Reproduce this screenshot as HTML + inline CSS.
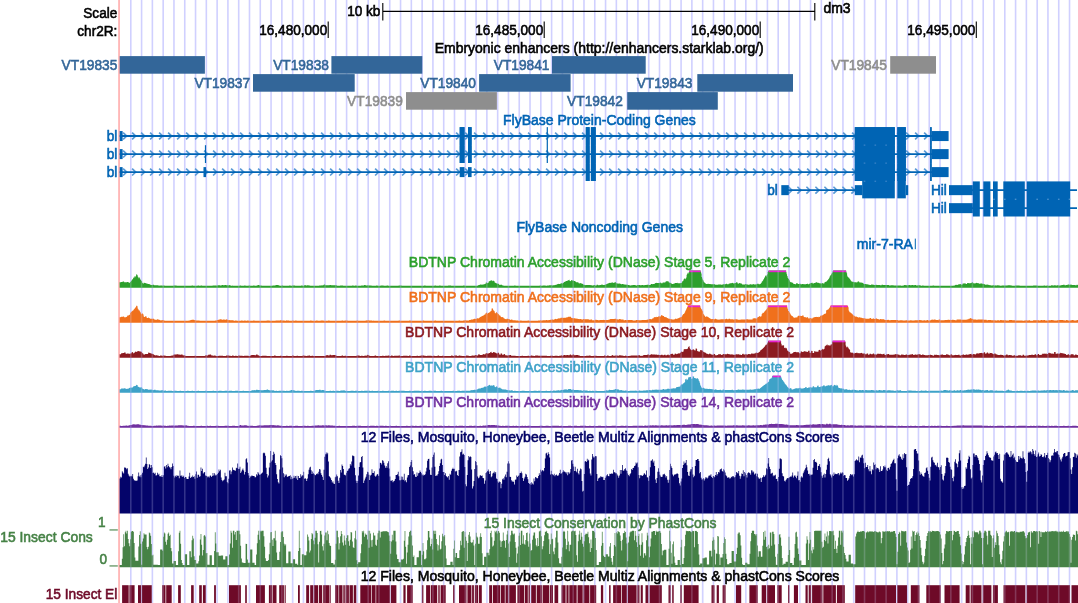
<!DOCTYPE html>
<html><head><meta charset="utf-8"><title>UCSC Genome Browser - dm3 chr2R</title>
<style>
html,body{margin:0;padding:0;background:#fff;}
body{width:1078px;height:603px;overflow:hidden;font-family:"Liberation Sans",sans-serif;}
svg{display:block;will-change:transform;}
svg text{font-family:"Liberation Sans",sans-serif;font-size:15.14px;stroke-width:0.6px;}
</style></head><body>
<svg width="1078" height="603" viewBox="0 0 1078 603">
<rect x="0" y="0" width="1078" height="603" fill="#fff"/>
<path d="M130.8 0V603M141.59 0V603M152.38 0V603M163.17 0V603M173.96 0V603M184.75 0V603M195.54 0V603M206.33 0V603M217.12 0V603M227.91 0V603M238.7 0V603M249.49 0V603M260.28 0V603M271.07 0V603M281.86 0V603M292.65 0V603M303.44 0V603M314.23 0V603M325.02 0V603M335.81 0V603M346.6 0V603M357.39 0V603M368.18 0V603M378.97 0V603M389.76 0V603M400.55 0V603M411.34 0V603M422.13 0V603M432.92 0V603M443.71 0V603M454.5 0V603M465.29 0V603M476.08 0V603M486.87 0V603M497.66 0V603M508.45 0V603M519.24 0V603M530.03 0V603M540.82 0V603M551.61 0V603M562.4 0V603M573.19 0V603M583.98 0V603M594.77 0V603M605.56 0V603M616.35 0V603M627.14 0V603M637.93 0V603M648.72 0V603M659.51 0V603M670.3 0V603M681.09 0V603M691.88 0V603M702.67 0V603M713.46 0V603M724.25 0V603M735.04 0V603M745.83 0V603M756.62 0V603M767.41 0V603M778.2 0V603M788.99 0V603M799.78 0V603M810.57 0V603M821.36 0V603M832.15 0V603M842.94 0V603M853.73 0V603M864.52 0V603M875.31 0V603M886.1 0V603M896.89 0V603M907.68 0V603M918.47 0V603M929.26 0V603M940.05 0V603M950.84 0V603M961.63 0V603M972.42 0V603M983.21 0V603M994 0V603M1004.79 0V603M1015.58 0V603M1026.37 0V603M1037.16 0V603M1047.95 0V603M1058.74 0V603M1069.53 0V603" stroke="#d0d0ff" stroke-width="1.6" fill="none"/>
<rect x="118.3" y="0" width="1.5" height="603" fill="#ffa6a6"/>
<text transform="translate(117.3 17.6) scale(0.8983 1)" fill="#000" stroke="#000" text-anchor="end">Scale</text>
<text transform="translate(117.3 36.2) scale(0.8983 1)" fill="#000" stroke="#000" text-anchor="end">chr2R:</text>
<text transform="translate(380.4 16.2) scale(0.8983 1)" fill="#000" stroke="#000" text-anchor="end">10 kb</text>
<text transform="translate(823.4 13) scale(0.8983 1)" fill="#000" stroke="#000" text-anchor="start" textLength="30.28" lengthAdjust="spacingAndGlyphs">dm3</text>
<path d="M382.8 11.4H814.8M382.8 3V20.5M814.8 3V20.5" stroke="#000" stroke-width="1.1" fill="none"/>
<path d="M328.2 21.5V38" stroke="#000" stroke-width="1.1"/>
<text transform="translate(327.2 35.2) scale(0.8983 1)" fill="#000" stroke="#000" text-anchor="end">16,480,000</text>
<path d="M544.2 21.5V38" stroke="#000" stroke-width="1.1"/>
<text transform="translate(543.2 35.2) scale(0.8983 1)" fill="#000" stroke="#000" text-anchor="end">16,485,000</text>
<path d="M760.2 21.5V38" stroke="#000" stroke-width="1.1"/>
<text transform="translate(759.2 35.2) scale(0.8983 1)" fill="#000" stroke="#000" text-anchor="end">16,490,000</text>
<path d="M976.3 21.5V38" stroke="#000" stroke-width="1.1"/>
<text transform="translate(975.3 35.2) scale(0.8983 1)" fill="#000" stroke="#000" text-anchor="end">16,495,000</text>
<text transform="translate(599.2 53.2) scale(0.8983 1)" fill="#000" stroke="#000" text-anchor="middle" textLength="366.25" lengthAdjust="spacingAndGlyphs">Embryonic enhancers (http://enhancers.starklab.org/)</text>
<rect x="119.7" y="56.1" width="85.2" height="17.6" fill="#336699"/>
<text transform="translate(117.3 70.4) scale(0.8983 1)" fill="#336699" stroke="#336699" text-anchor="end" textLength="62.01" lengthAdjust="spacingAndGlyphs">VT19835</text>
<rect x="331.4" y="56.1" width="90.9" height="17.6" fill="#336699"/>
<text transform="translate(328.9 70.4) scale(0.8983 1)" fill="#336699" stroke="#336699" text-anchor="end" textLength="62.01" lengthAdjust="spacingAndGlyphs">VT19838</text>
<rect x="552" y="56.1" width="93.7" height="17.6" fill="#336699"/>
<text transform="translate(549.5 70.4) scale(0.8983 1)" fill="#336699" stroke="#336699" text-anchor="end" textLength="62.01" lengthAdjust="spacingAndGlyphs">VT19841</text>
<rect x="890.2" y="56.1" width="45.8" height="17.6" fill="#8e8e8e"/>
<text transform="translate(887 70.4) scale(0.8983 1)" fill="#8e8e8e" stroke="#8e8e8e" text-anchor="end" textLength="62.01" lengthAdjust="spacingAndGlyphs">VT19845</text>
<rect x="253" y="74.1" width="101.7" height="17.6" fill="#336699"/>
<text transform="translate(250.1 88.4) scale(0.8983 1)" fill="#336699" stroke="#336699" text-anchor="end" textLength="62.01" lengthAdjust="spacingAndGlyphs">VT19837</text>
<rect x="479.1" y="74.1" width="91.5" height="17.6" fill="#336699"/>
<text transform="translate(476 88.4) scale(0.8983 1)" fill="#336699" stroke="#336699" text-anchor="end" textLength="62.01" lengthAdjust="spacingAndGlyphs">VT19840</text>
<rect x="697.3" y="74.1" width="95.7" height="17.6" fill="#336699"/>
<text transform="translate(692.4 88.4) scale(0.8983 1)" fill="#336699" stroke="#336699" text-anchor="end" textLength="62.01" lengthAdjust="spacingAndGlyphs">VT19843</text>
<rect x="406" y="92.1" width="90.9" height="17.6" fill="#8e8e8e"/>
<text transform="translate(402.8 106.4) scale(0.8983 1)" fill="#8e8e8e" stroke="#8e8e8e" text-anchor="end" textLength="62.01" lengthAdjust="spacingAndGlyphs">VT19839</text>
<rect x="627.2" y="92.1" width="90.6" height="17.6" fill="#336699"/>
<text transform="translate(622.8 106.4) scale(0.8983 1)" fill="#336699" stroke="#336699" text-anchor="end" textLength="62.01" lengthAdjust="spacingAndGlyphs">VT19842</text>
<text transform="translate(599.4 124.6) scale(0.8983 1)" fill="#0064b4" stroke="#0064b4" text-anchor="middle" textLength="214.63" lengthAdjust="spacingAndGlyphs">FlyBase Protein-Coding Genes</text>
<path d="M123.1 132.65L126.7 136.05L123.1 139.45M132.1 132.65L135.7 136.05L132.1 139.45M141.1 132.65L144.7 136.05L141.1 139.45M150.1 132.65L153.7 136.05L150.1 139.45M159.1 132.65L162.7 136.05L159.1 139.45M168.1 132.65L171.7 136.05L168.1 139.45M177.1 132.65L180.7 136.05L177.1 139.45M186.1 132.65L189.7 136.05L186.1 139.45M195.1 132.65L198.7 136.05L195.1 139.45M204.1 132.65L207.7 136.05L204.1 139.45M213.1 132.65L216.7 136.05L213.1 139.45M222.1 132.65L225.7 136.05L222.1 139.45M231.1 132.65L234.7 136.05L231.1 139.45M240.1 132.65L243.7 136.05L240.1 139.45M249.1 132.65L252.7 136.05L249.1 139.45M258.1 132.65L261.7 136.05L258.1 139.45M267.1 132.65L270.7 136.05L267.1 139.45M276.1 132.65L279.7 136.05L276.1 139.45M285.1 132.65L288.7 136.05L285.1 139.45M294.1 132.65L297.7 136.05L294.1 139.45M303.1 132.65L306.7 136.05L303.1 139.45M312.1 132.65L315.7 136.05L312.1 139.45M321.1 132.65L324.7 136.05L321.1 139.45M330.1 132.65L333.7 136.05L330.1 139.45M339.1 132.65L342.7 136.05L339.1 139.45M348.1 132.65L351.7 136.05L348.1 139.45M357.1 132.65L360.7 136.05L357.1 139.45M366.1 132.65L369.7 136.05L366.1 139.45M375.1 132.65L378.7 136.05L375.1 139.45M384.1 132.65L387.7 136.05L384.1 139.45M393.1 132.65L396.7 136.05L393.1 139.45M402.1 132.65L405.7 136.05L402.1 139.45M411.1 132.65L414.7 136.05L411.1 139.45M420.1 132.65L423.7 136.05L420.1 139.45M429.1 132.65L432.7 136.05L429.1 139.45M438.1 132.65L441.7 136.05L438.1 139.45M447.1 132.65L450.7 136.05L447.1 139.45M456.1 132.65L459.7 136.05L456.1 139.45M465.1 132.65L468.7 136.05L465.1 139.45M474.1 132.65L477.7 136.05L474.1 139.45M483.1 132.65L486.7 136.05L483.1 139.45M492.1 132.65L495.7 136.05L492.1 139.45M501.1 132.65L504.7 136.05L501.1 139.45M510.1 132.65L513.7 136.05L510.1 139.45M519.1 132.65L522.7 136.05L519.1 139.45M528.1 132.65L531.7 136.05L528.1 139.45M537.1 132.65L540.7 136.05L537.1 139.45M546.1 132.65L549.7 136.05L546.1 139.45M555.1 132.65L558.7 136.05L555.1 139.45M564.1 132.65L567.7 136.05L564.1 139.45M573.1 132.65L576.7 136.05L573.1 139.45M582.1 132.65L585.7 136.05L582.1 139.45M591.1 132.65L594.7 136.05L591.1 139.45M600.1 132.65L603.7 136.05L600.1 139.45M609.1 132.65L612.7 136.05L609.1 139.45M618.1 132.65L621.7 136.05L618.1 139.45M627.1 132.65L630.7 136.05L627.1 139.45M636.1 132.65L639.7 136.05L636.1 139.45M645.1 132.65L648.7 136.05L645.1 139.45M654.1 132.65L657.7 136.05L654.1 139.45M663.1 132.65L666.7 136.05L663.1 139.45M672.1 132.65L675.7 136.05L672.1 139.45M681.1 132.65L684.7 136.05L681.1 139.45M690.1 132.65L693.7 136.05L690.1 139.45M699.1 132.65L702.7 136.05L699.1 139.45M708.1 132.65L711.7 136.05L708.1 139.45M717.1 132.65L720.7 136.05L717.1 139.45M726.1 132.65L729.7 136.05L726.1 139.45M735.1 132.65L738.7 136.05L735.1 139.45M744.1 132.65L747.7 136.05L744.1 139.45M753.1 132.65L756.7 136.05L753.1 139.45M762.1 132.65L765.7 136.05L762.1 139.45M771.1 132.65L774.7 136.05L771.1 139.45M780.1 132.65L783.7 136.05L780.1 139.45M789.1 132.65L792.7 136.05L789.1 139.45M798.1 132.65L801.7 136.05L798.1 139.45M807.1 132.65L810.7 136.05L807.1 139.45M816.1 132.65L819.7 136.05L816.1 139.45M825.1 132.65L828.7 136.05L825.1 139.45M834.1 132.65L837.7 136.05L834.1 139.45M843.1 132.65L846.7 136.05L843.1 139.45M852.1 132.65L855.7 136.05L852.1 139.45M861.1 132.65L864.7 136.05L861.1 139.45M870.1 132.65L873.7 136.05L870.1 139.45M879.1 132.65L882.7 136.05L879.1 139.45M888.1 132.65L891.7 136.05L888.1 139.45M897.1 132.65L900.7 136.05L897.1 139.45M906.1 132.65L909.7 136.05L906.1 139.45M915.1 132.65L918.7 136.05L915.1 139.45M924.1 132.65L927.7 136.05L924.1 139.45" stroke="#5a9ad6" stroke-width="1.7" fill="none"/>
<path d="M119.7 136.05H932" stroke="#0064b4" stroke-width="1.9"/>
<text transform="translate(117.3 141.25) scale(0.8983 1)" fill="#0064b4" stroke="#0064b4" text-anchor="end">bl</text>
<rect x="119.7" y="131.05" width="2.9" height="10" fill="#0064b4"/>
<rect x="459.7" y="127.15" width="4.8" height="17.8" fill="#0064b4"/>
<rect x="468" y="127.15" width="3.6" height="17.8" fill="#0064b4"/>
<rect x="585.8" y="127.15" width="3.8" height="17.8" fill="#0064b4"/>
<rect x="590.9" y="127.15" width="4.8" height="17.8" fill="#0064b4"/>
<rect x="854.8" y="127.15" width="40" height="17.8" fill="#0064b4"/>
<rect x="897.3" y="127.15" width="8.5" height="17.8" fill="#0064b4"/>
<rect x="930.2" y="127.15" width="1.4" height="17.8" fill="#0064b4"/>
<rect x="931.6" y="131.05" width="17" height="10" fill="#0064b4"/>
<path d="M123.1 150.7L126.7 154.1L123.1 157.5M132.1 150.7L135.7 154.1L132.1 157.5M141.1 150.7L144.7 154.1L141.1 157.5M150.1 150.7L153.7 154.1L150.1 157.5M159.1 150.7L162.7 154.1L159.1 157.5M168.1 150.7L171.7 154.1L168.1 157.5M177.1 150.7L180.7 154.1L177.1 157.5M186.1 150.7L189.7 154.1L186.1 157.5M195.1 150.7L198.7 154.1L195.1 157.5M204.1 150.7L207.7 154.1L204.1 157.5M213.1 150.7L216.7 154.1L213.1 157.5M222.1 150.7L225.7 154.1L222.1 157.5M231.1 150.7L234.7 154.1L231.1 157.5M240.1 150.7L243.7 154.1L240.1 157.5M249.1 150.7L252.7 154.1L249.1 157.5M258.1 150.7L261.7 154.1L258.1 157.5M267.1 150.7L270.7 154.1L267.1 157.5M276.1 150.7L279.7 154.1L276.1 157.5M285.1 150.7L288.7 154.1L285.1 157.5M294.1 150.7L297.7 154.1L294.1 157.5M303.1 150.7L306.7 154.1L303.1 157.5M312.1 150.7L315.7 154.1L312.1 157.5M321.1 150.7L324.7 154.1L321.1 157.5M330.1 150.7L333.7 154.1L330.1 157.5M339.1 150.7L342.7 154.1L339.1 157.5M348.1 150.7L351.7 154.1L348.1 157.5M357.1 150.7L360.7 154.1L357.1 157.5M366.1 150.7L369.7 154.1L366.1 157.5M375.1 150.7L378.7 154.1L375.1 157.5M384.1 150.7L387.7 154.1L384.1 157.5M393.1 150.7L396.7 154.1L393.1 157.5M402.1 150.7L405.7 154.1L402.1 157.5M411.1 150.7L414.7 154.1L411.1 157.5M420.1 150.7L423.7 154.1L420.1 157.5M429.1 150.7L432.7 154.1L429.1 157.5M438.1 150.7L441.7 154.1L438.1 157.5M447.1 150.7L450.7 154.1L447.1 157.5M456.1 150.7L459.7 154.1L456.1 157.5M465.1 150.7L468.7 154.1L465.1 157.5M474.1 150.7L477.7 154.1L474.1 157.5M483.1 150.7L486.7 154.1L483.1 157.5M492.1 150.7L495.7 154.1L492.1 157.5M501.1 150.7L504.7 154.1L501.1 157.5M510.1 150.7L513.7 154.1L510.1 157.5M519.1 150.7L522.7 154.1L519.1 157.5M528.1 150.7L531.7 154.1L528.1 157.5M537.1 150.7L540.7 154.1L537.1 157.5M546.1 150.7L549.7 154.1L546.1 157.5M555.1 150.7L558.7 154.1L555.1 157.5M564.1 150.7L567.7 154.1L564.1 157.5M573.1 150.7L576.7 154.1L573.1 157.5M582.1 150.7L585.7 154.1L582.1 157.5M591.1 150.7L594.7 154.1L591.1 157.5M600.1 150.7L603.7 154.1L600.1 157.5M609.1 150.7L612.7 154.1L609.1 157.5M618.1 150.7L621.7 154.1L618.1 157.5M627.1 150.7L630.7 154.1L627.1 157.5M636.1 150.7L639.7 154.1L636.1 157.5M645.1 150.7L648.7 154.1L645.1 157.5M654.1 150.7L657.7 154.1L654.1 157.5M663.1 150.7L666.7 154.1L663.1 157.5M672.1 150.7L675.7 154.1L672.1 157.5M681.1 150.7L684.7 154.1L681.1 157.5M690.1 150.7L693.7 154.1L690.1 157.5M699.1 150.7L702.7 154.1L699.1 157.5M708.1 150.7L711.7 154.1L708.1 157.5M717.1 150.7L720.7 154.1L717.1 157.5M726.1 150.7L729.7 154.1L726.1 157.5M735.1 150.7L738.7 154.1L735.1 157.5M744.1 150.7L747.7 154.1L744.1 157.5M753.1 150.7L756.7 154.1L753.1 157.5M762.1 150.7L765.7 154.1L762.1 157.5M771.1 150.7L774.7 154.1L771.1 157.5M780.1 150.7L783.7 154.1L780.1 157.5M789.1 150.7L792.7 154.1L789.1 157.5M798.1 150.7L801.7 154.1L798.1 157.5M807.1 150.7L810.7 154.1L807.1 157.5M816.1 150.7L819.7 154.1L816.1 157.5M825.1 150.7L828.7 154.1L825.1 157.5M834.1 150.7L837.7 154.1L834.1 157.5M843.1 150.7L846.7 154.1L843.1 157.5M852.1 150.7L855.7 154.1L852.1 157.5M861.1 150.7L864.7 154.1L861.1 157.5M870.1 150.7L873.7 154.1L870.1 157.5M879.1 150.7L882.7 154.1L879.1 157.5M888.1 150.7L891.7 154.1L888.1 157.5M897.1 150.7L900.7 154.1L897.1 157.5M906.1 150.7L909.7 154.1L906.1 157.5M915.1 150.7L918.7 154.1L915.1 157.5M924.1 150.7L927.7 154.1L924.1 157.5" stroke="#5a9ad6" stroke-width="1.7" fill="none"/>
<path d="M119.7 154.1H932" stroke="#0064b4" stroke-width="1.9"/>
<text transform="translate(117.3 159.3) scale(0.8983 1)" fill="#0064b4" stroke="#0064b4" text-anchor="end">bl</text>
<rect x="119.7" y="149.1" width="2.9" height="10" fill="#0064b4"/>
<rect x="459.7" y="145.2" width="4.8" height="17.8" fill="#0064b4"/>
<rect x="468" y="145.2" width="3.6" height="17.8" fill="#0064b4"/>
<rect x="585.8" y="145.2" width="3.8" height="17.8" fill="#0064b4"/>
<rect x="590.9" y="145.2" width="4.8" height="17.8" fill="#0064b4"/>
<rect x="854.8" y="145.2" width="40" height="17.8" fill="#0064b4"/>
<rect x="897.3" y="145.2" width="8.5" height="17.8" fill="#0064b4"/>
<rect x="930.2" y="145.2" width="1.4" height="17.8" fill="#0064b4"/>
<rect x="931.6" y="149.1" width="17" height="10" fill="#0064b4"/>
<path d="M123.1 168.7L126.7 172.1L123.1 175.5M132.1 168.7L135.7 172.1L132.1 175.5M141.1 168.7L144.7 172.1L141.1 175.5M150.1 168.7L153.7 172.1L150.1 175.5M159.1 168.7L162.7 172.1L159.1 175.5M168.1 168.7L171.7 172.1L168.1 175.5M177.1 168.7L180.7 172.1L177.1 175.5M186.1 168.7L189.7 172.1L186.1 175.5M195.1 168.7L198.7 172.1L195.1 175.5M204.1 168.7L207.7 172.1L204.1 175.5M213.1 168.7L216.7 172.1L213.1 175.5M222.1 168.7L225.7 172.1L222.1 175.5M231.1 168.7L234.7 172.1L231.1 175.5M240.1 168.7L243.7 172.1L240.1 175.5M249.1 168.7L252.7 172.1L249.1 175.5M258.1 168.7L261.7 172.1L258.1 175.5M267.1 168.7L270.7 172.1L267.1 175.5M276.1 168.7L279.7 172.1L276.1 175.5M285.1 168.7L288.7 172.1L285.1 175.5M294.1 168.7L297.7 172.1L294.1 175.5M303.1 168.7L306.7 172.1L303.1 175.5M312.1 168.7L315.7 172.1L312.1 175.5M321.1 168.7L324.7 172.1L321.1 175.5M330.1 168.7L333.7 172.1L330.1 175.5M339.1 168.7L342.7 172.1L339.1 175.5M348.1 168.7L351.7 172.1L348.1 175.5M357.1 168.7L360.7 172.1L357.1 175.5M366.1 168.7L369.7 172.1L366.1 175.5M375.1 168.7L378.7 172.1L375.1 175.5M384.1 168.7L387.7 172.1L384.1 175.5M393.1 168.7L396.7 172.1L393.1 175.5M402.1 168.7L405.7 172.1L402.1 175.5M411.1 168.7L414.7 172.1L411.1 175.5M420.1 168.7L423.7 172.1L420.1 175.5M429.1 168.7L432.7 172.1L429.1 175.5M438.1 168.7L441.7 172.1L438.1 175.5M447.1 168.7L450.7 172.1L447.1 175.5M456.1 168.7L459.7 172.1L456.1 175.5M465.1 168.7L468.7 172.1L465.1 175.5M474.1 168.7L477.7 172.1L474.1 175.5M483.1 168.7L486.7 172.1L483.1 175.5M492.1 168.7L495.7 172.1L492.1 175.5M501.1 168.7L504.7 172.1L501.1 175.5M510.1 168.7L513.7 172.1L510.1 175.5M519.1 168.7L522.7 172.1L519.1 175.5M528.1 168.7L531.7 172.1L528.1 175.5M537.1 168.7L540.7 172.1L537.1 175.5M546.1 168.7L549.7 172.1L546.1 175.5M555.1 168.7L558.7 172.1L555.1 175.5M564.1 168.7L567.7 172.1L564.1 175.5M573.1 168.7L576.7 172.1L573.1 175.5M582.1 168.7L585.7 172.1L582.1 175.5M591.1 168.7L594.7 172.1L591.1 175.5M600.1 168.7L603.7 172.1L600.1 175.5M609.1 168.7L612.7 172.1L609.1 175.5M618.1 168.7L621.7 172.1L618.1 175.5M627.1 168.7L630.7 172.1L627.1 175.5M636.1 168.7L639.7 172.1L636.1 175.5M645.1 168.7L648.7 172.1L645.1 175.5M654.1 168.7L657.7 172.1L654.1 175.5M663.1 168.7L666.7 172.1L663.1 175.5M672.1 168.7L675.7 172.1L672.1 175.5M681.1 168.7L684.7 172.1L681.1 175.5M690.1 168.7L693.7 172.1L690.1 175.5M699.1 168.7L702.7 172.1L699.1 175.5M708.1 168.7L711.7 172.1L708.1 175.5M717.1 168.7L720.7 172.1L717.1 175.5M726.1 168.7L729.7 172.1L726.1 175.5M735.1 168.7L738.7 172.1L735.1 175.5M744.1 168.7L747.7 172.1L744.1 175.5M753.1 168.7L756.7 172.1L753.1 175.5M762.1 168.7L765.7 172.1L762.1 175.5M771.1 168.7L774.7 172.1L771.1 175.5M780.1 168.7L783.7 172.1L780.1 175.5M789.1 168.7L792.7 172.1L789.1 175.5M798.1 168.7L801.7 172.1L798.1 175.5M807.1 168.7L810.7 172.1L807.1 175.5M816.1 168.7L819.7 172.1L816.1 175.5M825.1 168.7L828.7 172.1L825.1 175.5M834.1 168.7L837.7 172.1L834.1 175.5M843.1 168.7L846.7 172.1L843.1 175.5M852.1 168.7L855.7 172.1L852.1 175.5M861.1 168.7L864.7 172.1L861.1 175.5M870.1 168.7L873.7 172.1L870.1 175.5M879.1 168.7L882.7 172.1L879.1 175.5M888.1 168.7L891.7 172.1L888.1 175.5M897.1 168.7L900.7 172.1L897.1 175.5M906.1 168.7L909.7 172.1L906.1 175.5M915.1 168.7L918.7 172.1L915.1 175.5M924.1 168.7L927.7 172.1L924.1 175.5" stroke="#5a9ad6" stroke-width="1.7" fill="none"/>
<path d="M119.7 172.1H932" stroke="#0064b4" stroke-width="1.9"/>
<text transform="translate(117.3 177.3) scale(0.8983 1)" fill="#0064b4" stroke="#0064b4" text-anchor="end">bl</text>
<rect x="119.7" y="167.1" width="2.9" height="10" fill="#0064b4"/>
<rect x="459.7" y="167.1" width="4.8" height="10" fill="#0064b4"/>
<rect x="468" y="167.1" width="3.6" height="10" fill="#0064b4"/>
<rect x="585.8" y="163.2" width="3.8" height="17.8" fill="#0064b4"/>
<rect x="590.9" y="163.2" width="4.8" height="17.8" fill="#0064b4"/>
<rect x="854.8" y="163.2" width="40" height="17.8" fill="#0064b4"/>
<rect x="897.3" y="163.2" width="8.5" height="17.8" fill="#0064b4"/>
<rect x="930.2" y="163.2" width="1.4" height="17.8" fill="#0064b4"/>
<rect x="931.6" y="167.1" width="17" height="10" fill="#0064b4"/>
<rect x="459.7" y="127.15" width="4.8" height="35.85" fill="#0064b4"/>
<rect x="468" y="127.15" width="3.6" height="35.85" fill="#0064b4"/>
<rect x="585.8" y="127.15" width="3.8" height="53.85" fill="#0064b4"/>
<rect x="590.9" y="127.15" width="4.8" height="53.85" fill="#0064b4"/>
<rect x="854.8" y="127.15" width="40" height="53.85" fill="#0064b4"/>
<rect x="897.3" y="127.15" width="8.5" height="53.85" fill="#0064b4"/>
<rect x="930.2" y="127.15" width="1.4" height="53.85" fill="#0064b4"/>
<rect x="546.7" y="127.15" width="1.2" height="35.85" fill="#0064b4"/>
<rect x="204.9" y="145.2" width="1.2" height="17.8" fill="#0064b4"/>
<rect x="203.5" y="167.1" width="2.6" height="10" fill="#0064b4"/>
<path d="M788.4 186.75L792 190.15L788.4 193.55M797.4 186.75L801 190.15L797.4 193.55M806.4 186.75L810 190.15L806.4 193.55M815.4 186.75L819 190.15L815.4 193.55M824.4 186.75L828 190.15L824.4 193.55M833.4 186.75L837 190.15L833.4 193.55M842.4 186.75L846 190.15L842.4 193.55M851.4 186.75L855 190.15L851.4 193.55" stroke="#5a9ad6" stroke-width="1.7" fill="none"/>
<path d="M785 190.15H860" stroke="#0064b4" stroke-width="1.9"/>
<text transform="translate(777.8 195.35) scale(0.8983 1)" fill="#0064b4" stroke="#0064b4" text-anchor="end">bl</text>
<rect x="781.3" y="185.15" width="7.5" height="10" fill="#0064b4"/>
<rect x="854.8" y="185.15" width="7.6" height="10" fill="#0064b4"/>
<rect x="862.2" y="180.5" width="32.6" height="17.85" fill="#0064b4"/>
<rect x="897.3" y="180.5" width="8.5" height="17.85" fill="#0064b4"/>
<rect x="905.8" y="185.15" width="2.4" height="10" fill="#0064b4"/>
<path d="M949 190.15H1077" stroke="#0064b4" stroke-width="1.9"/>
<text transform="translate(931 195.35) scale(0.8983 1)" fill="#0064b4" stroke="#0064b4" text-anchor="start">Hil</text>
<rect x="949" y="185.15" width="23.8" height="10" fill="#0064b4"/>
<path d="M949 208.15H1077" stroke="#0064b4" stroke-width="1.9"/>
<text transform="translate(931 213.35) scale(0.8983 1)" fill="#0064b4" stroke="#0064b4" text-anchor="start">Hil</text>
<rect x="949" y="203.15" width="23.8" height="10" fill="#0064b4"/>
<rect x="972.8" y="181.4" width="7" height="35.1" fill="#0064b4"/>
<rect x="983.3" y="181.4" width="7.1" height="35.1" fill="#0064b4"/>
<rect x="993" y="181.4" width="4.7" height="35.1" fill="#0064b4"/>
<rect x="1003.3" y="181.4" width="21.5" height="35.1" fill="#0064b4"/>
<rect x="1026.7" y="181.4" width="43.5" height="35.1" fill="#0064b4"/>
<rect x="993.2" y="198.75" width="1.6" height="0.9" fill="#6fa8dc"/>
<rect x="1003.99" y="198.75" width="1.6" height="0.9" fill="#6fa8dc"/>
<rect x="1014.78" y="198.75" width="1.6" height="0.9" fill="#6fa8dc"/>
<rect x="1036.36" y="198.75" width="1.6" height="0.9" fill="#6fa8dc"/>
<rect x="1047.15" y="198.75" width="1.6" height="0.9" fill="#6fa8dc"/>
<rect x="1057.94" y="198.75" width="1.6" height="0.9" fill="#6fa8dc"/>
<rect x="1068.73" y="198.75" width="1.6" height="0.9" fill="#6fa8dc"/>
<rect x="863.72" y="144.65" width="1.6" height="0.9" fill="#4f90cf"/>
<rect x="874.51" y="144.65" width="1.6" height="0.9" fill="#4f90cf"/>
<rect x="885.3" y="144.65" width="1.6" height="0.9" fill="#4f90cf"/>
<rect x="863.72" y="162.65" width="1.6" height="0.9" fill="#4f90cf"/>
<rect x="874.51" y="162.65" width="1.6" height="0.9" fill="#4f90cf"/>
<rect x="885.3" y="162.65" width="1.6" height="0.9" fill="#4f90cf"/>
<rect x="863.72" y="180.75" width="1.6" height="0.9" fill="#4f90cf"/>
<rect x="874.51" y="180.75" width="1.6" height="0.9" fill="#4f90cf"/>
<rect x="885.3" y="180.75" width="1.6" height="0.9" fill="#4f90cf"/>
<text transform="translate(599.7 232.1) scale(0.8983 1)" fill="#0064b4" stroke="#0064b4" text-anchor="middle" textLength="185.35" lengthAdjust="spacingAndGlyphs">FlyBase Noncoding Genes</text>
<text transform="translate(913 248.6) scale(0.8983 1)" fill="#0064b4" stroke="#0064b4" text-anchor="end" textLength="62.67" lengthAdjust="spacingAndGlyphs">mir-7-RA</text>
<rect x="914.8" y="238.6" width="1" height="10.6" fill="#0064b4"/>
<text transform="translate(599.55 266.6) scale(0.8983 1)" fill="#2ca02c" stroke="#2ca02c" text-anchor="middle" textLength="424.69" lengthAdjust="spacingAndGlyphs">BDTNP Chromatin Accessibility (DNase) Stage 5, Replicate 2</text>
<path d="M119.6 287.7V282.26H120.1H120.6H121.1V282.12H121.6H122.1H122.6V281.62H123.1H123.6H124.1V282.25H124.6H125.1H125.6V282.19H126.1H126.6H127.1V282.08H127.6H128.1H128.6V282.63H129.1H129.6H130.1V282.07H130.6V281.48H131.1V280.9H131.6V280.1H132.1V279.5H132.6V278.89H133.1V277.9H133.6V277.13H134.1V276.35H134.6V277.44H135.1V276.72H135.6V276H136.1V274.73H136.6V274.01H137.1V274.92H137.6V276.39H138.1V277.3H138.6V278.2H139.1V277.33H139.6V278.31H140.1V279.22H140.6V280.05H141.1V280.66H141.6V281.27H142.1V282.78H142.6V283.3H143.1V283.73H143.6V282.77H144.1V282.86H144.6V282.96H145.1V283.07H145.6V283.16H146.1V283.25H146.6V283.65H147.1V283.74H147.6V283.82H148.1V283.94H148.6V284.03H149.1V284.11H149.6V284.59H150.1V284.67H150.6V284.75H151.1V284.94H151.6V285.01H152.1V285.08H152.6V284.73H153.1V284.77H153.6V284.81H154.1V285.2H154.6V285.23H155.1V285.27H155.6V285.22H156.1V285.26H156.6V285.3H157.1H157.6V285.34H158.1V285.38H158.6V285.55H159.1V285.59H159.6V285.63H160.1V285.41H160.6V285.45H161.1V285.49H161.6V285.55H162.1V285.59H162.6V285.63H163.1V285.45H163.6V285.5H164.1V285.55H164.6V285.76H165.1V285.79H165.6H166.1V285.73H166.6H167.1H167.6V285.8H168.1H168.6H169.1V285.72H169.6H170.1H170.6V285.8H171.1H171.6H172.1H172.6H173.1H173.6V285.55H174.1H174.6H175.1H175.6H176.1H176.6V285.63H177.1H177.6H178.1V285.7H178.6H179.1H179.6V285.8H180.1H180.6H181.1H181.6H182.1H182.6H183.1H183.6H184.1H184.6H185.1H185.6V285.67H186.1H186.6H187.1V285.8H187.6H188.1H188.6V285.63H189.1H189.6H190.1V285.8H190.6H191.1H191.6V285.57H192.1H192.6H193.1V285.63H193.6H194.1H194.6V285.8H195.1H195.6H196.1H196.6H197.1H197.6V285.59H198.1H198.6H199.1V285.8H199.6H200.1H200.6V285.56H201.1H201.6H202.1V285.8H202.6H203.1H203.6H204.1H204.6H205.1V285.74H205.6H206.1H206.6V285.66H207.1H207.6H208.1V285.8H208.6H209.1H209.6H210.1H210.6H211.1H211.6H212.1H212.6V285.57H213.1V285.55H213.6V285.47H214.1V285.51H214.6V285.43H215.1V285.36H215.6V285.66H216.1V285.6H216.6V285.53H217.1V285.39H217.6V285.32H218.1V285.27H218.6V285.37H219.1H219.6H220.1V285.39H220.6H221.1H221.6V284.9H222.1H222.6H223.1V285.32H223.6H224.1H224.6V285.06H225.1H225.6H226.1V285.14H226.6H227.1H227.6V285.31H228.1V285.32H228.6V285.38H229.1V285.11H229.6V285.18H230.1V285.26H230.6V285.68H231.1V285.74H231.6V285.8H232.1V285.6H232.6V285.67H233.1V285.73H233.6V285.8H234.1H234.6H235.1H235.6H236.1H236.6H237.1H237.6H238.1H238.6H239.1H239.6V285.56H240.1H240.6H241.1V285.65H241.6H242.1H242.6V285.8H243.1H243.6H244.1V285.61H244.6H245.1H245.6V285.8H246.1H246.6H247.1H247.6H248.1H248.6V285.62H249.1H249.6H250.1V285.73H250.6H251.1H251.6V285.8H252.1H252.6H253.1V285.56H253.6H254.1H254.6V285.8H255.1H255.6H256.1V285.68H256.6V285.57H257.1V285.46H257.6V285.02H258.1V284.93H258.6V284.99H259.1V285.34H259.6V285.39H260.1V285.45H260.6V285.52H261.1V285.58H261.6V285.64H262.1V285.8H262.6H263.1H263.6H264.1H264.6H265.1V285.76H265.6H266.1H266.6V285.8H267.1H267.6H268.1V285.75H268.6H269.1H269.6V285.8H270.1H270.6H271.1H271.6H272.1H272.6V285.57H273.1V285.54H273.6V285.42H274.1V285.55H274.6V285.44H275.1V285.32H275.6V285.15H276.1V285.06H276.6V285.11H277.1V284.97H277.6V285.03H278.1V285.08H278.6V285.55H279.1V285.6H279.6V285.64H280.1V285.71H280.6V285.75H281.1V285.8H281.6V285.44H282.1V285.5H282.6V285.55H283.1V285.64H283.6H284.1H284.6V285.8H285.1H285.6H286.1H286.6H287.1H287.6V285.68H288.1H288.6H289.1V285.58H289.6H290.1H290.6V285.8H291.1H291.6H292.1V285.57H292.6H293.1H293.6V285.61H294.1H294.6H295.1V285.75H295.6H296.1H296.6V285.8H297.1H297.6H298.1H298.6H299.1H299.6H300.1H300.6H301.1V285.57H301.6H302.1V285.55H302.6V285.8H303.1V285.72H303.6V285.63H304.1V285.26H304.6V285.15H305.1V285.08H305.6V285.4H306.1V285.45H306.6V285.49H307.1V285.19H307.6V285.23H308.1V285.28H308.6V285.45H309.1V285.5H309.6V285.54H310.1V285.75H310.6V285.79H311.1V285.8H311.6H312.1H312.6H313.1V285.69H313.6H314.1H314.6V285.8H315.1H315.6H316.1H316.6H317.1H317.6V285.77H318.1H318.6H319.1V285.62H319.6H320.1V285.6H320.6H321.1V285.49H321.6V285.37H322.1V285.46H322.6V285.36H323.1V285.25H323.6V284.7H324.1V284.6H324.6V284.61H325.1V285.13H325.6H326.1H326.6V285.29H327.1H327.6H328.1V285.14H328.6H329.1H329.6V285.04H330.1H330.6H331.1V285.33H331.6H332.1H332.6V285.28H333.1H333.6H334.1V285.17H334.6H335.1V285.21H335.6V285.19H336.1V285.31H336.6V285.43H337.1V285.79H337.6H338.1H338.6H339.1H339.6H340.1V285.6H340.6H341.1H341.6V285.56H342.1H342.6H343.1V285.72H343.6H344.1H344.6V285.7H345.1H345.6H346.1V285.76H346.6H347.1H347.6V285.8H348.1H348.6H349.1H349.6H350.1H350.6H351.1H351.6H352.1V285.59H352.6H353.1H353.6V285.7H354.1H354.6H355.1V285.57H355.6H356.1H356.6V285.8H357.1H357.6H358.1V285.73H358.6H359.1H359.6V285.8H360.1H360.6V285.74H361.1V285.55H361.6V285.48H362.1V285.42H362.6V285.59H363.1V285.53H363.6V285.48H364.1V285H364.6V284.93H365.1V284.89H365.6V285.52H366.1V285.56H366.6V285.6H367.1V285.35H367.6V285.4H368.1V285.44H368.6V285.37H369.1V285.42H369.6V285.46H370.1V285.42H370.6V285.47H371.1V285.52H371.6V285.65H372.1V285.68H372.6H373.1V285.7H373.6H374.1H374.6V285.65H375.1H375.6H376.1V285.59H376.6H377.1H377.6V285.8H378.1H378.6H379.1V285.71H379.6H380.1H380.6V285.6H381.1H381.6H382.1V285.61H382.6H383.1H383.6V285.8H384.1H384.6H385.1V285.65H385.6H386.1H386.6V285.62H387.1H387.6H388.1V285.76H388.6H389.1H389.6V285.74H390.1H390.6H391.1V285.8H391.6H392.1H392.6V285.76H393.1H393.6H394.1V285.75H394.6H395.1H395.6V285.8H396.1H396.6H397.1V285.73H397.6H398.1H398.6V285.55H399.1H399.6H400.1V285.61H400.6H401.1H401.6V285.69H402.1H402.6H403.1V285.8H403.6H404.1H404.6V285.68H405.1H405.6H406.1V285.76H406.6H407.1H407.6V285.8H408.1H408.6H409.1V285.63H409.6H410.1H410.6V285.8H411.1H411.6H412.1V285.67H412.6H413.1H413.6V285.8H414.1H414.6H415.1V285.75H415.6H416.1H416.6V285.8H417.1H417.6H418.1H418.6H419.1H419.6V285.7H420.1H420.6H421.1V285.8H421.6H422.1H422.6V285.74H423.1H423.6H424.1V285.59H424.6H425.1H425.6V285.8H426.1H426.6H427.1H427.6H428.1H428.6H429.1H429.6H430.1V285.71H430.6H431.1H431.6V285.8H432.1H432.6H433.1H433.6H434.1H434.6V285.6H435.1H435.6H436.1V285.72H436.6H437.1H437.6V285.8H438.1H438.6H439.1V285.6H439.6H440.1H440.6V285.8H441.1H441.6H442.1V285.72H442.6H443.1H443.6V285.8H444.1H444.6H445.1H445.6H446.1H446.6V285.65H447.1H447.6H448.1V285.59H448.6H449.1H449.6V285.61H450.1H450.6H451.1V285.8H451.6H452.1H452.6V285.76H453.1H453.6H454.1V285.8H454.6H455.1H455.6H456.1H456.6H457.1H457.6H458.1H458.6V285.63H459.1H459.6H460.1H460.6H461.1H461.6V285.69H462.1H462.6H463.1V285.57H463.6H464.1H464.6V285.8H465.1H465.6H466.1H466.6H467.1H467.6H468.1H468.6H469.1H469.6H470.1H470.6H471.1H471.6H472.1H472.6H473.1H473.6V285.74H474.1H474.6H475.1V285.8H475.6H476.1V285.78H476.6V285.77H477.1V285.66H477.6V285.56H478.1V285.14H478.6V285.02H479.1V284.9H479.6V284.69H480.1V284.57H480.6V284.45H481.1V284.73H481.6V284.62H482.1V284.5H482.6V284.65H483.1V284.49H483.6V284.33H484.1V284.21H484.6V284.05H485.1V283.89H485.6V282.79H486.1V282.59H486.6V282.39H487.1V283.22H487.6V282.97H488.1V282.73H488.6V281.51H489.1V281.22H489.6V280.92H490.1V280.86H490.6V280.58H491.1V280.3H491.6V280.61H492.1V280.87H492.6V281.14H493.1V280.61H493.6V280.91H494.1V281.21H494.6V282.61H495.1V282.86H495.6V283.1H496.1V283.2H496.6V283.43H497.1V283.65H497.6V283.55H498.1V283.79H498.6V284.04H499.1V284.66H499.6V284.89H500.1V285.08H500.6V284.59H501.1V284.71H501.6V284.83H502.1V285.33H502.6V285.44H503.1V285.54H503.6V285.7H504.1V285.8H504.6H505.1H505.6H506.1H506.6V285.74H507.1H507.6H508.1V285.8H508.6H509.1H509.6V285.74H510.1H510.6H511.1V285.72H511.6H512.1H512.6V285.65H513.1H513.6H514.1V285.57H514.6H515.1H515.6V285.71H516.1H516.6H517.1V285.8H517.6H518.1H518.6H519.1H519.6H520.1H520.6H521.1H521.6H522.1H522.6H523.1H523.6H524.1H524.6V285.69H525.1H525.6H526.1V285.8H526.6H527.1H527.6H528.1H528.6H529.1H529.6H530.1H530.6V285.7H531.1H531.6H532.1V285.79H532.6H533.1H533.6V285.74H534.1H534.6H535.1V285.67H535.6H536.1H536.6V285.8H537.1H537.6H538.1V285.65H538.6H539.1H539.6V285.6H540.1H540.6V285.57H541.1V285.8H541.6H542.1H542.6V285.47H543.1V285.45H543.6V285.42H544.1V285.52H544.6V285.49H545.1V285.47H545.6V285.78H546.1V285.76H546.6V285.74H547.1V285.54H547.6V285.52H548.1V285.5H548.6V285.38H549.1V285.36H549.6V285.34H550.1V285.15H550.6V285.13H551.1V285.11H551.6V285.41H552.1V285.39H552.6V285.37H553.1V285.23H553.6V285.21H554.1V285.19H554.6V284.97H555.1V284.92H555.6V284.77H556.1V284.67H556.6V284.52H557.1V284.37H557.6V284.09H558.1V283.93H558.6V283.78H559.1V284.06H559.6V283.92H560.1V283.78H560.6V283.44H561.1V283.3H561.6V283.15H562.1V283.49H562.6V283.29H563.1V283.09H563.6V282.23H564.1V282H564.6V281.78H565.1V281.41H565.6V281.18H566.1V280.95H566.6V281H567.1V280.78H567.6V280.56H568.1V280.2H568.6V279.98H569.1V279.83H569.6V280.89H570.1V281.02H570.6V281.15H571.1V280.12H571.6V280.28H572.1V280.43H572.6V280.46H573.1V280.62H573.6V280.78H574.1V280.94H574.6V281.1H575.1V281.26H575.6V282.03H576.1V282.18H576.6V282.34H577.1V282.17H577.6V282.34H578.1V282.51H578.6V283.22H579.1V283.37H579.6V283.52H580.1V283.05H580.6V283.22H581.1V283.39H581.6V283.61H582.1V283.78H582.6V283.95H583.1V284.54H583.6V284.7H584.1V284.82H584.6V285.06H585.1V285.09H585.6V285.13H586.1V284.9H586.6V284.94H587.1V284.97H587.6V284.93H588.1V284.97H588.6V285.01H589.1V284.9H589.6V284.94H590.1V284.98H590.6V285.2H591.1V285.24H591.6V285.28H592.1V285.59H592.6V285.57H593.1V285.54H593.6V285.02H594.1V285H594.6V284.97H595.1V285.43H595.6V285.41H596.1V285.39H596.6V284.87H597.1V284.84H597.6V284.81H598.1V285.22H598.6V285.2H599.1V285.18H599.6V285.04H600.1V285.01H600.6V284.99H601.1V284.64H601.6V284.61H602.1V284.58H602.6V285.04H603.1V285.02H603.6V284.99H604.1V284.94H604.6V284.82H605.1V284.7H605.6V284.26H606.1V284.13H606.6V283.99H607.1V283.66H607.6V283.52H608.1V283.38H608.6V283.11H609.1V282.97H609.6V282.83H610.1V282.88H610.6V282.84H611.1V282.81H611.6V282.47H612.1V282.43H612.6V282.4H613.1V282.9H613.6V282.87H614.1V282.84H614.6V282.24H615.1V282.21H615.6V282.17H616.1V283.24H616.6V283.35H617.1V283.46H617.6V283.42H618.1V283.54H618.6V283.65H619.1V283.45H619.6V283.57H620.1V283.7H620.6V284.05H621.1V284.17H621.6V284.29H622.1V284.01H622.6V284.08H623.1V284.16H623.6V284.3H624.1V284.38H624.6V284.45H625.1V284.61H625.6V284.68H626.1V284.75H626.6V284.58H627.1V284.66H627.6V284.73H628.1V285H628.6V285.07H629.1V285.14H629.6V285.36H630.1V285.42H630.6H631.1V285.36H631.6H632.1H632.6V285.06H633.1H633.6H634.1V285.01H634.6H635.1H635.6V285.43H636.1H636.6H637.1V285.01H637.6H638.1H638.6V284.91H639.1H639.6H640.1V285.18H640.6V285.15H641.1V285.13H641.6V285.07H642.1V285.05H642.6V285.02H643.1V285.25H643.6V285.23H644.1V285.2H644.6V284.94H645.1V284.92H645.6V284.89H646.1H646.6V284.87H647.1V284.84H647.6V284.74H648.1V284.72H648.6V284.69H649.1V285.1H649.6V285.08H650.1V285.04H650.6V284.17H651.1V284.04H651.6V283.9H652.1V284.16H652.6V284.04H653.1V283.91H653.6V283.9H654.1V283.78H654.6V283.65H655.1V283.1H655.6V282.97H656.1V282.85H656.6V283.08H657.1V283.04H657.6V282.99H658.1V283.04H658.6V282.99H659.1V282.95H659.6V282.67H660.1V282.63H660.6V282.58H661.1V283.31H661.6V283.27H662.1V283.23H662.6V282.55H663.1V282.47H663.6V282.38H664.1V282.46H664.6V282.38H665.1V282.3H665.6V281.47H666.1V281.37H666.6V281.28H667.1V281.24H667.6V281.15H668.1V281.13H668.6V282.33H669.1V282.56H669.6V282.8H670.1V282.78H670.6V283.03H671.1V283.28H671.6V283.89H672.1V284.07H672.6V284.03H673.1V283.68H673.6V283.64H674.1V283.59H674.6V283.15H675.1V283.11H675.6V283.06H676.1V282.92H676.6V282.88H677.1V282.83H677.6V283.26H678.1V283.21H678.6V283.13H679.1V283.23H679.6V283.15H680.1V283.07H680.6V283.15H681.1V282.99H681.6V282.53H682.1V281.42H682.6V280.91H683.1V280.39H683.6V279.31H684.1V278.75H684.6V278.2H685.1V279.33H685.6V278.42H686.1V277.46H686.6V274.77H687.1V273.77H687.6V272.74H688.1V273.53H688.6V272.35H689.1V270.6H689.6H690.1H690.6H691.1H691.6H692.1H692.6H693.1H693.6H694.1H694.6H695.1H695.6H696.1H696.6H697.1H697.6H698.1H698.6H699.1H699.6H700.1H700.6V271.69H701.1V273.59H701.6V276.98H702.1V278.44H702.6V279.8H703.1V280.48H703.6V281.76H704.1V282.17H704.6V282.9H705.1V283.27H705.6V283.65H706.1V284.01H706.6V284.05H707.1V284.09H707.6V283.8H708.1V283.85H708.6V283.89H709.1V284.02H709.6V284.06H710.1V284.1H710.6V284.2H711.1V284.24H711.6V284.28H712.1H712.6V284.31H713.1V284.33H713.6V284.25H714.1V284.28H714.6V284.3H715.1V284.64H715.6V284.67H716.1V284.69H716.6V284.68H717.1V284.7H717.6V284.72H718.1V284.4H718.6V284.42H719.1V284.45H719.6V284.47H720.1V284.5H720.6V284.52H721.1V284.63H721.6V284.66H722.1H722.6V284.35H723.1V284.28H723.6V284.21H724.1V284.35H724.6V284.28H725.1V284.22H725.6V283.94H726.1V283.87H726.6V283.8H727.1V284.31H727.6V284.25H728.1V284.19H728.6V283.64H729.1V283.58H729.6V283.51H730.1V283.37H730.6V283.28H731.1V283.19H731.6V283H732.1V282.91H732.6V282.82H733.1V283.39H733.6V283.31H734.1V283.23H734.6V283.15H735.1V283.07H735.6V282.99H736.1V282.2H736.6V282.34H737.1V282.48H737.6V283.42H738.1V283.54H738.6V283.66H739.1V282.95H739.6V283.09H740.1V283.23H740.6V283.47H741.1V283.61H741.6V283.75H742.1V284.53H742.6V284.54H743.1V284.55H743.6V284.48H744.1V284.49H744.6V284.5H745.1V284.1H745.6V284.11H746.1V284.13H746.6V284.54H747.1V284.56H747.6V284.57H748.1V284.72H748.6V284.74H749.1V284.75H749.6V284.15H750.1V284.17H750.6V284.18H751.1V284.54H751.6V284.55H752.1H752.6V284.2H753.1V284.15H753.6V284.09H754.1V284.61H754.6V284.57H755.1V284.52H755.6V284.23H756.1V284.18H756.6V284.13H757.1V283.82H757.6V283.76H758.1V283.71H758.6V284.31H759.1V284.26H759.6V284.22H760.1V283.91H760.6V283.44H761.1V282.98H761.6V281.85H762.1V281.32H762.6V280.8H763.1V279.81H763.6V278.89H764.1V277.98H764.6V276.93H765.1V276H765.6V275.15H766.1V276.47H766.6V275.32H767.1V274.17H767.6V272H768.1V270.85H768.6V270.6H769.1H769.6H770.1H770.6H771.1H771.6H772.1H772.6H773.1H773.6H774.1H774.6H775.1H775.6H776.1H776.6H777.1H777.6H778.1H778.6H779.1H779.6H780.1H780.6H781.1H781.6H782.1H782.6H783.1H783.6H784.1H784.6H785.1H785.6H786.1V272.33H786.6V274.18H787.1V275.99H787.6V277.71H788.1V278.83H788.6V278.64H789.1V279.94H789.6V281.24H790.1V282.11H790.6V282.22H791.1V282.34H791.6V282.52H792.1V282.63H792.6V282.74H793.1V283.76H793.6V283.85H794.1V283.94H794.6V284.07H795.1V284.14H795.6V284.17H796.1V283.31H796.6V283.34H797.1V283.36H797.6V283.87H798.1V283.89H798.6V283.92H799.1V283.65H799.6V283.68H800.1V283.71H800.6V284.14H801.1V284.17H801.6V284.19H802.1V284.09H802.6V284.11H803.1V284.13H803.6V284.12H804.1V284.14H804.6V284.17H805.1V284.25H805.6V284.18H806.1V284.11H806.6V283.88H807.1V283.8H807.6V283.73H808.1V284.24H808.6V284.18H809.1V284.11H809.6V283.33H810.1V283.26H810.6V283.18H811.1V282.95H811.6V282.87H812.1V282.8H812.6V283.48H813.1V283.42H813.6V283.35H814.1V282.96H814.6V282.89H815.1V282.82H815.6V282.4H816.1V282.32H816.6V282.25H817.1V282.64H817.6V282.7H818.1V282.77H818.6V283.1H819.1V283.17H819.6V283.23H820.1V283.33H820.6V283.4H821.1V283.46H821.6V283.13H822.1V283.16H822.6V283.04H823.1V283.5H823.6V283.39H824.1V283.28H824.6V282.05H825.1V281.91H825.6V281.77H826.1V281.66H826.6V281.04H827.1V280.41H827.6V279.96H828.1V279.35H828.6V278.74H829.1V277.69H829.6V276.6H830.1V275.56H830.6V275.16H831.1V274.16H831.6V273.13H832.1V272.53H832.6V271.36H833.1V270.6H833.6H834.1H834.6H835.1H835.6H836.1H836.6H837.1H837.6H838.1H838.6H839.1H839.6H840.1H840.6H841.1H841.6H842.1H842.6H843.1H843.6H844.1H844.6H845.1H845.6H846.1V271.68H846.6V273.18H847.1V275.75H847.6V277.09H848.1V277.79H848.6V277.36H849.1V278.14H849.6V278.92H850.1V279.73H850.6V280.51H851.1V281.16H851.6V281.57H852.1V281.7H852.6V281.83H853.1V281.86H853.6V282H854.1V282.13H854.6V282.26H855.1V282.34H855.6V282.18H856.1V282.49H856.6V282.35H857.1V282.2H857.6V281.6H858.1V281.44H858.6V281.29H859.1V282.2H859.6V282.39H860.1V282.58H860.6V282.4H861.1V282.6H861.6V282.81H862.1V282.86H862.6V283.07H863.1V283.26H863.6V283.91H864.1V284.04H864.6V284.17H865.1V283.97H865.6V284.12H866.1V284.26H866.6V284.16H867.1V284.32H867.6V284.47H868.1V284.61H868.6V284.63H869.1V284.64H869.6V284.95H870.1V284.97H870.6V284.99H871.1V284.47H871.6V284.49H872.1V284.51H872.6V284.73H873.1V284.75H873.6V284.77H874.1V285.02H874.6V285.04H875.1V285.05H875.6V284.84H876.1V284.86H876.6V284.88H877.1V284.96H877.6V284.97H878.1V284.99H878.6V285.03H879.1V285.05H879.6V285.06H880.1V285.18H880.6H881.1H881.6V284.79H882.1H882.6H883.1V285.05H883.6H884.1H884.6V285.04H885.1H885.6H886.1V285.02H886.6H887.1H887.6V284.91H888.1H888.6H889.1V285.54H889.6H890.1H890.6V285.19H891.1H891.6H892.1V285.13H892.6H893.1H893.6V285.45H894.1H894.6H895.1V285.39H895.6H896.1H896.6V285.62H897.1H897.6H898.1V285.56H898.6H899.1H899.6V285.47H900.1H900.6H901.1V285.63H901.6H902.1H902.6V285.52H903.1H903.6H904.1V285.1H904.6H905.1H905.6V285.29H906.1H906.6H907.1V285.3H907.6H908.1H908.6V284.99H909.1H909.6H910.1V285.22H910.6H911.1H911.6V284.93H912.1H912.6H913.1V285.14H913.6H914.1H914.6V285.01H915.1H915.6V285.04H916.1V285.53H916.6V285.56H917.1V285.59H917.6V285.3H918.1V285.33H918.6V285.36H919.1V285.29H919.6V285.33H920.1V285.36H920.6V285.79H921.1H921.6H922.1V285.39H922.6V285.43H923.1V285.46H923.6V285.8H924.1H924.6H925.1H925.6H926.1H926.6H927.1H927.6H928.1H928.6H929.1H929.6V285.74H930.1H930.6H931.1V285.8H931.6H932.1H932.6V285.58H933.1H933.6H934.1V285.8H934.6H935.1H935.6V285.79H936.1H936.6H937.1V285.75H937.6H938.1H938.6V285.8H939.1H939.6H940.1H940.6H941.1H941.6V285.72H942.1H942.6H943.1V285.77H943.6H944.1H944.6V285.8H945.1H945.6H946.1V285.69H946.6H947.1H947.6V285.8H948.1H948.6H949.1H949.6H950.1H950.6H951.1V285.79H951.6V285.72H952.1V285.77H952.6V285.71H953.1V285.65H953.6V285.52H954.1V285.45H954.6V285.39H955.1V284.93H955.6V284.86H956.1V284.78H956.6V284.97H957.1V284.9H957.6V284.84H958.1V284.38H958.6V284.3H959.1V284.22H959.6V284.27H960.1V284.19H960.6V284.12H961.1V284.65H961.6V284.58H962.1V284.52H962.6V283.59H963.1V283.51H963.6V283.43H964.1V283.4H964.6V283.32H965.1V283.24H965.6V284.07H966.1V284.02H966.6V283.96H967.1V283.03H967.6V282.97H968.1V282.9H968.6V283.37H969.1V283.31H969.6V283.25H970.1V283.14H970.6V283.09H971.1V283.03H971.6V282.38H972.1V282.35H972.6V282.4H973.1V283.31H973.6V283.36H974.1V283.4H974.6V283.13H975.1V283.18H975.6V283.23H976.1V282.83H976.6V282.89H977.1V282.94H977.6V283.22H978.1V283.28H978.6V283.33H979.1V283.64H979.6V283.69H980.1V283.75H980.6V283.31H981.1V283.39H981.6V283.47H982.1V283.7H982.6V283.77H983.1V283.85H983.6V284.11H984.1V284.18H984.6V284.26H985.1V284.73H985.6V284.8H986.1V284.86H986.6V284.53H987.1V284.6H987.6V284.67H988.1V284.87H988.6V284.94H989.1V285H989.6V285.25H990.1V285.3H990.6V285.32H991.1V285.44H991.6V285.46H992.1V285.47H992.6V285.19H993.1V285.21H993.6V285.23H994.1V285.5H994.6V285.52H995.1V285.54H995.6V285.36H996.1V285.38H996.6V285.4H997.1V285.28H997.6V285.3H998.1V285.32H998.6V285.47H999.1V285.49H999.6V285.51H1000.1V285.64H1000.6H1001.1H1001.6V285.47H1002.1H1002.6H1003.1V285.58H1003.6H1004.1H1004.6V285.39H1005.1H1005.6H1006.1V285.54H1006.6H1007.1H1007.6V285.3H1008.1H1008.6H1009.1V285.34H1009.6H1010.1H1010.6V285.48H1011.1H1011.6H1012.1V285.76H1012.6H1013.1H1013.6V285.8H1014.1H1014.6H1015.1V285.44H1015.6H1016.1H1016.6V285.51H1017.1H1017.6H1018.1V285.61H1018.6H1019.1H1019.6V285.77H1020.1H1020.6H1021.1V285.8H1021.6H1022.1H1022.6V285.63H1023.1H1023.6H1024.1V285.71H1024.6H1025.1H1025.6H1026.1H1026.6H1027.1V285.7H1027.6H1028.1H1028.6V285.66H1029.1H1029.6H1030.1V285.8H1030.6H1031.1H1031.6H1032.1H1032.6H1033.1V285.5H1033.6H1034.1H1034.6V285.51H1035.1H1035.6H1036.1V285.5H1036.6H1037.1H1037.6V285.8H1038.1H1038.6H1039.1H1039.6H1040.1H1040.6V285.75H1041.1H1041.6H1042.1V285.64H1042.6H1043.1H1043.6V285.5H1044.1H1044.6H1045.1V285.77H1045.6H1046.1H1046.6V285.5H1047.1H1047.6H1048.1V285.74H1048.6H1049.1H1049.6V285.71H1050.1H1050.6H1051.1V285.35H1051.6H1052.1H1052.6V285.39H1053.1H1053.6H1054.1V285.32H1054.6H1055.1H1055.6V285.45H1056.1H1056.6H1057.1V285.36H1057.6H1058.1H1058.6V285.5H1059.1H1059.6H1060.1V285.39H1060.6V285.35H1061.1V285.32H1061.6V285.02H1062.1V284.98H1062.6V284.94H1063.1V284.84H1063.6V284.8H1064.1V284.76H1064.6V285.25H1065.1V285.22H1065.6V285.19H1066.1V285.12H1066.6V285.09H1067.1V285.05H1067.6V284.5H1068.1V284.47H1068.6V284.49H1069.1V284.65H1069.6V284.67H1070.1V284.69H1070.6V284.61H1071.1V284.63H1071.6V284.65H1072.1V285.07H1072.6V285.09H1073.1V285.11H1073.6V284.98H1074.1V285H1074.6V285.02H1075.1V285.15H1075.6V285.17H1076.1V285.19H1076.6V284.83H1077.1V284.85H1077.6V284.88H1078.1V287.7Z" fill="#2ca02c"/>
<rect x="689.1" y="270.5" width="11.5" height="1.7" fill="#e81fd0"/>
<rect x="768.6" y="270.5" width="17.5" height="1.7" fill="#e81fd0"/>
<rect x="833.1" y="270.5" width="13" height="1.7" fill="#e81fd0"/>
<text transform="translate(599.55 301.6) scale(0.8983 1)" fill="#f0701c" stroke="#f0701c" text-anchor="middle" textLength="424.69" lengthAdjust="spacingAndGlyphs">BDTNP Chromatin Accessibility (DNase) Stage 9, Replicate 2</text>
<path d="M119.6 322.7V317.18H120.1V317.14H120.6V317.1H121.1V316.8H121.6V316.76H122.1V316.72H122.6V316.66H123.1V316.62H123.6V316.57H124.1V317.3H124.6V317.26H125.1V317.18H125.6V317.16H126.1V316.94H126.6V316.72H127.1V315.87H127.6V315.62H128.1V315.38H128.6V315.33H129.1V315.05H129.6V314.58H130.1V312.91H130.6V312.37H131.1V311.83H131.6V311.61H132.1V311.1H132.6V310.6H133.1V310.3H133.6V309.6H134.1V308.91H134.6V308.33H135.1V307.63H135.6V306.94H136.1V305.98H136.6V305.6H137.1V306.16H137.6V308.39H138.1V309.27H138.6V310.15H139.1V310.27H139.6V311.15H140.1V311.97H140.6V313.23H141.1V313.74H141.6V314.26H142.1V313.2H142.6V313.82H143.1V314.44H143.6V316.51H144.1V316.94H144.6V317.11H145.1V316.14H145.6V316.35H146.1V316.56H146.6V317.78H147.1V317.95H147.6V318.12H148.1V317.54H148.6V317.74H149.1V317.94H149.6V318.52H150.1V318.69H150.6V318.76H151.1H151.6V318.83H152.1V318.91H152.6V318.56H153.1V318.64H153.6V318.72H154.1V319.55H154.6V319.62H155.1V319.68H155.6V319.71H156.1V319.78H156.6V319.85H157.1V319.23H157.6V319.32H158.1V319.4H158.6V319.79H159.1V319.87H159.6V319.95H160.1V320.31H160.6V320.38H161.1V320.45H161.6V319.96H162.1V320.05H162.6V320.14H163.1V320.25H163.6V320.33H164.1V320.42H164.6V320.8H165.1H165.6H166.1H166.6H167.1H167.6H168.1H168.6H169.1H169.6H170.1H170.6V320.74H171.1H171.6H172.1V320.8H172.6H173.1H173.6V320.7H174.1H174.6H175.1V320.8H175.6H176.1H176.6H177.1H177.6H178.1V320.64H178.6H179.1H179.6V320.8H180.1H180.6H181.1H181.6H182.1H182.6V320.75H183.1H183.6H184.1V320.8H184.6H185.1H185.6H186.1H186.6H187.1H187.6H188.1H188.6V320.57H189.1V320.48H189.6V320.38H190.1V320.15H190.6V320.05H191.1V319.95H191.6V319.84H192.1V319.74H192.6V319.64H193.1V319.8H193.6V319.86H194.1V319.93H194.6V320.2H195.1V320.26H195.6V320.33H196.1V320.38H196.6V320.45H197.1V320.51H197.6V320.38H198.1V320.45H198.6V320.52H199.1V320.59H199.6V320.66H200.1V320.71H200.6V320.8H201.1H201.6H202.1H202.6H203.1H203.6H204.1H204.6H205.1H205.6H206.1H206.6V320.64H207.1H207.6H208.1V320.8H208.6H209.1H209.6H210.1H210.6H211.1V320.64H211.6H212.1H212.6V320.8H213.1H213.6H214.1V320.76H214.6V320.63H215.1V320.5H215.6V320.55H216.1V320.43H216.6V320.31H217.1V320.04H217.6V319.92H218.1V319.79H218.6V319.69H219.1V319.59H219.6H220.1V319.28H220.6H221.1H221.6V319.82H222.1H222.6H223.1V319.46H223.6H224.1H224.6V319.76H225.1H225.6H226.1V319.35H226.6V319.42H227.1V319.49H227.6V320.07H228.1V320.12H228.6V320.18H229.1V320.07H229.6V320.14H230.1V320.2H230.6V320.22H231.1V320.28H231.6V320.35H232.1V320.22H232.6V320.25H233.1V320.29H233.6V320.67H234.1V320.69H234.6V320.72H235.1V320.52H235.6V320.55H236.1V320.58H236.6V320.75H237.1V320.78H237.6V320.8H238.1H238.6H239.1H239.6V320.79H240.1V320.8H240.6H241.1V320.57H241.6H242.1H242.6V320.8H243.1H243.6H244.1V320.57H244.6H245.1H245.6V320.8H246.1H246.6H247.1V320.59H247.6H248.1H248.6V320.8H249.1H249.6H250.1H250.6H251.1H251.6V320.68H252.1H252.6H253.1V320.59H253.6H254.1H254.6V320.8H255.1H255.6H256.1H256.6H257.1H257.6V320.66H258.1H258.6H259.1V320.8H259.6H260.1H260.6H261.1H261.6H262.1H262.6H263.1H263.6H264.1H264.6H265.1V320.74H265.6H266.1H266.6V320.56H267.1H267.6H268.1H268.6H269.1H269.6V320.8H270.1H270.6H271.1H271.6H272.1H272.6H273.1H273.6H274.1V320.66H274.6H275.1V320.65H275.6V320.57H276.1V320.52H276.6V320.46H277.1V320.51H277.6V320.46H278.1V320.41H278.6V320.6H279.1V320.55H279.6V320.51H280.1V320.29H280.6V320.31H281.1V320.34H281.6V320.39H282.1V320.42H282.6V320.44H283.1V320.38H283.6V320.41H284.1V320.43H284.6V320.66H285.1V320.69H285.6V320.71H286.1V320.36H286.6V320.39H287.1V320.42H287.6V320.47H288.1V320.5H288.6V320.53H289.1V320.8H289.6H290.1H290.6H291.1H291.6H292.1V320.61H292.6H293.1H293.6V320.8H294.1H294.6H295.1V320.58H295.6H296.1H296.6V320.79H297.1H297.6H298.1V320.7H298.6H299.1H299.6H300.1H300.6H301.1V320.8H301.6H302.1H302.6H303.1H303.6H304.1H304.6H305.1H305.6V320.71H306.1H306.6H307.1H307.6H308.1H308.6V320.8H309.1H309.6H310.1V320.61H310.6H311.1H311.6V320.8H312.1H312.6H313.1H313.6H314.1H314.6H315.1H315.6H316.1V320.56H316.6H317.1H317.6V320.77H318.1H318.6H319.1V320.74H319.6H320.1H320.6V320.59H321.1H321.6H322.1V320.57H322.6H323.1H323.6V320.67H324.1H324.6H325.1V320.8H325.6H326.1H326.6V320.76H327.1H327.6H328.1V320.6H328.6H329.1H329.6V320.66H330.1H330.6H331.1V320.76H331.6H332.1H332.6V320.8H333.1H333.6H334.1H334.6H335.1H335.6V320.68H336.1H336.6H337.1V320.77H337.6H338.1H338.6V320.8H339.1H339.6H340.1V320.69H340.6H341.1H341.6V320.6H342.1H342.6H343.1V320.65H343.6H344.1H344.6V320.6H345.1H345.6H346.1H346.6H347.1H347.6V320.78H348.1H348.6H349.1V320.66H349.6H350.1H350.6V320.8H351.1H351.6H352.1H352.6H353.1H353.6H354.1H354.6H355.1H355.6H356.1H356.6V320.58H357.1H357.6H358.1V320.71H358.6H359.1H359.6V320.78H360.1H360.6H361.1V320.74H361.6H362.1H362.6V320.8H363.1H363.6H364.1V320.78H364.6H365.1V320.76H365.6V320.55H366.1V320.43H366.6V320.31H367.1V320.38H367.6V320.26H368.1V320.18H368.6V320.34H369.1V320.39H369.6V320.45H370.1V320.4H370.6V320.46H371.1V320.52H371.6V320.62H372.1V320.68H372.6V320.73H373.1V320.6H373.6V320.66H374.1V320.71H374.6V320.8H375.1H375.6H376.1H376.6H377.1H377.6H378.1H378.6H379.1V320.7H379.6H380.1H380.6V320.67H381.1H381.6H382.1V320.72H382.6H383.1H383.6V320.58H384.1H384.6H385.1V320.8H385.6H386.1H386.6H387.1H387.6H388.1H388.6H389.1H389.6H390.1H390.6H391.1H391.6H392.1H392.6V320.72H393.1H393.6H394.1V320.8H394.6H395.1H395.6H396.1H396.6H397.1H397.6H398.1H398.6V320.58H399.1H399.6H400.1V320.8H400.6H401.1H401.6H402.1H402.6H403.1H403.6H404.1H404.6H405.1H405.6H406.1H406.6H407.1H407.6H408.1H408.6H409.1V320.59H409.6H410.1H410.6V320.8H411.1H411.6H412.1V320.7H412.6H413.1H413.6V320.8H414.1H414.6H415.1H415.6H416.1H416.6V320.75H417.1H417.6H418.1V320.63H418.6H419.1H419.6V320.8H420.1H420.6H421.1H421.6H422.1H422.6V320.62H423.1H423.6H424.1V320.63H424.6H425.1H425.6V320.8H426.1H426.6H427.1V320.78H427.6H428.1H428.6V320.67H429.1H429.6H430.1V320.8H430.6H431.1H431.6V320.71H432.1H432.6H433.1H433.6H434.1H434.6V320.56H435.1H435.6H436.1V320.77H436.6H437.1H437.6V320.71H438.1H438.6H439.1V320.8H439.6H440.1H440.6V320.68H441.1H441.6H442.1V320.8H442.6H443.1H443.6H444.1H444.6H445.1H445.6H446.1H446.6H447.1H447.6H448.1H448.6H449.1H449.6H450.1H450.6H451.1V320.78H451.6H452.1H452.6V320.8H453.1H453.6H454.1H454.6H455.1H455.6V320.65H456.1H456.6H457.1V320.8H457.6H458.1H458.6V320.58H459.1H459.6H460.1V320.75H460.6H461.1H461.6V320.8H462.1H462.6H463.1V320.51H463.6V320.46H464.1V320.41H464.6V320.35H465.1V320.3H465.6V320.26H466.1V320.55H466.6V320.5H467.1V320.46H467.6V320.54H468.1V320.5H468.6V320.46H469.1V320.09H469.6V320.04H470.1V319.98H470.6V319.72H471.1V319.59H471.6V319.46H472.1V319.52H472.6V319.39H473.1V319.27H473.6V319H474.1V318.87H474.6V318.74H475.1V318.97H475.6V318.86H476.1V318.74H476.6V318.41H477.1V318.29H477.6V318.17H478.1V318.41H478.6V318.14H479.1V317.86H479.6V317.39H480.1V317.11H480.6V316.82H481.1V316.58H481.6V316.3H482.1V316.01H482.6V315.72H483.1V315.44H483.6V315.15H484.1V314.84H484.6V314.55H485.1V314.25H485.6V313.07H486.1V312.74H486.6V312.42H487.1V313.64H487.6V313.36H488.1V313.08H488.6V312.71H489.1V312.39H489.6V312.03H490.1V311.53H490.6V311.16H491.1V310.8H491.6V308.57H492.1V308.35H492.6V308.72H493.1V310.25H493.6V310.61H494.1V310.98H494.6V312.57H495.1V312.96H495.6V313.44H496.1V311.99H496.6V312.53H497.1V313.07H497.6V313.53H498.1V314.08H498.6V314.62H499.1V315.2H499.6V315.47H500.1V315.74H500.6V316.72H501.1V316.96H501.6V317.2H502.1V316.93H502.6V317.2H503.1V317.46H503.6V318.23H504.1V318.47H504.6V318.7H505.1V319.08H505.6V319.16H506.1V319.24H506.6V318.63H507.1V318.72H507.6V318.82H508.1V318.94H508.6V319.03H509.1V319.12H509.6V319.72H510.1V319.8H510.6V319.88H511.1V319.46H511.6V319.55H512.1V319.64H512.6V320.29H513.1V320.33H513.6V320.37H514.1V320.22H514.6V320.26H515.1V320.3H515.6V320.53H516.1V320.57H516.6V320.61H517.1V320.56H517.6V320.6H518.1V320.64H518.6V320.69H519.1V320.73H519.6V320.77H520.1V320.51H520.6V320.56H521.1V320.61H521.6V320.8H522.1H522.6H523.1H523.6H524.1H524.6H525.1H525.6H526.1H526.6H527.1H527.6V320.62H528.1H528.6H529.1V320.75H529.6H530.1H530.6V320.8H531.1H531.6H532.1V320.71H532.6H533.1H533.6V320.78H534.1H534.6H535.1V320.8H535.6H536.1V320.77H536.6V320.7H537.1V320.67H537.6V320.65H538.1V320.55H538.6V320.52H539.1V320.5H539.6V320.38H540.1V320.36H540.6V320.33H541.1V320.47H541.6V320.44H542.1V320.41H542.6V320.31H543.1V320.28H543.6V320.25H544.1V320.33H544.6V320.3H545.1V320.28H545.6V320.14H546.1V320.12H546.6V320.09H547.1V320.22H547.6V320.2H548.1V320.16H548.6V320.09H549.1V320.04H549.6V319.98H550.1V319.85H550.6V319.8H551.1V319.74H551.6V319.53H552.1V319.47H552.6V319.41H553.1V319.7H553.6V319.65H554.1V319.6H554.6V319H555.1V318.94H555.6V318.87H556.1V319.19H556.6V319.1H557.1V319H557.6V318.56H558.1V318.46H558.6V318.36H559.1V318.43H559.6V318.33H560.1V318.24H560.6V317.85H561.1V317.75H561.6V317.64H562.1V317.86H562.6V317.76H563.1V317.67H563.6V317.91H564.1V317.84H564.6V317.78H565.1V317.74H565.6V317.67H566.1V317.61H566.6V317.28H567.1V317.21H567.6V317.14H568.1V316.87H568.6V316.8H569.1V316.76H569.6V316.72H570.1V316.79H570.6V316.86H571.1V317.87H571.6V317.93H572.1V317.99H572.6V318.14H573.1V318.2H573.6V318.26H574.1H574.6V318.32H575.1V318.38H575.6V318.49H576.1V318.57H576.6V318.64H577.1V318.75H577.6V318.83H578.1V318.91H578.6V319.03H579.1V319.11H579.6V319.18H580.1V319.02H580.6V319.1H581.1V319.18H581.6V319.39H582.1V319.46H582.6V319.51H583.1V319.05H583.6V319.1H584.1V319.15H584.6V319.26H585.1V319.31H585.6V319.36H586.1V319.13H586.6V319.19H587.1V319.24H587.6V319.3H588.1V319.36H588.6V319.41H589.1V319.63H589.6V319.68H590.1V319.73H590.6V319.59H591.1V319.6H591.6V319.61H592.1V320.28H592.6H593.1H593.6V320.16H594.1H594.6H595.1V319.71H595.6V319.72H596.1V319.73H596.6V320.05H597.1H597.6H598.1V320.26H598.6H599.1H599.6V319.92H600.1H600.6V319.89H601.1V320.09H601.6V320.06H602.1V320.03H602.6V319.91H603.1V319.88H603.6V319.85H604.1V319.99H604.6V319.96H605.1V319.93H605.6V319.96H606.1V319.93H606.6V319.9H607.1V319.99H607.6V319.96H608.1V319.94H608.6V319.5H609.1V319.47H609.6V319.44H610.1V319.12H610.6V319.09H611.1V319.05H611.6V318.99H612.1V318.95H612.6V318.91H613.1V319.06H613.6V319.03H614.1V318.99H614.6V318.81H615.1V318.77H615.6V318.74H616.1V319.23H616.6V319.28H617.1V319.32H617.6V319.42H618.1V319.46H618.6V319.5H619.1V319.02H619.6V319.07H620.1V319.12H620.6V319.43H621.1V319.47H621.6V319.52H622.1H622.6V319.56H623.1V319.6H623.6V320.14H624.1V320.18H624.6V320.22H625.1V320.1H625.6V320.12H626.1V320.15H626.6V319.99H627.1V320.02H627.6V320.04H628.1V319.9H628.6V319.92H629.1V319.95H629.6V319.91H630.1V319.94H630.6V319.97H631.1V320.04H631.6V320.07H632.1V320.09H632.6V320.38H633.1V320.4H633.6V320.43H634.1H634.6V320.45H635.1V320.47H635.6V320.15H636.1V320.12H636.6V320.1H637.1V319.99H637.6V319.96H638.1V319.94H638.6V320.23H639.1V320.2H639.6V320.18H640.1V320.35H640.6V320.32H641.1V320.3H641.6V319.99H642.1V319.96H642.6V319.93H643.1V319.97H643.6V319.94H644.1V319.92H644.6V320.02H645.1V319.98H645.6V319.9H646.1V319.92H646.6V319.84H647.1V319.76H647.6V319.55H648.1V319.47H648.6V319.38H649.1V319.1H649.6V319.01H650.1V318.92H650.6V319.29H651.1V319.22H651.6V319.14H652.1V318.62H652.6V318.42H653.1V318.21H653.6V317.54H654.1V317.31H654.6V317.09H655.1V317.14H655.6V316.93H656.1V316.72H656.6V317.22H657.1V317.04H657.6V316.9H658.1V316.5H658.6V316.35H659.1V316.2H659.6V316.58H660.1V316.45H660.6V316.31H661.1V315.11H661.6V315.27H662.1V315.43H662.6V315.76H663.1V315.92H663.6V316.07H664.1V316.94H664.6V317.07H665.1V317.25H665.6V317.03H666.1V317.37H666.6V317.71H667.1V317.99H667.6V318.33H668.1V318.62H668.6V318.7H669.1V318.77H669.6V318.84H670.1V319.09H670.6V319.16H671.1V319.22H671.6V319.35H672.1V319.41H672.6V319.48H673.1V319.5H673.6V319.57H674.1V319.59H674.6V318.88H675.1V318.7H675.6V318.51H676.1V318.98H676.6V318.83H677.1V318.67H677.6V318.33H678.1V318.15H678.6V317.9H679.1V317.7H679.6V317.45H680.1V317.21H680.6V317.37H681.1V317.06H681.6V316.45H682.1V315.42H682.6V314.77H683.1V314.12H683.6V313.92H684.1V313.25H684.6V312.38H685.1V311.16H685.6V310.25H686.1V309.34H686.6V308.1H687.1V306.92H687.6V305.75H688.1V305.6H688.6H689.1H689.6H690.1H690.6H691.1H691.6H692.1H692.6H693.1H693.6H694.1H694.6H695.1H695.6H696.1H696.6H697.1H697.6H698.1H698.6H699.1H699.6H700.1V306.51H700.6V307.9H701.1V309.3H701.6V309.14H702.1V310.44H702.6V311.35H703.1V313.69H703.6V314.52H704.1V315.35H704.6V315.91H705.1V316.65H705.6V316.88H706.1V316.29H706.6V316.56H707.1V316.83H707.6V316.87H708.1V317.15H708.6V317.43H709.1V318.06H709.6V318.32H710.1V318.53H710.6V319.07H711.1V319.11H711.6V319.15H712.1V318.93H712.6V318.97H713.1V319.01H713.6V319.19H714.1V319.23H714.6V319.27H715.1V318.8H715.6V318.84H716.1V318.89H716.6V319.46H717.1V319.5H717.6V319.54H718.1V319.61H718.6V319.64H719.1V319.68H719.6V319.35H720.1V319.38H720.6V319.36H721.1V319.34H721.6V319.32H722.1V319.3H722.6V319.32H723.1V319.3H723.6V319.28H724.1V319.35H724.6V319.33H725.1V319.31H725.6V318.88H726.1V318.86H726.6V318.83H727.1V319.25H727.6V319.23H728.1V319.21H728.6V318.77H729.1V318.74H729.6V318.72H730.1V319.2H730.6V319.23H731.1V319.26H731.6V319.23H732.1V319.26H732.6V319.29H733.1V319.41H733.6V319.44H734.1V319.47H734.6V319.19H735.1V319.23H735.6V319.26H736.1H736.6V319.29H737.1V319.32H737.6V319.76H738.1V319.79H738.6V319.82H739.1V319.63H739.6V319.66H740.1V319.68H740.6V319.5H741.1V319.48H741.6V319.46H742.1V319.61H742.6V319.59H743.1V319.57H743.6V319.43H744.1V319.41H744.6V319.38H745.1V319.4H745.6V319.38H746.1V319.36H746.6V319.26H747.1V319.24H747.6V319.22H748.1V319.5H748.6V319.48H749.1V319.46H749.6V319.48H750.1V319.45H750.6V319.38H751.1V319.56H751.6V319.49H752.1V319.42H752.6V318.52H753.1V318.43H753.6V318.35H754.1V318.36H754.6V318.28H755.1V318.19H755.6V318.54H756.1V318.46H756.6V318.38H757.1V317.61H757.6V317.26H758.1V316.91H758.6V316.65H759.1V316.31H759.6V315.97H760.1V316.82H760.6V316.53H761.1V316.18H761.6V314.25H762.1V313.53H762.6V312.81H763.1V313.09H763.6V312.44H764.1V311.77H764.6V311.34H765.1V310.64H765.6V309.94H766.1V309.39H766.6V308.63H767.1V307.63H767.6V306.22H768.1V305.6H768.6H769.1H769.6H770.1H770.6H771.1H771.6H772.1H772.6H773.1H773.6H774.1H774.6H775.1H775.6H776.1H776.6H777.1H777.6H778.1H778.6H779.1H779.6H780.1H780.6H781.1H781.6H782.1H782.6H783.1H783.6H784.1H784.6H785.1H785.6H786.1H786.6H787.1V307.51H787.6V309.26H788.1V311.01H788.6V310.94H789.1V311.91H789.6V312.88H790.1V313.76H790.6V314.75H791.1V315.6H791.6V315.84H792.1V316.11H792.6V316.39H793.1V317.21H793.6V317.46H794.1V317.63H794.6V317.69H795.1V317.55H795.6V317.4H796.1V317.5H796.6V317.37H797.1V317.23H797.6V316H798.1V315.84H798.6V315.67H799.1V315.77H799.6V315.73H800.1V315.69H800.6V316H801.1V315.96H801.6V315.92H802.1V315.48H802.6V315.44H803.1V315.48H803.6V316.64H804.1V316.92H804.6V317.21H805.1V317.11H805.6V317.42H806.1V317.67H806.6V317.25H807.1V317.29H807.6V317.34H808.1V318.35H808.6V318.38H809.1V318.42H809.6V317.86H810.1V317.91H810.6V317.95H811.1V318.48H811.6V318.52H812.1H812.6V317.66H813.1V317.52H813.6V317.39H814.1V317.25H814.6V317.12H815.1V316.98H815.6V317.11H816.1V316.98H816.6V316.85H817.1V317.02H817.6V316.89H818.1V316.76H818.6V317.2H819.1V317.02H819.6V316.84H820.1V315.87H820.6V315.67H821.1V315.47H821.6V315.52H822.1V315.32H822.6V315.13H823.1V314.8H823.6V314.31H824.1V313.82H824.6V314.09H825.1V313.64H825.6V313.19H826.1V310.51H826.6V310.01H827.1V309.49H827.6V309.92H828.1V309.32H828.6V308.72H829.1V308.02H829.6V307.31H830.1V306.16H830.6V305.6H831.1H831.6H832.1H832.6H833.1H833.6H834.1H834.6H835.1H835.6H836.1H836.6H837.1H837.6H838.1H838.6H839.1H839.6H840.1H840.6H841.1H841.6H842.1H842.6H843.1H843.6H844.1H844.6H845.1H845.6H846.1H846.6H847.1H847.6V306.05H848.1V307.26H848.6V310.46H849.1V311.55H849.6V312.18H850.1V312.32H850.6V312.93H851.1V313.54H851.6V313.31H852.1V313.98H852.6V314.65H853.1V315.32H853.6V315.53H854.1V315.74H854.6V316.3H855.1V316.5H855.6V316.7H856.1V316.54H856.6V316.76H857.1V316.97H857.6V317.31H858.1V317.49H858.6V317.52H859.1V317.32H859.6V317.35H860.1V317.38H860.6V317.68H861.1V317.71H861.6V317.75H862.1V318.12H862.6V318.15H863.1V318.18H863.6V318.3H864.1V318.33H864.6V318.36H865.1V318.62H865.6V318.65H866.1V318.67H866.6V318.65H867.1V318.68H867.6V318.7H868.1V318.82H868.6V318.84H869.1V318.87H869.6V317.89H870.1V317.92H870.6V317.95H871.1V318.86H871.6V318.89H872.1V318.91H872.6V318.46H873.1V318.49H873.6V318.52H874.1V319.02H874.6V319.05H875.1V319.08H875.6V318.31H876.1V318.38H876.6V318.45H877.1V318.92H877.6V318.98H878.1V319.04H878.6V319.42H879.1V319.48H879.6V319.53H880.1V319.03H880.6V319.1H881.1V319.16H881.6V319.2H882.1V319.26H882.6V319.33H883.1V319.3H883.6V319.37H884.1V319.44H884.6V320.05H885.1V320.1H885.6V320.11H886.1V320H886.6V320.01H887.1V320.02H887.6V319.86H888.1V319.87H888.6V319.88H889.1V320.16H889.6V320.17H890.1V320.18H890.6V320H891.1V320.02H891.6V320.03H892.1V319.95H892.6V319.97H893.1V319.98H893.6V319.96H894.1V319.98H894.6V319.99H895.1V319.96H895.6V319.97H896.1V319.99H896.6V320.05H897.1V320.06H897.6V320.08H898.1V320.38H898.6V320.4H899.1V320.41H899.6V320.13H900.1V320.14H900.6H901.1V320.35H901.6H902.1H902.6V320.51H903.1H903.6H904.1V320.61H904.6H905.1H905.6V320.25H906.1H906.6H907.1V320.42H907.6H908.1H908.6V320.58H909.1H909.6H910.1V320.35H910.6H911.1H911.6V320.4H912.1H912.6H913.1V320.46H913.6H914.1H914.6V320.32H915.1H915.6H916.1V320.34H916.6H917.1H917.6H918.1H918.6H919.1V320.08H919.6H920.1H920.6V320.14H921.1H921.6H922.1V320.51H922.6H923.1H923.6V320.17H924.1H924.6H925.1V320.5H925.6V320.47H926.1V320.44H926.6V320.02H927.1V319.98H927.6V319.94H928.1V320.47H928.6V320.44H929.1V320.41H929.6V320.2H930.1V320.17H930.6V320.13H931.1V319.67H931.6V319.63H932.1V319.59H932.6V319.75H933.1V319.71H933.6V319.68H934.1V319.61H934.6V319.57H935.1V319.55H935.6V319.95H936.1V319.98H936.6V320H937.1V320.08H937.6V320.11H938.1V320.13H938.6V319.55H939.1V319.58H939.6V319.6H940.1V320.26H940.6V320.28H941.1V320.3H941.6V320.25H942.1V320.28H942.6V320.3H943.1V320.15H943.6V320.18H944.1V320.2H944.6V319.97H945.1V319.99H945.6V319.98H946.1V320.05H946.6V320.03H947.1V320.02H947.6V319.79H948.1V319.77H948.6V319.76H949.1V319.89H949.6V319.87H950.1V319.86H950.6V320.07H951.1V320.06H951.6V320.05H952.1V319.7H952.6V319.68H953.1V319.67H953.6V320.07H954.1V320.06H954.6V320.04H955.1V320.22H955.6V320.2H956.1V320.18H956.6V319.5H957.1V319.48H957.6V319.46H958.1V319.49H958.6V319.47H959.1V319.45H959.6V319.59H960.1V319.57H960.6V319.55H961.1V319.67H961.6V319.65H962.1V319.63H962.6V319.83H963.1V319.81H963.6V319.79H964.1V319.76H964.6V319.74H965.1V319.71H965.6V319.74H966.1V319.65H966.6V319.56H967.1V319.45H967.6V319.36H968.1V319.27H968.6V318.8H969.1V318.7H969.6V318.6H970.1V318.12H970.6V318.3H971.1V318.48H971.6V318.63H972.1V318.82H972.6V319H973.1V319.49H973.6V319.51H974.1V319.53H974.6V319.41H975.1V319.43H975.6V319.45H976.1V319.63H976.6V319.65H977.1V319.66H977.6V319.44H978.1V319.46H978.6V319.47H979.1V319.55H979.6V319.56H980.1V319.58H980.6V319.39H981.1V319.41H981.6V319.43H982.1V319.55H982.6V319.57H983.1V319.58H983.6V319.72H984.1V319.74H984.6V319.76H985.1V319.84H985.6V319.85H986.1V319.87H986.6V320.18H987.1V320.19H987.6V320.2H988.1V320H988.6V320.02H989.1V320.03H989.6V320.06H990.1V320.07H990.6V320.08H991.1V320.3H991.6V320.31H992.1V320.32H992.6V320.3H993.1V320.31H993.6V320.33H994.1V320.2H994.6V320.21H995.1V320.23H995.6V320.39H996.1V320.41H996.6V320.42H997.1V320.14H997.6V320.16H998.1V320.17H998.6V320.37H999.1V320.38H999.6V320.4H1000.1V320H1000.6H1001.1H1001.6V320.2H1002.1H1002.6H1003.1V320.31H1003.6H1004.1H1004.6V320.37H1005.1H1005.6H1006.1V320.41H1006.6H1007.1H1007.6V320.53H1008.1H1008.6H1009.1V320.08H1009.6H1010.1H1010.6V320.12H1011.1H1011.6H1012.1V320.29H1012.6H1013.1H1013.6H1014.1H1014.6H1015.1V320.61H1015.6H1016.1H1016.6V320.39H1017.1H1017.6H1018.1V320.62H1018.6H1019.1H1019.6V320.53H1020.1H1020.6H1021.1V320.39H1021.6H1022.1H1022.6V320.64H1023.1H1023.6H1024.1V320.62H1024.6H1025.1H1025.6V320.34H1026.1H1026.6H1027.1V320.49H1027.6H1028.1H1028.6V320.27H1029.1H1029.6H1030.1V320.69H1030.6H1031.1H1031.6V320.71H1032.1H1032.6H1033.1V320.2H1033.6H1034.1H1034.6V320.37H1035.1H1035.6H1036.1V320.29H1036.6H1037.1H1037.6V320.35H1038.1H1038.6H1039.1V320.58H1039.6H1040.1H1040.6V320.05H1041.1H1041.6H1042.1V320.32H1042.6H1043.1H1043.6V320.04H1044.1H1044.6H1045.1V320.5H1045.6H1046.1H1046.6V320.39H1047.1H1047.6H1048.1V320.2H1048.6H1049.1H1049.6V320.37H1050.1H1050.6H1051.1V319.97H1051.6H1052.1H1052.6V320.35H1053.1H1053.6H1054.1V320.47H1054.6H1055.1H1055.6V320.42H1056.1H1056.6H1057.1V320.35H1057.6H1058.1H1058.6V319.91H1059.1H1059.6H1060.1V319.96H1060.6H1061.1H1061.6V320.09H1062.1H1062.6H1063.1V320.25H1063.6H1064.1H1064.6V320.5H1065.1H1065.6H1066.1V319.99H1066.6H1067.1H1067.6V320.44H1068.1H1068.6H1069.1V320.39H1069.6H1070.1H1070.6V320.24H1071.1H1071.6H1072.1V319.97H1072.6H1073.1H1073.6V320.4H1074.1H1074.6H1075.1V320.48H1075.6H1076.1H1076.6V319.94H1077.1H1077.6H1078.1V322.7Z" fill="#f0701c"/>
<rect x="688.1" y="305.5" width="12" height="1.7" fill="#e81fd0"/>
<rect x="768.1" y="305.5" width="19" height="1.7" fill="#e81fd0"/>
<rect x="830.6" y="305.5" width="17" height="1.7" fill="#e81fd0"/>
<text transform="translate(599.6 336.7) scale(0.8983 1)" fill="#8c1a20" stroke="#8c1a20" text-anchor="middle" textLength="433.04" lengthAdjust="spacingAndGlyphs">BDTNP Chromatin Accessibility (DNase) Stage 10, Replicate 2</text>
<path d="M119.6 357.8V354.28H120.1V354.21H120.6V354.14H121.1V353.36H121.6V353.27H122.1V353.19H122.6V353.1H123.1V353.02H123.6V352.93H124.1V352.55H124.6V352.54H125.1V352.52H125.6V353.73H126.1V353.72H126.6V353.7H127.1V353.6H127.6V353.59H128.1V353.57H128.6V353.72H129.1V353.7H129.6V353.69H130.1V353.51H130.6V353.43H131.1V353.35H131.6V352.25H132.1V352.15H132.6V352.06H133.1V353.24H133.6V353.17H134.1V353.06H134.6V351.93H135.1V351.68H135.6V351.42H136.1V351.99H136.6V351.74H137.1V351.49H137.6V351.03H138.1V350.9H138.6V351.23H139.1V351.21H139.6V351.54H140.1V351.87H140.6V351.26H141.1V351.66H141.6V352.14H142.1V353.04H142.6V353.48H143.1V353.82H143.6V354.66H144.1V354.6H144.6V354.53H145.1V354.04H145.6V353.96H146.1V353.89H146.6V354.04H147.1V353.97H147.6V353.9H148.1V352.55H148.6V352.69H149.1V352.83H149.6V353.08H150.1V353.22H150.6V353.36H151.1V353.5H151.6V353.64H152.1V353.81H152.6V354.04H153.1V354.3H153.6V354.57H154.1V354.92H154.6V355.17H155.1V355.38H155.6V355.2H156.1V355.21H156.6V355.23H157.1V355.38H157.6V355.39H158.1V355.4H158.6V355.89H159.1H159.6H160.1V355.4H160.6V355.41H161.1V355.42H161.6V355.74H162.1H162.6H163.1V355.54H163.6V355.56H164.1V355.57H164.6V355.74H165.1V355.75H165.6V355.76H166.1V355.88H166.6H167.1H167.6H168.1H168.6H169.1H169.6H170.1H170.6V355.84H171.1V355.67H171.6V355.5H172.1V355.55H172.6V355.39H173.1V355.27H173.6V354.41H174.1H174.6H175.1V354.44H175.6H176.1H176.6V354.21H177.1H177.6H178.1V354.57H178.6H179.1H179.6V354.73H180.1H180.6H181.1V354.5H181.6H182.1H182.6V355.25H183.1V355.29H183.6V355.53H184.1V355.23H184.6V355.52H185.1V355.76H185.6V355.9H186.1H186.6H187.1H187.6H188.1H188.6H189.1H189.6H190.1V355.88H190.6H191.1H191.6V355.9H192.1H192.6H193.1H193.6H194.1H194.6V355.82H195.1H195.6H196.1V355.9H196.6H197.1H197.6H198.1H198.6H199.1H199.6H200.1H200.6H201.1H201.6H202.1H202.6H203.1H203.6H204.1H204.6H205.1V355.54H205.6V355.32H206.1V355.15H206.6V355.49H207.1H207.6H208.1V354.83H208.6H209.1H209.6V354.48H210.1H210.6H211.1V355.17H211.6V355.38H212.1V355.6H212.6V355.53H213.1V355.72H213.6H214.1V355.55H214.6H215.1H215.6V355.9H216.1H216.6H217.1H217.6H218.1H218.6V355.66H219.1H219.6H220.1V355.63H220.6H221.1H221.6V355.79H222.1H222.6H223.1V355.9H223.6H224.1H224.6H225.1H225.6H226.1V355.61H226.6H227.1H227.6V355.59H228.1H228.6H229.1V355.66H229.6H230.1H230.6V355.9H231.1H231.6H232.1V355.62H232.6H233.1H233.6V355.9H234.1H234.6H235.1V355.73H235.6H236.1H236.6V355.9H237.1H237.6H238.1V355.52H238.6H239.1H239.6V355.82H240.1H240.6H241.1V355.72H241.6H242.1H242.6V355.9H243.1H243.6H244.1V355.81H244.6H245.1H245.6V355.84H246.1H246.6H247.1H247.6H248.1H248.6V355.9H249.1H249.6H250.1V355.66H250.6V355.36H251.1V355.06H251.6V355.2H252.1V354.99H252.6H253.1V355.05H253.6H254.1H254.6V355.21H255.1H255.6H256.1V354.58H256.6H257.1H257.6V355.27H258.1V355.32H258.6V355.55H259.1V355.68H259.6V355.9H260.1H260.6H261.1H261.6H262.1V355.79H262.6H263.1H263.6V355.86H264.1H264.6H265.1V355.87H265.6H266.1H266.6V355.9H267.1H267.6H268.1H268.6H269.1H269.6H270.1H270.6H271.1H271.6H272.1H272.6H273.1H273.6H274.1V355.5H274.6H275.1H275.6V355.9H276.1H276.6H277.1H277.6H278.1H278.6H279.1H279.6H280.1V355.82H280.6H281.1H281.6V355.9H282.1H282.6H283.1H283.6H284.1H284.6H285.1H285.6H286.1V355.63H286.6H287.1H287.6V355.9H288.1H288.6H289.1H289.6H290.1H290.6H291.1H291.6H292.1V355.52H292.6H293.1H293.6V355.89H294.1H294.6H295.1V355.9H295.6H296.1H296.6V355.76H297.1H297.6H298.1V355.9H298.6H299.1H299.6H300.1H300.6H301.1H301.6H302.1H302.6V355.57H303.1H303.6H304.1V355.71H304.6H305.1H305.6V355.9H306.1H306.6H307.1V355.75H307.6H308.1H308.6V355.62H309.1H309.6H310.1V355.9H310.6H311.1H311.6V355.83H312.1H312.6H313.1V355.9H313.6H314.1H314.6H315.1H315.6H316.1H316.6H317.1H317.6H318.1H318.6H319.1H319.6H320.1H320.6H321.1H321.6H322.1H322.6H323.1H323.6H324.1H324.6H325.1V355.66H325.6V355.5H326.1V355.33H326.6H327.1V355.17H327.6V355.01H328.1V355.57H328.6H329.1H329.6V354.69H330.1H330.6H331.1V355.35H331.6H332.1H332.6V355.02H333.1H333.6H334.1V354.94H334.6H335.1V354.98H335.6V355.44H336.1V355.65H336.6V355.87H337.1V355.9H337.6H338.1H338.6H339.1H339.6H340.1H340.6H341.1H341.6V355.61H342.1H342.6H343.1V355.9H343.6H344.1H344.6V355.64H345.1H345.6H346.1V355.9H346.6H347.1H347.6H348.1H348.6H349.1H349.6H350.1H350.6H351.1H351.6H352.1H352.6H353.1H353.6H354.1H354.6H355.1H355.6H356.1H356.6V355.6H357.1H357.6H358.1V355.51H358.6H359.1H359.6V355.9H360.1H360.6H361.1V355.87H361.6H362.1H362.6V355.9H363.1H363.6H364.1V355.66H364.6H365.1V355.62H365.6V355.85H366.1V355.68H366.6V355.52H367.1V354.81H367.6V354.94H368.1V355.08H368.6V355.53H369.1V355.65H369.6V355.77H370.1V355.9H370.6H371.1H371.6H372.1H372.6H373.1H373.6H374.1H374.6V355.61H375.1H375.6H376.1V355.9H376.6H377.1H377.6H378.1H378.6H379.1H379.6H380.1H380.6H381.1H381.6H382.1V355.66H382.6H383.1H383.6V355.9H384.1H384.6H385.1V355.73H385.6H386.1H386.6V355.77H387.1H387.6H388.1V355.55H388.6H389.1H389.6V355.88H390.1H390.6H391.1V355.56H391.6H392.1H392.6V355.9H393.1H393.6H394.1V355.84H394.6H395.1H395.6V355.8H396.1H396.6H397.1V355.63H397.6H398.1H398.6V355.58H399.1H399.6H400.1V355.9H400.6H401.1H401.6H402.1H402.6H403.1V355.87H403.6H404.1H404.6V355.65H405.1H405.6H406.1V355.87H406.6H407.1H407.6V355.9H408.1H408.6H409.1V355.53H409.6H410.1H410.6V355.9H411.1H411.6H412.1H412.6H413.1H413.6H414.1H414.6H415.1H415.6H416.1H416.6V355.72H417.1H417.6H418.1V355.9H418.6H419.1H419.6V355.73H420.1H420.6H421.1V355.61H421.6H422.1H422.6V355.5H423.1H423.6H424.1V355.65H424.6H425.1H425.6V355.9H426.1H426.6H427.1V355.8H427.6H428.1H428.6V355.63H429.1H429.6H430.1V355.73H430.6H431.1H431.6V355.9H432.1H432.6H433.1V355.69H433.6H434.1H434.6V355.9H435.1H435.6H436.1H436.6H437.1H437.6V355.5H438.1H438.6H439.1V355.9H439.6H440.1H440.6H441.1H441.6H442.1V355.67H442.6H443.1H443.6V355.9H444.1H444.6H445.1H445.6H446.1H446.6H447.1H447.6H448.1H448.6H449.1H449.6H450.1H450.6H451.1V355.55H451.6H452.1H452.6V355.9H453.1H453.6H454.1V355.62H454.6H455.1H455.6H456.1H456.6H457.1V355.9H457.6H458.1H458.6V355.51H459.1H459.6H460.1V355.69H460.6H461.1H461.6V355.9H462.1H462.6H463.1H463.6H464.1H464.6H465.1H465.6H466.1V355.58H466.6H467.1H467.6V355.87H468.1H468.6H469.1V355.9H469.6H470.1H470.6H471.1V355.84H471.6V355.77H472.1V355.61H472.6V355.53H473.1V355.46H473.6V355.67H474.1V355.61H474.6V355.54H475.1V355.06H475.6V354.98H476.1V354.91H476.6V355.48H477.1V355.44H477.6V355.4H478.1V354.4H478.6V354.34H479.1V354.28H479.6V355.05H480.1V355.01H480.6V354.96H481.1V355.02H481.6V354.98H482.1V354.94H482.6V354.22H483.1V354.16H483.6V354.11H484.1V354.46H484.6V354.37H485.1V354.28H485.6V353.27H486.1V353.16H486.6V353.04H487.1V353.59H487.6V353.49H488.1V353.39H488.6V353.24H489.1V353.12H489.6V352.94H490.1V352.13H490.6V351.92H491.1V351.72H491.6V352.88H492.1V352.77H492.6V352.89H493.1V351.88H493.6V352.03H494.1V352.18H494.6V352.52H495.1V352.66H495.6V352.81H496.1V353.35H496.6V353.43H497.1V353.51H497.6V352.67H498.1V352.77H498.6V352.87H499.1V354.5H499.6V354.57H500.1V354.64H500.6V353.41H501.1V353.5H501.6V353.6H502.1V354.73H502.6V354.8H503.1V354.88H503.6V354.01H504.1V354.1H504.6V354.2H505.1V355.15H505.6V355.22H506.1V355.3H506.6V355.48H507.1V355.55H507.6V355.62H508.1V355.21H508.6V355.26H509.1V355.31H509.6V354.93H510.1V354.99H510.6V355.05H511.1V355.74H511.6V355.79H512.1V355.83H512.6V355.67H513.1V355.72H513.6V355.77H514.1V355.72H514.6V355.77H515.1V355.81H515.6V355.9H516.1H516.6H517.1V355.88H517.6H518.1H518.6V355.9H519.1H519.6H520.1H520.6H521.1H521.6V355.69H522.1H522.6H523.1V355.9H523.6H524.1H524.6H525.1H525.6H526.1H526.6H527.1H527.6V355.74H528.1H528.6H529.1V355.9H529.6H530.1H530.6V355.57H531.1H531.6H532.1V355.71H532.6H533.1H533.6V355.9H534.1H534.6H535.1V355.57H535.6H536.1H536.6V355.55H537.1H537.6H538.1V355.65H538.6H539.1H539.6V355.63H540.1H540.6H541.1V355.75H541.6H542.1H542.6V355.72H543.1H543.6H544.1V355.77H544.6H545.1H545.6V355.83H546.1H546.6H547.1V355.9H547.6H548.1H548.6H549.1H549.6H550.1V355.72H550.6H551.1H551.6V355.82H552.1H552.6H553.1V355.9H553.6H554.1H554.6V355.79H555.1H555.6H556.1V355.81H556.6H557.1H557.6V355.89H558.1H558.6H559.1V355.68H559.6H560.1V355.66H560.6V355.5H561.1V355.42H561.6V355.34H562.1V355.71H562.6V355.65H563.1V355.58H563.6V355.08H564.1V355H564.6V354.93H565.1V355.2H565.6H566.1H566.6V355.09H567.1V355.08H567.6V355.07H568.1V355.23H568.6H569.1H569.6V354.63H570.1V354.62H570.6V354.61H571.1V355.14H571.6H572.1H572.6V354.54H573.1V354.53H573.6V354.51H574.1V355.2H574.6H575.1H575.6V354.92H576.1V355.01H576.6V355.11H577.1V354.97H577.6V355.07H578.1V355.17H578.6V355.48H579.1V355.58H579.6V355.68H580.1V355.9H580.6H581.1H581.6H582.1H582.6H583.1H583.6H584.1H584.6H585.1H585.6H586.1V355.65H586.6H587.1H587.6V355.67H588.1H588.6H589.1V355.51H589.6H590.1H590.6V355.9H591.1H591.6H592.1H592.6H593.1H593.6V355.85H594.1H594.6H595.1V355.7H595.6H596.1H596.6V355.9H597.1H597.6H598.1H598.6H599.1H599.6H600.1H600.6H601.1H601.6H602.1H602.6H603.1H603.6H604.1V355.53H604.6H605.1H605.6V355.9H606.1H606.6H607.1V355.55H607.6H608.1H608.6V355.9H609.1H609.6H610.1H610.6H611.1H611.6V355.26H612.1V355.17H612.6V355.09H613.1V355.86H613.6V355.8H614.1V355.75H614.6V355.66H615.1V355.61H615.6H616.1V355.6H616.6H617.1H617.6V355.66H618.1H618.6H619.1V355.32H619.6H620.1H620.6V355.51H621.1H621.6H622.1V355.58H622.6V355.66H623.1V355.73H623.6V355.9H624.1H624.6H625.1V355.57H625.6V355.67H626.1V355.74H626.6V355.9H627.1H627.6H628.1H628.6H629.1H629.6V355.77H630.1V355.76H630.6V355.75H631.1V355.47H631.6V355.46H632.1V355.44H632.6V355.62H633.1V355.61H633.6V355.6H634.1V355.55H634.6V355.53H635.1V355.52H635.6H636.1V355.51H636.6V355.49H637.1V355.4H637.6V355.39H638.1V355.37H638.6V355.31H639.1V355.3H639.6V355.29H640.1V355.9H640.6V355.86H641.1V355.82H641.6V355.88H642.1V355.83H642.6V355.79H643.1V355.16H643.6V355.11H644.1V355.06H644.6V355.12H645.1V355.07H645.6V355.02H646.1V354.97H646.6V354.92H647.1V354.87H647.6V354.5H648.1V354.45H648.6V354.41H649.1V355.13H649.6V355.09H650.1V355.06H650.6V354.34H651.1V354.3H651.6V354.26H652.1V354.59H652.6V354.55H653.1V354.52H653.6V354.49H654.1V354.45H654.6V354.42H655.1V354.63H655.6V354.6H656.1H656.6V354.65H657.1V354.77H657.6V354.88H658.1V354.63H658.6V354.76H659.1V354.88H659.6V355.04H660.1V355.14H660.6V355.11H661.1V354.7H661.6V354.67H662.1V354.64H662.6V355.32H663.1V355.29H663.6V355.27H664.1V354.75H664.6V354.72H665.1V354.69H665.6V355.39H666.1V355.37H666.6V355.35H667.1V354.66H667.6V354.64H668.1V354.61H668.6V355.17H669.1V355.13H669.6V355.1H670.1V354.16H670.6V354.11H671.1V354.06H671.6V353.87H672.1V353.82H672.6V353.77H673.1V354.7H673.6V354.67H674.1V354.63H674.6V353.79H675.1V353.71H675.6V353.5H676.1V354.23H676.6V354.06H677.1V353.9H677.6V353.57H678.1V353.39H678.6V353.22H679.1V353.46H679.6V353.29H680.1V353.11H680.6V352.06H681.1V351.76H681.6V351.45H682.1V352.02H682.6V351.7H683.1V351.39H683.6V349.52H684.1V349.24H684.6V349.07H685.1V349.24H685.6V349.07H686.1V348.9H686.6V349.14H687.1V348.9H687.6V348.35H688.1V347.04H688.6V346.49H689.1V346.21H689.6V348.25H690.1V349.05H690.6V349.85H691.1V350.2H691.6V350.04H692.1V349.87H692.6V349.62H693.1V349.45H693.6V349.29H694.1V350.13H694.6V350.32H695.1V350.51H695.6V348.39H696.1V348.58H696.6V348.77H697.1V351.03H697.6V351.22H698.1V351.4H698.6V351.49H699.1V351.61H699.6V351.74H700.1V350.05H700.6V350.18H701.1V350.3H701.6V350.37H702.1V350.52H702.6V350.74H703.1V351.84H703.6V352.02H704.1V352.21H704.6V352.45H705.1V352.63H705.6V352.81H706.1V353.54H706.6V353.65H707.1V353.75H707.6V354.12H708.1V354.22H708.6V354.32H709.1V353.54H709.6V353.67H710.1V353.78H710.6V354.3H711.1V354.38H711.6V354.45H712.1V354.66H712.6V354.74H713.1V354.81H713.6V353.84H714.1V353.94H714.6V354.03H715.1V355.27H715.6V355.33H716.1V355.38H716.6V354.94H717.1V354.91H717.6V354.88H718.1V354.36H718.6V354.33H719.1V354.3H719.6V354.28H720.1V354.25H720.6V354.22H721.1V355.04H721.6V355.02H722.1V354.99H722.6V354.1H723.1V354.07H723.6V354.04H724.1V354.26H724.6V354.23H725.1V354.22H725.6V354.16H726.1V354.19H726.6V354.22H727.1V353.83H727.6V353.86H728.1V353.9H728.6V354.13H729.1V354.16H729.6V354.2H730.1V354.49H730.6V354.52H731.1V354.56H731.6V354.37H732.1V354.41H732.6V354.44H733.1V354.8H733.6V354.78H734.1V354.75H734.6V354.65H735.1V354.62H735.6V354.59H736.1V354.22H736.6V354.19H737.1V354.16H737.6V354.39H738.1V354.36H738.6V354.33H739.1V354.63H739.6V354.6H740.1V354.58H740.6V355.04H741.1V355.02H741.6V355H742.1V353.89H742.6V353.87H743.1V353.85H743.6V354.48H744.1V354.47H744.6V354.45H745.1V354.31H745.6V354.3H746.1V354.28H746.6V354.47H747.1V354.46H747.6V354.45H748.1V354.03H748.6V354.02H749.1V354H749.6V354.22H750.1V354.21H750.6V354.19H751.1V353.52H751.6V353.5H752.1V353.47H752.6V353.73H753.1V353.63H753.6V353.52H754.1V353.48H754.6V353.38H755.1V353.28H755.6V352.77H756.1V352.66H756.6V352.55H757.1V353.09H757.6V353H758.1V352.85H758.6V352.27H759.1V351.89H759.6V351.51H760.1V350.58H760.6V350.2H761.1V349.82H761.6V349.52H762.1V349.12H762.6V348.62H763.1V348.07H763.6V347.57H764.1V347.07H764.6V346.18H765.1V345.62H765.6V344.83H766.1V344.9H766.6V344.1H767.1V343.31H767.6V342.14H768.1V340.87H768.6V340.7H769.1H769.6H770.1H770.6H771.1H771.6H772.1H772.6H773.1H773.6H774.1H774.6H775.1H775.6H776.1H776.6H777.1H777.6H778.1H778.6H779.1H779.6H780.1H780.6V340.75H781.1V343.66H781.6V345.46H782.1V345.75H782.6V345.02H783.1V345.31H783.6V345.59H784.1V347.67H784.6V347.96H785.1V348.32H785.6V347.4H786.1V348.06H786.6V348.73H787.1V350.28H787.6V350.95H788.1V351.54H788.6H789.1V351.88H789.6V352.22H790.1V353.6H790.6V353.88H791.1V354.08H791.6V353.36H792.1V353.26H792.6V353.17H793.1V352.29H793.6V352.17H794.1V352.06H794.6V352.09H795.1V351.98H795.6V351.87H796.1V352.16H796.6V352.13H797.1V352.1H797.6V352.39H798.1V352.37H798.6V352.34H799.1V353.18H799.6V353.16H800.1V353.14H800.6V351.62H801.1V351.59H801.6V351.56H802.1V352.12H802.6V352.08H803.1V352.05H803.6V351.37H804.1V351.33H804.6V351.3H805.1V351.53H805.6V351.49H806.1V351.46H806.6V351.93H807.1V351.9H807.6V351.87H808.1V350.69H808.6V350.75H809.1V350.81H809.6V352.64H810.1V352.68H810.6V352.72H811.1V350.84H811.6V350.9H812.1V350.96H812.6V353H813.1V353.04H813.6V353.09H814.1V351.17H814.6V351.23H815.1V351.24H815.6V351.92H816.1V351.77H816.6V351.61H817.1V351.8H817.6V351.65H818.1V351.5H818.6V350.09H819.1V349.94H819.6V349.79H820.1V350.69H820.6V350.32H821.1V349.94H821.6V349.58H822.1V349.2H822.6V348.83H823.1V349.62H823.6V349.24H824.1V348.84H824.6V346.43H825.1V345.93H825.6V345.43H826.1V345.34H826.6V344.84H827.1V344.43H827.6V345.41H828.1V345.35H828.6V345.3H829.1V345.57H829.6V345.52H830.1V345.46H830.6V344.61H831.1V344.55H831.6V344.25H832.1V341.65H832.6V340.7H833.1H833.6H834.1H834.6H835.1H835.6H836.1H836.6H837.1H837.6H838.1H838.6H839.1H839.6H840.1H840.6H841.1H841.6H842.1H842.6H843.1H843.6H844.1H844.6H845.1V341.79H845.6V345.47H846.1V346.85H846.6V347.52H847.1V346.5H847.6V347.17H848.1V347.84H848.6V348.69H849.1V349.33H849.6V349.83H850.1V352.16H850.6V352.62H851.1V353.03H851.6V352.26H852.1V352.69H852.6V352.77H853.1V353.37H853.6V353.44H854.1V353.52H854.6V352.86H855.1V352.94H855.6V353.03H856.1V352.65H856.6V352.75H857.1V352.81H857.6V353.24H858.1V353.18H858.6V353.12H859.1V353.36H859.6V353.3H860.1V353.24H860.6V352.98H861.1V352.91H861.6V352.85H862.1V353.5H862.6V353.57H863.1V353.65H863.6V353.33H864.1V353.41H864.6V353.49H865.1V354.17H865.6V354.25H866.1V354.32H866.6V353.41H867.1V353.5H867.6V353.59H868.1V354.66H868.6V354.64H869.1V354.61H869.6V353.87H870.1V353.84H870.6V353.81H871.1V354.33H871.6V354.31H872.1V354.28H872.6V353.63H873.1V353.6H873.6V353.58H874.1V354.39H874.6V354.37H875.1H875.6V354.47H876.1V354.52H876.6V354.58H877.1V353.7H877.6V353.78H878.1V353.85H878.6V353.79H879.1V353.87H879.6V353.94H880.1V353.78H880.6V353.87H881.1V353.95H881.6V354.31H882.1V354.36H882.6V354.34H883.1V353.89H883.6V353.86H884.1V353.83H884.6V354.95H885.1V354.93H885.6V354.91H886.1V354.22H886.6V354.19H887.1V354.16H887.6V354.13H888.1V354.1H888.6V354.08H889.1V354.71H889.6V354.69H890.1V354.68H890.6V354.75H891.1V354.78H891.6V354.81H892.1V354.69H892.6V354.72H893.1V354.74H893.6V354.38H894.1V354.41H894.6V354.44H895.1V354.12H895.6V354.16H896.1V354.19H896.6V354.32H897.1V354.35H897.6V354.39H898.1V354.6H898.6V354.63H899.1V354.66H899.6V355.3H900.1V355.31H900.6V355.3H901.1V354.5H901.6V354.48H902.1V354.47H902.6V354.72H903.1V354.7H903.6V354.69H904.1V355.11H904.6V355.1H905.1V355.09H905.6V354.5H906.1V354.49H906.6V354.47H907.1V354.94H907.6V354.93H908.1V354.92H908.6V354.82H909.1V354.81H909.6V354.8H910.1V354.6H910.6V354.58H911.1V354.57H911.6V354.15H912.1V354.14H912.6V354.12H913.1V354.98H913.6V354.97H914.1V354.96H914.6V354.49H915.1H915.6V354.51H916.1V354.82H916.6V354.84H917.1V354.87H917.6V354.31H918.1V354.34H918.6V354.37H919.1V354.21H919.6V354.24H920.1V354.27H920.6V355H921.1V355.02H921.6V355.04H922.1V354.51H922.6V354.54H923.1V354.57H923.6V354.9H924.1V354.93H924.6V354.95H925.1V355.27H925.6V355.29H926.1V355.32H926.6V355.27H927.1V355.3H927.6V355.32H928.1V355.06H928.6V355.08H929.1V355.11H929.6V354.85H930.1V354.87H930.6V354.85H931.1V355.05H931.6V355.02H932.1V355H932.6V355.65H933.1V355.63H933.6V355.62H934.1V354.72H934.6V354.7H935.1V354.67H935.6V354.88H936.1V354.86H936.6V354.84H937.1V355.01H937.6V354.99H938.1V354.97H938.6V355.17H939.1V355.15H939.6V355.13H940.1V354.87H940.6V354.85H941.1V354.83H941.6V354.5H942.1V354.48H942.6V354.45H943.1V354.97H943.6V354.95H944.1V354.93H944.6V355.08H945.1V355.07H945.6V355.09H946.1V354.16H946.6V354.18H947.1V354.2H947.6V354.78H948.1V354.8H948.6V354.82H949.1V355.29H949.6V355.31H950.1V355.33H950.6V354.35H951.1V354.37H951.6V354.4H952.1V355.35H952.6V355.37H953.1V355.38H953.6V355.1H954.1V355.12H954.6V355.14H955.1V354.87H955.6V354.89H956.1V354.91H956.6V354.88H957.1V354.9H957.6V354.92H958.1V354.69H958.6V354.71H959.1V354.73H959.6V355.53H960.1H960.6V355.51H961.1V355.05H961.6V355.02H962.1V354.98H962.6V354.6H963.1V354.56H963.6V354.52H964.1V354.96H964.6V354.93H965.1V354.9H965.6V354.57H966.1V354.53H966.6V354.49H967.1V354.77H967.6V354.74H968.1V354.7H968.6V354.35H969.1V354.31H969.6V354.28H970.1V353.92H970.6V353.88H971.1V353.84H971.6V354.65H972.1V354.61H972.6V354.58H973.1V353.99H973.6V353.96H974.1V353.92H974.6V354.45H975.1V354.41H975.6V354.36H976.1V353.5H976.6V353.43H977.1V353.37H977.6V353.5H978.1V353.44H978.6V353.38H979.1V353.16H979.6V353.1H980.1V353.04H980.6V352.95H981.1V352.88H981.6V352.82H982.1V353.24H982.6V353.19H983.1V353.13H983.6V352.42H984.1V352.35H984.6V352.27H985.1V353.69H985.6V353.62H986.1V353.56H986.6V352.66H987.1V352.59H987.6V352.51H988.1V353.5H988.6V353.61H989.1V353.71H989.6V352.84H990.1V352.97H990.6V353.1H991.1V353.04H991.6V353.18H992.1V353.3H992.6V354.04H993.1V354.11H993.6V354.18H994.1V353.43H994.6V353.51H995.1V353.6H995.6V354.26H996.1V354.33H996.6V354.41H997.1V354.79H997.6V354.85H998.1V354.92H998.6V354.99H999.1V355.06H999.6V355.12H1000.1V354.71H1000.6V354.73H1001.1V354.75H1001.6V355H1002.1V355.02H1002.6V355.04H1003.1V355.46H1003.6V355.47H1004.1V355.49H1004.6V355.21H1005.1V355.23H1005.6V355.24H1006.1V354.51H1006.6V354.53H1007.1V354.56H1007.6V355.13H1008.1V355.15H1008.6V355.17H1009.1V354.97H1009.6V354.99H1010.1V355.01H1010.6V355.3H1011.1V355.32H1011.6V355.34H1012.1V355.73H1012.6V355.75H1013.1V355.76H1013.6V355.23H1014.1V355.25H1014.6V355.27H1015.1V355.69H1015.6H1016.1H1016.6V355.76H1017.1H1017.6H1018.1V355.24H1018.6H1019.1H1019.6V355.16H1020.1H1020.6H1021.1V355.82H1021.6H1022.1H1022.6V354.84H1023.1H1023.6H1024.1V355.78H1024.6H1025.1H1025.6V355.61H1026.1H1026.6H1027.1V355.42H1027.6H1028.1H1028.6V354.9H1029.1H1029.6H1030.1V354.93H1030.6V354.89H1031.1V354.84H1031.6V354.8H1032.1V354.76H1032.6V354.71H1033.1V355.03H1033.6V354.99H1034.1V354.96H1034.6V354.33H1035.1V354.29H1035.6V354.24H1036.1V355.17H1036.6V355.14H1037.1V355.1H1037.6V353.99H1038.1V353.94H1038.6V353.9H1039.1V355.08H1039.6V355.05H1040.1V355.01H1040.6V354.84H1041.1V354.8H1041.6V354.77H1042.1V353.87H1042.6V353.83H1043.1V353.78H1043.6V353.71H1044.1V353.67H1044.6V353.62H1045.1V353.72H1045.6V353.64H1046.1V353.57H1046.6V354.18H1047.1V354.11H1047.6V354.05H1048.1V352.93H1048.6V352.85H1049.1V352.77H1049.6V353.32H1050.1V353.24H1050.6V353.17H1051.1V353.68H1051.6V353.61H1052.1V353.56H1052.6V353.75H1053.1V353.73H1053.6V353.7H1054.1V351.94H1054.6V351.91H1055.1V351.88H1055.6V353.7H1056.1H1056.6V353.77H1057.1V353.52H1057.6V353.6H1058.1V353.67H1058.6V353.5H1059.1V353.57H1059.6V353.65H1060.1V352.8H1060.6V352.9H1061.1V353H1061.6V353.19H1062.1V353.28H1062.6V353.35H1063.1V353.41H1063.6V353.48H1064.1V353.55H1064.6V353.93H1065.1V354H1065.6V354.06H1066.1V355H1066.6V355.05H1067.1V355.1H1067.6V354.18H1068.1V354.25H1068.6V354.32H1069.1V355.08H1069.6V355.13H1070.1V355.18H1070.6V354.25H1071.1H1071.6H1072.1V354.23H1072.6H1073.1H1073.6V355.33H1074.1H1074.6H1075.1V354.52H1075.6H1076.1H1076.6V355.12H1077.1H1077.6H1078.1V357.8Z" fill="#8c1a20"/>
<rect x="768.6" y="340.6" width="12" height="1.7" fill="#e81fd0"/>
<rect x="832.6" y="340.6" width="12.5" height="1.7" fill="#e81fd0"/>
<text transform="translate(599.6 371.7) scale(0.8983 1)" fill="#3ea2c8" stroke="#3ea2c8" text-anchor="middle" textLength="433.04" lengthAdjust="spacingAndGlyphs">BDTNP Chromatin Accessibility (DNase) Stage 11, Replicate 2</text>
<path d="M119.6 392.8V389.18H120.1V389.17H120.6V389.16H121.1V388.55H121.6V388.54H122.1V388.52H122.6V388.56H123.1V388.55H123.6V388.54H124.1V388.23H124.6V388.22H125.1V388.21H125.6V388.89H126.1V388.88H126.6V388.87H127.1H127.6V388.87H128.1V388.83H128.6V388.15H129.1V387.98H129.6V387.8H130.1V387.72H130.6V387.56H131.1V387.39H131.6V387.69H132.1V387.53H132.6V387.31H133.1V386.52H133.6V386.29H134.1V386.05H134.6V386.28H135.1V386.06H135.6V385.84H136.1V384.93H136.6V384.68H137.1V385.01H137.6V386.47H138.1V386.75H138.6V387.03H139.1V387.16H139.6V387.45H140.1V387.72H140.6V387.06H141.1V387.33H141.6V387.59H142.1V388.46H142.6V388.69H143.1V388.92H143.6V389.24H144.1V389.42H144.6V389.46H145.1V389.01H145.6V389.05H146.1V389.09H146.6V389.28H147.1V389.32H147.6V389.36H148.1V389.8H148.6V389.83H149.1V389.87H149.6V389.58H150.1V389.62H150.6V389.65H151.1V389.6H151.6V389.64H152.1V389.68H152.6V390.08H153.1V390.11H153.6V390.13H154.1V389.79H154.6V389.82H155.1V389.84H155.6V390.25H156.1V390.27H156.6V390.3H157.1V390.17H157.6V390.19H158.1V390.22H158.6V390.42H159.1V390.44H159.6V390.46H160.1V390.41H160.6V390.46H161.1V390.52H161.6V390.09H162.1V390.15H162.6V390.22H163.1V390.62H163.6V390.67H164.1V390.73H164.6V390.47H165.1V390.54H165.6V390.6H166.1V390.9H166.6H167.1H167.6V390.85H168.1H168.6H169.1V390.71H169.6H170.1H170.6V390.81H171.1H171.6H172.1V390.9H172.6H173.1H173.6V390.86H174.1H174.6H175.1V390.83H175.6H176.1H176.6V390.9H177.1H177.6H178.1H178.6H179.1H179.6V390.71H180.1H180.6H181.1V390.89H181.6H182.1H182.6H183.1H183.6H184.1H184.6H185.1H185.6H186.1H186.6H187.1V390.75H187.6H188.1H188.6V390.9H189.1H189.6H190.1H190.6H191.1H191.6V390.74H192.1H192.6H193.1V390.9H193.6H194.1H194.6H195.1H195.6H196.1H196.6H197.1H197.6V390.78H198.1H198.6H199.1V390.9H199.6H200.1H200.6V390.89H201.1H201.6H202.1V390.9H202.6H203.1H203.6H204.1H204.6H205.1V390.81H205.6H206.1H206.6V390.88H207.1H207.6H208.1V390.9H208.6H209.1H209.6H210.1H210.6H211.1H211.6H212.1H212.6V390.85H213.1H213.6H214.1V390.9H214.6H215.1H215.6H216.1H216.6H217.1H217.6H218.1H218.6V390.72H219.1H219.6H220.1V390.68H220.6H221.1H221.6V390.9H222.1H222.6H223.1H223.6H224.1H224.6V390.8H225.1H225.6H226.1V390.86H226.6H227.1H227.6V390.9H228.1H228.6H229.1V390.8H229.6H230.1H230.6V390.68H231.1H231.6H232.1V390.9H232.6H233.1H233.6H234.1H234.6H235.1V390.87H235.6H236.1H236.6V390.68H237.1H237.6H238.1V390.9H238.6H239.1H239.6H240.1H240.6H241.1H241.6H242.1H242.6V390.84H243.1H243.6H244.1V390.9H244.6H245.1H245.6H246.1H246.6H247.1H247.6H248.1H248.6H249.1H249.6H250.1H250.6H251.1V390.8H251.6V390.34H252.1V390.24H252.6V390.14H253.1V390.29H253.6V390.2H254.1V390.1H254.6V390.22H255.1V390.15H255.6H256.1V389.67H256.6H257.1H257.6V390.06H258.1H258.6H259.1V390.12H259.6H260.1H260.6V390.26H261.1H261.6H262.1V390.15H262.6H263.1H263.6V390.09H264.1H264.6H265.1V390.05H265.6H266.1H266.6V389.54H267.1H267.6H268.1V389.99H268.6V390.07H269.1V390.14H269.6V390.23H270.1V390.3H270.6V390.38H271.1V390.22H271.6V390.3H272.1V390.38H272.6V390.28H273.1V390.36H273.6V390.45H274.1V390.87H274.6V390.9H275.1H275.6V390.77H276.1H276.6H277.1V390.9H277.6H278.1H278.6V390.87H279.1H279.6H280.1V390.85H280.6H281.1H281.6V390.68H282.1H282.6H283.1V390.77H283.6H284.1H284.6V390.9H285.1H285.6H286.1V390.73H286.6H287.1H287.6V390.9H288.1H288.6V390.87H289.1V390.77H289.6V390.69H290.1V390.6H290.6V390.16H291.1V390.07H291.6V389.97H292.1V390.19H292.6V390.28H293.1V390.36H293.6V390.32H294.1V390.41H294.6V390.5H295.1V390.84H295.6V390.9H296.1H296.6V390.69H297.1H297.6H298.1V390.84H298.6H299.1H299.6V390.9H300.1H300.6H301.1V390.68H301.6H302.1H302.6V390.9H303.1H303.6H304.1H304.6H305.1H305.6H306.1H306.6H307.1H307.6H308.1H308.6H309.1H309.6H310.1V390.8H310.6H311.1H311.6V390.9H312.1H312.6H313.1H313.6V390.85H314.1V390.71H314.6V390.45H315.1V390.3H315.6V390.16H316.1V389.97H316.6H317.1H317.6V390.09H318.1H318.6H319.1V389.8H319.6H320.1H320.6V390.17H321.1H321.6H322.1V390.09H322.6H323.1V390.12H323.6V390.23H324.1V390.38H324.6V390.53H325.1V390.84H325.6V390.9H326.1H326.6H327.1H327.6H328.1H328.6H329.1H329.6V390.79H330.1H330.6H331.1V390.9H331.6H332.1H332.6V390.82H333.1H333.6H334.1V390.9H334.6H335.1H335.6V390.83H336.1H336.6H337.1H337.6H338.1H338.6V390.9H339.1H339.6H340.1V390.67H340.6V390.58H341.1V390.5H341.6V390.57H342.1V390.49H342.6V390.42H343.1V390.4H343.6V390.32H344.1V390.28H344.6V390.7H345.1V390.79H345.6V390.88H346.1V390.77H346.6V390.87H347.1V390.9H347.6H348.1H348.6H349.1H349.6H350.1H350.6V390.68H351.1H351.6H352.1V390.72H352.6H353.1H353.6V390.9H354.1H354.6H355.1V390.81H355.6H356.1H356.6V390.68H357.1H357.6H358.1V390.88H358.6H359.1H359.6V390.9H360.1H360.6H361.1V390.72H361.6H362.1H362.6V390.9H363.1H363.6H364.1V390.66H364.6H365.1H365.6V390.71H366.1H366.6H367.1V390.74H367.6H368.1H368.6V390.68H369.1H369.6H370.1V390.9H370.6H371.1H371.6V390.75H372.1H372.6H373.1V390.9H373.6H374.1H374.6H375.1H375.6H376.1H376.6H377.1H377.6V390.86H378.1H378.6H379.1V390.9H379.6H380.1H380.6H381.1H381.6H382.1V390.76H382.6H383.1H383.6V390.9H384.1H384.6H385.1V390.89H385.6H386.1H386.6V390.9H387.1H387.6H388.1V390.66H388.6H389.1H389.6V390.9H390.1H390.6H391.1V390.81H391.6H392.1H392.6V390.83H393.1H393.6H394.1V390.9H394.6H395.1H395.6V390.65H396.1H396.6H397.1V390.9H397.6H398.1H398.6V390.66H399.1H399.6H400.1V390.69H400.6H401.1H401.6V390.7H402.1H402.6H403.1V390.72H403.6H404.1H404.6V390.9H405.1H405.6H406.1H406.6H407.1H407.6H408.1H408.6H409.1V390.68H409.6H410.1H410.6V390.9H411.1H411.6H412.1H412.6H413.1H413.6V390.67H414.1H414.6H415.1V390.75H415.6H416.1H416.6V390.8H417.1H417.6H418.1V390.67H418.6H419.1H419.6V390.89H420.1H420.6H421.1V390.73H421.6H422.1H422.6V390.9H423.1H423.6H424.1V390.7H424.6H425.1H425.6V390.9H426.1H426.6H427.1H427.6H428.1H428.6V390.86H429.1H429.6H430.1V390.75H430.6H431.1H431.6V390.9H432.1H432.6H433.1V390.81H433.6H434.1H434.6V390.67H435.1H435.6H436.1V390.9H436.6H437.1H437.6H438.1H438.6H439.1H439.6H440.1H440.6V390.72H441.1H441.6H442.1V390.9H442.6H443.1H443.6H444.1H444.6H445.1H445.6H446.1H446.6H447.1H447.6H448.1H448.6H449.1H449.6H450.1H450.6H451.1H451.6H452.1H452.6V390.72H453.1H453.6H454.1V390.9H454.6H455.1H455.6H456.1H456.6H457.1V390.72H457.6H458.1H458.6V390.87H459.1H459.6H460.1V390.9H460.6H461.1H461.6V390.81H462.1H462.6H463.1H463.6H464.1H464.6V390.83H465.1H465.6H466.1V390.75H466.6V390.69H467.1V390.63H467.6V390.76H468.1V390.71H468.6V390.65H469.1V390.71H469.6V390.66H470.1V390.61H470.6V390.23H471.1V390.17H471.6V390.11H472.1V390.13H472.6V390.07H473.1V390.01H473.6V389.9H474.1V389.83H474.6V389.68H475.1V389.95H475.6V389.82H476.1V389.69H476.6V389.4H477.1V389.26H477.6V389.13H478.1V388.68H478.6V388.54H479.1V388.4H479.6V388.59H480.1V388.45H480.6V388.32H481.1V387.93H481.6V387.79H482.1V387.64H482.6H483.1V387.47H483.6V387.3H484.1V386.74H484.6V386.56H485.1V386.39H485.6V386.83H486.1V386.67H486.6V386.51H487.1V386.1H487.6V385.94H488.1V385.78H488.6V385.07H489.1V384.94H489.6V384.8H490.1V385.63H490.6V385.51H491.1V385.39H491.6V385.53H492.1V385.48H492.6V385.71H493.1V385.1H493.6V385.36H494.1V385.62H494.6V386.71H495.1V386.93H495.6V387.16H496.1V386.31H496.6V386.51H497.1V386.71H497.6V387.69H498.1V387.86H498.6V388.04H499.1V387.45H499.6V387.65H500.1V387.85H500.6V388.45H501.1V388.64H501.6V388.82H502.1V389.35H502.6V389.44H503.1V389.53H503.6V389.3H504.1V389.4H504.6V389.5H505.1V389.47H505.6V389.58H506.1V389.68H506.6V389.93H507.1V390.03H507.6V390.13H508.1H508.6V390.17H509.1V390.22H509.6V390.44H510.1V390.49H510.6V390.54H511.1V390.24H511.6V390.29H512.1V390.35H512.6V390.84H513.1V390.89H513.6V390.9H514.1V390.65H514.6V390.71H515.1V390.75H515.6V390.9H516.1H516.6H517.1H517.6H518.1H518.6H519.1H519.6H520.1H520.6H521.1H521.6V390.86H522.1H522.6H523.1V390.7H523.6H524.1H524.6V390.9H525.1H525.6H526.1H526.6H527.1H527.6H528.1H528.6H529.1V390.85H529.6H530.1H530.6V390.9H531.1H531.6H532.1H532.6H533.1H533.6V390.72H534.1H534.6H535.1V390.87H535.6H536.1H536.6V390.9H537.1H537.6H538.1V390.74H538.6H539.1H539.6V390.65H540.1H540.6H541.1V390.9H541.6H542.1H542.6H543.1H543.6H544.1H544.6H545.1H545.6V390.7H546.1H546.6H547.1V390.9H547.6H548.1H548.6H549.1H549.6H550.1V390.75H550.6V390.71H551.1V390.67H551.6V390.9H552.1H552.6H553.1V390.49H553.6V390.45H554.1V390.41H554.6V390.74H555.1V390.7H555.6V390.67H556.1V390.54H556.6V390.51H557.1V390.47H557.6V390.31H558.1V390.27H558.6V390.24H559.1V390.52H559.6V390.48H560.1V390.45H560.6V389.95H561.1V389.89H561.6V389.83H562.1V390.01H562.6V389.96H563.1V389.9H563.6V389.59H564.1V389.53H564.6V389.48H565.1V389.42H565.6V389.36H566.1V389.3H566.6V389.82H567.1V389.77H567.6V389.72H568.1V389.01H568.6V388.96H569.1V388.92H569.6V388.98H570.1V389.04H570.6V389.1H571.1V389.65H571.6V389.71H572.1V389.76H572.6V389.53H573.1V389.58H573.6V389.64H574.1V389.99H574.6V390.05H575.1V390.1H575.6V389.91H576.1V389.96H576.6V390.02H577.1V389.93H577.6V389.98H578.1V390.04H578.6V390.32H579.1V390.34H579.6V390.37H580.1V390.3H580.6V390.33H581.1V390.36H581.6V390.64H582.1V390.66H582.6V390.69H583.1V390.28H583.6V390.31H584.1V390.34H584.6V390.51H585.1V390.54H585.6V390.57H586.1V390.49H586.6V390.52H587.1V390.55H587.6V390.9H588.1H588.6H589.1V390.72H589.6V390.75H590.1V390.78H590.6V390.9H591.1H591.6H592.1V390.87H592.6H593.1H593.6V390.9H594.1H594.6H595.1V390.7H595.6H596.1H596.6V390.9H597.1H597.6H598.1H598.6H599.1H599.6H600.1H600.6H601.1H601.6H602.1H602.6H603.1H603.6H604.1V390.8H604.6V390.72H605.1V390.65H605.6V390.4H606.1V390.31H606.6V390.23H607.1V390.52H607.6V390.45H608.1V390.38H608.6V389.94H609.1V389.86H609.6V389.78H610.1V390.11H610.6V390.06H611.1V390.01H611.6H612.1V389.96H612.6V389.92H613.1V389.73H613.6V389.68H614.1V389.63H614.6V389.15H615.1V389.09H615.6V389.04H616.1V389.17H616.6V389.24H617.1V389.31H617.6V389.49H618.1V389.56H618.6V389.62H619.1V390.14H619.6V390.2H620.1V390.25H620.6V390.01H621.1V390.07H621.6V390.13H622.1V390.49H622.6V390.55H623.1V390.6H623.6V390.63H624.1V390.68H624.6V390.71H625.1V390.54H625.6V390.57H626.1V390.6H626.6V390.71H627.1V390.74H627.6V390.77H628.1V390.88H628.6V390.9H629.1H629.6V390.74H630.1V390.78H630.6V390.81H631.1V390.7H631.6V390.73H632.1V390.76H632.6V390.67H633.1V390.66H633.6V390.65H634.1H634.6V390.63H635.1V390.61H635.6V390.86H636.1V390.84H636.6V390.83H637.1V390.9H637.6H638.1H638.6V390.5H639.1V390.49H639.6V390.47H640.1V390.75H640.6V390.74H641.1V390.73H641.6V390.77H642.1V390.75H642.6V390.74H643.1V390.46H643.6V390.45H644.1V390.44H644.6V390.58H645.1V390.56H645.6V390.52H646.1V390.24H646.6V390.2H647.1V390.15H647.6V390.27H648.1V390.22H648.6V390.18H649.1V389.98H649.6V389.94H650.1V389.89H650.6V390.39H651.1V390.35H651.6V390.31H652.1V389.72H652.6V389.67H653.1V389.63H653.6V389.88H654.1V389.84H654.6V389.8H655.1V389.64H655.6V389.61H656.1V389.58H656.6V389.86H657.1V389.83H657.6V389.8H658.1V389.82H658.6V389.79H659.1V389.76H659.6V389.69H660.1V389.66H660.6V389.64H661.1V389.72H661.6V389.69H662.1V389.66H662.6V388.94H663.1V388.91H663.6V388.88H664.1V389.59H664.6V389.57H665.1V389.53H665.6V389.35H666.1V389.29H666.6V389.22H667.1V388.77H667.6V388.7H668.1V388.62H668.6V388.99H669.1V388.92H669.6V388.86H670.1V388.78H670.6V388.71H671.1V388.65H671.6V388.54H672.1V388.47H672.6V388.39H673.1V388.33H673.6V388.26H674.1V388.18H674.6V388.38H675.1V388.31H675.6V388.23H676.1V387.2H676.6V387.11H677.1V387.03H677.6V387.05H678.1V386.92H678.6V386.61H679.1V386.83H679.6V386.55H680.1V386.26H680.6V384.94H681.1V384.61H681.6V384.28H682.1V384.55H682.6V383.87H683.1V383.2H683.6V383.36H684.1V382.73H684.6V382.06H685.1V379.51H685.6V379.09H686.1V378.67H686.6V380.17H687.1V379.75H687.6V379.34H688.1V377.47H688.6V377.35H689.1V377.23H689.6V377.09H690.1V376.97H690.6V376.86H691.1V378.85H691.6V378.73H692.1V378.61H692.6V376.3H693.1V376.46H693.6V376.62H694.1V377.89H694.6V378.05H695.1V378.22H695.6V378.16H696.1V378.38H696.6V378.79H697.1V378.06H697.6V378.47H698.1V378.89H698.6V380.59H699.1V381.23H699.6V382.72H700.1V384.65H700.6V386.06H701.1V387.24H701.6V387.79H702.1V388.06H702.6V388.32H703.1V387.6H703.6V387.93H704.1V388.21H704.6V388.72H705.1V388.78H705.6V388.85H706.1V388.65H706.6V388.72H707.1V388.78H707.6V388.92H708.1V388.98H708.6V389.05H709.1V388.81H709.6V388.88H710.1V388.95H710.6V389.05H711.1V389.12H711.6V389.19H712.1V389.25H712.6V389.27H713.1V389.28H713.6V389.65H714.1V389.66H714.6V389.68H715.1V389.37H715.6V389.39H716.1V389.41H716.6V389.89H717.1V389.91H717.6V389.92H718.1V390.08H718.6V390.09H719.1V390.1H719.6V389.73H720.1V389.74H720.6V389.76H721.1V390.23H721.6V390.24H722.1V390.26H722.6V389.58H723.1V389.6H723.6V389.61H724.1V390.1H724.6V390.11H725.1V390.12H725.6V390.05H726.1H726.6H727.1V390.12H727.6H728.1H728.6V390.08H729.1H729.6H730.1V389.9H730.6H731.1H731.6V389.69H732.1H732.6H733.1V390.25H733.6H734.1H734.6V389.99H735.1H735.6H736.1V390.04H736.6H737.1H737.6V389.49H738.1H738.6H739.1V389.86H739.6H740.1H740.6V389.83H741.1H741.6H742.1V389.43H742.6H743.1H743.6V389.83H744.1H744.6H745.1H745.6H746.1H746.6V389.77H747.1H747.6H748.1V389.87H748.6H749.1H749.6V389.48H750.1H750.6H751.1V389.79H751.6H752.1V389.76H752.6V389.52H753.1V389.45H753.6V389.39H754.1V389.27H754.6V389.21H755.1V389.15H755.6V388.9H756.1V388.84H756.6V388.77H757.1V388.73H757.6V388.66H758.1V388.6H758.6V388.79H759.1V388.73H759.6V388.67H760.1V388.05H760.6V387.66H761.1V387.27H761.6V386.89H762.1V386.5H762.6V386.12H763.1V385.74H763.6V385.35H764.1V384.93H764.6V384.8H765.1V384.27H765.6V383.75H766.1V383.8H766.6V383.31H767.1V382.81H767.6V382.56H768.1V382.05H768.6V381.46H769.1V379.58H769.6V379H770.1V378.41H770.6V378.84H771.1V378.22H771.6V377.48H772.1V376.03H772.6V375.7H773.1H773.6H774.1H774.6H775.1H775.6H776.1H776.6H777.1H777.6H778.1H778.6H779.1H779.6H780.1H780.6V376.58H781.1V377.4H781.6V378.74H782.1V379.98H782.6V380.21H783.1V381.05H783.6V381.9H784.1V382.53H784.6V383.43H785.1V384.26H785.6V384.59H786.1V385.14H786.6V385.7H787.1V386.66H787.6V387.18H788.1V387.63H788.6V388.33H789.1V388.49H789.6V388.66H790.1V388.08H790.6V388.27H791.1V388.46H791.6V389.48H792.1V389.59H792.6V389.54H793.1V389.14H793.6V389.08H794.1V389.02H794.6V388.46H795.1V388.39H795.6V388.32H796.1V388.33H796.6V388.26H797.1V388.2H797.6V388.4H798.1V388.33H798.6V388.27H799.1V387.9H799.6V387.83H800.1V387.77H800.6V388.52H801.1V388.47H801.6V388.42H802.1V388.54H802.6V388.5H803.1V388.45H803.6V388.09H804.1V388.04H804.6V388H805.1V387.14H805.6V387.09H806.1V387.03H806.6V388.14H807.1V388.1H807.6V388.05H808.1V387.62H808.6V387.58H809.1V387.53H809.6V387.23H810.1V387.18H810.6V387.13H811.1V387.51H811.6V387.46H812.1V387.41H812.6V386.4H813.1V386.35H813.6V386.29H814.1V387.37H814.6V387.33H815.1V387.28H815.6V387.27H816.1V387.23H816.6V387.18H817.1V385.71H817.6V385.66H818.1V385.6H818.6V387.12H819.1V387.07H819.6V387.03H820.1V386.65H820.6V386.62H821.1V386.59H821.6V386.26H822.1V386.23H822.6V386.2H823.1V385.38H823.6V385.35H824.1V385.31H824.6V386.2H825.1V386.17H825.6V386.14H826.1V385.71H826.6V385.68H827.1V385.65H827.6V385.21H828.1V385.18H828.6V385.15H829.1V385.45H829.6V385.42H830.1V385.38H830.6V384.95H831.1V384.89H831.6V384.84H832.1V386.27H832.6V386.23H833.1V386.18H833.6V385.16H834.1V385.06H834.6V384.72H835.1V385.45H835.6V385.3H836.1V385.76H836.6V384.7H837.1V385.26H837.6V385.83H838.1V387.54H838.6V387.74H839.1V387.94H839.6V388.05H840.1V388.25H840.6V388.46H841.1V388.28H841.6V388.5H842.1V388.69H842.6V388.58H843.1V388.66H843.6V388.75H844.1V389.42H844.6V389.49H845.1V389.57H845.6V389.07H846.1V389.16H846.6V389.25H847.1V389.79H847.6V389.86H848.1V389.93H848.6V389.78H849.1V389.81H849.6V389.85H850.1V390.1H850.6V390.13H851.1V390.16H851.6V389.67H852.1V389.7H852.6V389.74H853.1V389.7H853.6V389.73H854.1V389.77H854.6V389.85H855.1V389.88H855.6V389.92H856.1V390.26H856.6V390.29H857.1V390.33H857.6V390.4H858.1V390.44H858.6V390.47H859.1V390.05H859.6V390.08H860.1V390.11H860.6V390.2H861.1H861.6H862.1V390.09H862.6H863.1H863.6V390.42H864.1H864.6H865.1V390.11H865.6H866.1H866.6V390.22H867.1H867.6H868.1V390.14H868.6H869.1H869.6V390.3H870.1H870.6H871.1V390.11H871.6H872.1H872.6V390.27H873.1H873.6H874.1V390.41H874.6H875.1H875.6V390.26H876.1H876.6H877.1V390.53H877.6H878.1H878.6V390.1H879.1H879.6H880.1V390.31H880.6V390.33H881.1V390.34H881.6V390.45H882.1V390.47H882.6V390.48H883.1V390.09H883.6V390.11H884.1V390.12H884.6V390.31H885.1V390.32H885.6V390.33H886.1V390.48H886.6V390.49H887.1V390.5H887.6V390.14H888.1V390.16H888.6V390.17H889.1H889.6V390.19H890.1V390.21H890.6V390.53H891.1V390.54H891.6V390.55H892.1V390.5H892.6V390.51H893.1V390.52H893.6V390.85H894.1V390.86H894.6V390.88H895.1V390.68H895.6H896.1H896.6V390.33H897.1H897.6H898.1V390.61H898.6H899.1H899.6V390.35H900.1H900.6H901.1V390.9H901.6H902.1H902.6H903.1H903.6H904.1H904.6H905.1H905.6H906.1H906.6H907.1V390.54H907.6H908.1H908.6V390.42H909.1H909.6H910.1V390.56H910.6H911.1H911.6V390.65H912.1H912.6H913.1V390.79H913.6H914.1H914.6H915.1H915.6H916.1V390.9H916.6H917.1H917.6V390.81H918.1H918.6H919.1V390.9H919.6H920.1H920.6V390.61H921.1H921.6H922.1V390.76H922.6H923.1H923.6V390.86H924.1H924.6H925.1V390.62H925.6H926.1H926.6V390.9H927.1H927.6H928.1V390.63H928.6H929.1H929.6V390.72H930.1H930.6H931.1V390.77H931.6H932.1H932.6V390.8H933.1H933.6H934.1V390.79H934.6H935.1H935.6V390.67H936.1H936.6H937.1V390.63H937.6H938.1H938.6V390.86H939.1H939.6H940.1V390.65H940.6V390.58H941.1V390.5H941.6V390.82H942.1V390.75H942.6V390.69H943.1V390.21H943.6V390.13H944.1V390.05H944.6V390.01H945.1V389.95H945.6V389.98H946.1V390.17H946.6V390.2H947.1V390.23H947.6V390.6H948.1V390.62H948.6V390.65H949.1V390.2H949.6V390.23H950.1V390.26H950.6V390.59H951.1V390.62H951.6V390.65H952.1V390.69H952.6V390.68H953.1V390.66H953.6V390.29H954.1V390.27H954.6V390.25H955.1V390.75H955.6V390.74H956.1V390.72H956.6V390.37H957.1V390.35H957.6V390.34H958.1V390.58H958.6V390.57H959.1V390.55H959.6V390.13H960.1V390.12H960.6V390.1H961.1V390.5H961.6V390.49H962.1V390.47H962.6V390.53H963.1V390.52H963.6V390.5H964.1V390.24H964.6V390.22H965.1V390.19H965.6V390.14H966.1V390.07H966.6V390H967.1V389.71H967.6V389.64H968.1V389.56H968.6V389.86H969.1V389.79H969.6V389.72H970.1V389.65H970.6V389.58H971.1V389.51H971.6V389.44H972.1V389.4H972.6V389.44H973.1V389.27H973.6V389.32H974.1V389.37H974.6V389.77H975.1V389.82H975.6V389.86H976.1V389.56H976.6V389.61H977.1V389.66H977.6V389.51H978.1V389.56H978.6V389.59H979.1V389.71H979.6V389.74H980.1V389.77H980.6V390.11H981.1V390.13H981.6V390.16H982.1V390.02H982.6V390.04H983.1V390.07H983.6V390.36H984.1V390.39H984.6V390.41H985.1V390.17H985.6V390.2H986.1V390.22H986.6V390.06H987.1V390.08H987.6V390.11H988.1V390.63H988.6V390.65H989.1V390.67H989.6V390.29H990.1V390.31H990.6V390.33H991.1V390.18H991.6V390.2H992.1V390.22H992.6V390.62H993.1V390.63H993.6V390.65H994.1H994.6V390.66H995.1V390.68H995.6V390.48H996.1V390.5H996.6V390.52H997.1V390.83H997.6V390.85H998.1V390.86H998.6V390.81H999.1V390.83H999.6V390.85H1000.1V390.67H1000.6V390.69H1001.1V390.71H1001.6V390.78H1002.1V390.79H1002.6V390.81H1003.1V390.9H1003.6H1004.1H1004.6H1005.1H1005.6V390.85H1006.1V390.5H1006.6V390.32H1007.1V390.14H1007.6V389.68H1008.1V389.55H1008.6V389.7H1009.1V390.31H1009.6V390.44H1010.1V390.56H1010.6V390.41H1011.1V390.55H1011.6V390.69H1012.1V390.88H1012.6H1013.1H1013.6V390.9H1014.1H1014.6H1015.1H1015.6H1016.1H1016.6V390.69H1017.1H1017.6H1018.1V390.9H1018.6H1019.1H1019.6V390.79H1020.1H1020.6H1021.1V390.81H1021.6H1022.1H1022.6V390.9H1023.1H1023.6H1024.1V390.82H1024.6H1025.1H1025.6V390.9H1026.1H1026.6H1027.1V390.79H1027.6H1028.1H1028.6V390.9H1029.1H1029.6H1030.1V390.67H1030.6H1031.1H1031.6V390.52H1032.1H1032.6H1033.1V390.47H1033.6H1034.1H1034.6V390.42H1035.1H1035.6H1036.1V390.78H1036.6H1037.1H1037.6V390.46H1038.1H1038.6H1039.1V390.69H1039.6H1040.1H1040.6V390.45H1041.1V390.43H1041.6V390.41H1042.1V390.53H1042.6V390.51H1043.1V390.49H1043.6V390.31H1044.1V390.29H1044.6V390.27H1045.1V390.46H1045.6V390.44H1046.1V390.42H1046.6V390.04H1047.1V390.02H1047.6V390H1048.1V390.3H1048.6V390.28H1049.1V390.26H1049.6V390.02H1050.1V390H1050.6V389.97H1051.1V390.37H1051.6V390.35H1052.1V390.34H1052.6V389.94H1053.1V389.92H1053.6V389.9H1054.1V390.24H1054.6V390.22H1055.1V390.21H1055.6V390.09H1056.1V390.11H1056.6V390.13H1057.1V390.17H1057.6V390.19H1058.1V390.21H1058.6V390.03H1059.1V390.05H1059.6V390.07H1060.1V390.15H1060.6V390.17H1061.1V390.19H1061.6V390.41H1062.1V390.43H1062.6V390.45H1063.1V390.05H1063.6V390.07H1064.1V390.09H1064.6V390.67H1065.1V390.69H1065.6H1066.1V390.41H1066.6H1067.1H1067.6V390.63H1068.1H1068.6H1069.1V390.64H1069.6H1070.1H1070.6V390.57H1071.1H1071.6H1072.1V390.12H1072.6H1073.1H1073.6V390.7H1074.1H1074.6H1075.1V390.26H1075.6H1076.1H1076.6V390.35H1077.1H1077.6H1078.1V392.8Z" fill="#3ea2c8"/>
<rect x="772.6" y="375.6" width="8" height="1.7" fill="#e81fd0"/>
<text transform="translate(599.6 406.8) scale(0.8983 1)" fill="#7030a0" stroke="#7030a0" text-anchor="middle" textLength="433.04" lengthAdjust="spacingAndGlyphs">BDTNP Chromatin Accessibility (DNase) Stage 14, Replicate 2</text>
<path d="M119.6 427.8V425.74H120.1V425.72H120.6V425.7H121.1V425.9H121.6H122.1H122.6V425.71H123.1V425.69H123.6V425.67H124.1V425.84H124.6V425.83H125.1V425.81H125.6V425.52H126.1V425.5H126.6V425.48H127.1V425.79H127.6V425.78H128.1V425.75H128.6V425.34H129.1V425.24H129.6V425.13H130.1V425.11H130.6V425H131.1V424.9H131.6V424.72H132.1V424.62H132.6V424.51H133.1V424.35H133.6V424.29H134.1V424.24H134.6V424.57H135.1V424.52H135.6V424.48H136.1V424.38H136.6V424.33H137.1V424.3H137.6V424.18H138.1V424.26H138.6V424.33H139.1V424.62H139.6V424.7H140.1V424.77H140.6V424.85H141.1V424.92H141.6V425H142.1V425.09H142.6V425.17H143.1V425.25H143.6V425.07H144.1V425.16H144.6V425.24H145.1V425.32H145.6V425.4H146.1V425.48H146.6V425.53H147.1V425.56H147.6V425.58H148.1V425.8H148.6V425.82H149.1V425.84H149.6V425.65H150.1V425.67H150.6V425.7H151.1V425.85H151.6V425.88H152.1V425.89H152.6V425.9H153.1H153.6V425.85H154.1V425.74H154.6V425.7H155.1V425.66H155.6V425.63H156.1V425.59H156.6V425.55H157.1V425.63H157.6V425.59H158.1V425.56H158.6V425.41H159.1V425.45H159.6V425.48H160.1V425.58H160.6V425.61H161.1V425.64H161.6V425.6H162.1V425.63H162.6V425.66H163.1V425.58H163.6V425.61H164.1V425.64H164.6V425.77H165.1V425.8H165.6V425.83H166.1V425.9H166.6H167.1V425.87H167.6V425.7H168.1V425.67H168.6V425.64H169.1V425.57H169.6V425.54H170.1V425.51H170.6V425.65H171.1V425.62H171.6V425.59H172.1V425.41H172.6V425.38H173.1V425.35H173.6V425.65H174.1V425.63H174.6V425.6H175.1V425.53H175.6H176.1H176.6V425.52H177.1H177.6H178.1V425.24H178.6H179.1H179.6V425.33H180.1H180.6H181.1V425.32H181.6H182.1H182.6V425.48H183.1H183.6H184.1V425.4H184.6H185.1H185.6V425.32H186.1V425.37H186.6V425.42H187.1V425.75H187.6V425.79H188.1V425.84H188.6V425.88H189.1V425.9H189.6H190.1H190.6H191.1H191.6H192.1H192.6H193.1V425.8H193.6H194.1H194.6V425.88H195.1H195.6H196.1V425.9H196.6H197.1H197.6H198.1H198.6H199.1H199.6H200.1H200.6V425.77H201.1H201.6H202.1V425.9H202.6H203.1H203.6H204.1H204.6H205.1H205.6H206.1H206.6V425.8H207.1H207.6H208.1V425.9H208.6H209.1H209.6V425.78H210.1H210.6H211.1V425.9H211.6H212.1H212.6H213.1H213.6H214.1H214.6H215.1H215.6V425.78H216.1H216.6H217.1V425.81H217.6H218.1H218.6V425.9H219.1H219.6H220.1H220.6H221.1H221.6H222.1H222.6H223.1H223.6H224.1H224.6V425.8H225.1H225.6H226.1V425.77H226.6H227.1H227.6V425.83H228.1H228.6H229.1V425.9H229.6H230.1H230.6H231.1H231.6H232.1V425.78H232.6H233.1H233.6V425.77H234.1H234.6H235.1V425.9H235.6H236.1H236.6H237.1H237.6H238.1V425.88H238.6V425.73H239.1V425.58H239.6V425.24H240.1V425.12H240.6H241.1V425.48H241.6H242.1H242.6H243.1H243.6H244.1V425.17H244.6H245.1H245.6V425.27H246.1V425.3H246.6V425.45H247.1V425.64H247.6V425.79H248.1V425.9H248.6V425.82H249.1H249.6H250.1V425.87H250.6H251.1H251.6V425.84H252.1H252.6H253.1V425.9H253.6H254.1H254.6H255.1H255.6H256.1V425.88H256.6V425.8H257.1V425.72H257.6V425.53H258.1V425.46H258.6H259.1V425.33H259.6H260.1H260.6V425.4H261.1H261.6H262.1H262.6H263.1H263.6V425.26H264.1H264.6H265.1V425.2H265.6H266.1H266.6V425.22H267.1H267.6H268.1V425.31H268.6H269.1H269.6V425.08H270.1H270.6V425.09H271.1V425.11H271.6V425.12H272.1V425.13H272.6V425.11H273.1V425.12H273.6V425.14H274.1V425.15H274.6V425.16H275.1V425.18H275.6V425.52H276.1V425.54H276.6V425.55H277.1V425.31H277.6V425.33H278.1V425.35H278.6V425.53H279.1V425.59H279.6V425.65H280.1V425.7H280.6V425.76H281.1V425.82H281.6V425.84H282.1V425.89H282.6H283.1H283.6H284.1H284.6H285.1H285.6H286.1V425.75H286.6H287.1H287.6V425.9H288.1H288.6H289.1V425.78H289.6H290.1H290.6V425.84H291.1H291.6H292.1V425.9H292.6H293.1H293.6H294.1H294.6H295.1V425.87H295.6H296.1H296.6V425.84H297.1H297.6H298.1V425.9H298.6H299.1H299.6H300.1H300.6H301.1H301.6H302.1H302.6V425.79H303.1H303.6H304.1V425.83H304.6H305.1H305.6V425.9H306.1H306.6H307.1V425.8H307.6H308.1H308.6V425.88H309.1H309.6H310.1V425.9H310.6H311.1H311.6V425.78H312.1V425.76H312.6V425.68H313.1V425.84H313.6V425.76H314.1V425.68H314.6V425.61H315.1V425.55H315.6H316.1V425.46H316.6H317.1H317.6V425.31H318.1H318.6H319.1V425.38H319.6H320.1H320.6V425.41H321.1H321.6H322.1V425.25H322.6H323.1H323.6V425.44H324.1H324.6H325.1V425.29H325.6H326.1H326.6V425.58H327.1H327.6H328.1V425.29H328.6H329.1H329.6V425.53H330.1V425.54H330.6V425.6H331.1V425.48H331.6V425.55H332.1V425.61H332.6H333.1V425.68H333.6V425.75H334.1V425.85H334.6H335.1H335.6V425.88H336.1H336.6H337.1H337.6H338.1H338.6V425.82H339.1H339.6H340.1V425.9H340.6H341.1H341.6H342.1H342.6H343.1V425.88H343.6H344.1H344.6V425.89H345.1H345.6H346.1H346.6H347.1H347.6H348.1H348.6H349.1H349.6H350.1H350.6H351.1H351.6H352.1V425.84H352.6H353.1H353.6V425.82H354.1H354.6H355.1V425.9H355.6H356.1H356.6V425.79H357.1H357.6H358.1V425.75H358.6H359.1H359.6V425.85H360.1H360.6H361.1V425.9H361.6H362.1H362.6H363.1H363.6H364.1H364.6H365.1H365.6H366.1H366.6H367.1V425.75H367.6H368.1H368.6V425.9H369.1H369.6H370.1V425.78H370.6H371.1H371.6V425.84H372.1H372.6H373.1V425.81H373.6H374.1H374.6V425.9H375.1H375.6H376.1V425.86H376.6H377.1H377.6V425.9H378.1H378.6H379.1V425.85H379.6H380.1H380.6V425.81H381.1H381.6H382.1V425.83H382.6H383.1H383.6V425.89H384.1H384.6H385.1V425.78H385.6H386.1H386.6V425.9H387.1H387.6H388.1H388.6H389.1H389.6V425.79H390.1H390.6H391.1V425.9H391.6H392.1H392.6H393.1H393.6H394.1H394.6H395.1H395.6V425.79H396.1H396.6H397.1V425.9H397.6H398.1H398.6V425.88H399.1H399.6H400.1V425.9H400.6H401.1H401.6H402.1H402.6H403.1H403.6H404.1H404.6H405.1H405.6H406.1V425.87H406.6H407.1H407.6V425.9H408.1H408.6H409.1H409.6H410.1H410.6V425.77H411.1H411.6H412.1V425.76H412.6H413.1H413.6V425.9H414.1H414.6H415.1V425.77H415.6H416.1H416.6V425.9H417.1H417.6H418.1H418.6H419.1H419.6V425.78H420.1H420.6H421.1V425.9H421.6H422.1H422.6V425.85H423.1H423.6H424.1V425.75H424.6H425.1H425.6V425.87H426.1H426.6H427.1V425.9H427.6H428.1H428.6H429.1H429.6H430.1H430.6H431.1H431.6H432.1H432.6H433.1V425.81H433.6H434.1H434.6V425.9H435.1H435.6H436.1V425.81H436.6H437.1H437.6V425.9H438.1H438.6H439.1V425.86H439.6H440.1H440.6V425.82H441.1H441.6H442.1V425.9H442.6H443.1H443.6V425.76H444.1H444.6H445.1V425.9H445.6H446.1H446.6H447.1H447.6H448.1V425.76H448.6H449.1H449.6V425.88H450.1H450.6H451.1V425.89H451.6H452.1H452.6H453.1H453.6H454.1H454.6H455.1H455.6V425.82H456.1H456.6H457.1V425.9H457.6H458.1H458.6V425.85H459.1H459.6H460.1V425.84H460.6H461.1H461.6H462.1H462.6H463.1V425.9H463.6H464.1H464.6V425.79H465.1H465.6H466.1V425.9H466.6H467.1H467.6H468.1H468.6H469.1V425.79H469.6H470.1H470.6V425.78H471.1H471.6H472.1V425.9H472.6H473.1H473.6V425.78H474.1H474.6H475.1V425.84H475.6H476.1H476.6V425.9H477.1H477.6H478.1V425.88H478.6H479.1H479.6V425.77H480.1H480.6V425.72H481.1V425.9H481.6V425.88H482.1V425.84H482.6V425.63H483.1V425.59H483.6V425.55H484.1V425.65H484.6V425.61H485.1V425.57H485.6H486.1V425.53H486.6V425.5H487.1V425.17H487.6V425.15H488.1V425.12H488.6V425.08H489.1V425.05H489.6V425.02H490.1V425.13H490.6V425.11H491.1V425.08H491.6V425H492.1V424.97H492.6V424.95H493.1V425.09H493.6V425.06H494.1H494.6V425.12H495.1V425.19H495.6V425.27H496.1H496.6V425.35H497.1V425.42H497.6H498.1V425.51H498.6V425.59H499.1V425.7H499.6V425.78H500.1V425.84H500.6V425.9H501.1H501.6H502.1V425.86H502.6H503.1H503.6V425.9H504.1H504.6H505.1V425.81H505.6H506.1H506.6V425.79H507.1H507.6H508.1V425.82H508.6H509.1H509.6V425.9H510.1H510.6H511.1H511.6H512.1H512.6V425.76H513.1H513.6H514.1V425.9H514.6H515.1H515.6V425.85H516.1H516.6H517.1V425.9H517.6H518.1H518.6H519.1H519.6H520.1H520.6H521.1H521.6V425.85H522.1H522.6H523.1V425.9H523.6H524.1H524.6V425.85H525.1H525.6H526.1V425.9H526.6H527.1H527.6V425.84H528.1H528.6H529.1H529.6H530.1H530.6V425.9H531.1H531.6H532.1H532.6H533.1H533.6H534.1H534.6H535.1H535.6H536.1H536.6H537.1H537.6H538.1H538.6H539.1H539.6V425.81H540.1H540.6H541.1V425.77H541.6H542.1H542.6V425.9H543.1H543.6H544.1H544.6H545.1H545.6V425.85H546.1H546.6H547.1V425.77H547.6H548.1H548.6V425.88H549.1H549.6H550.1H550.6H551.1H551.6V425.82H552.1H552.6H553.1H553.6H554.1H554.6V425.84H555.1H555.6H556.1V425.86H556.6H557.1H557.6V425.81H558.1H558.6H559.1V425.9H559.6H560.1H560.6V425.82H561.1H561.6H562.1V425.9H562.6H563.1H563.6H564.1H564.6H565.1H565.6H566.1H566.6H567.1H567.6H568.1V425.87H568.6H569.1H569.6H570.1H570.6H571.1V425.9H571.6H572.1H572.6H573.1H573.6H574.1V425.85H574.6H575.1H575.6V425.77H576.1H576.6H577.1V425.9H577.6H578.1H578.6H579.1H579.6H580.1V425.79H580.6H581.1H581.6V425.78H582.1H582.6H583.1V425.8H583.6H584.1H584.6V425.86H585.1H585.6H586.1V425.9H586.6H587.1H587.6H588.1H588.6H589.1V425.77H589.6H590.1H590.6V425.9H591.1H591.6H592.1H592.6H593.1H593.6V425.86H594.1H594.6H595.1V425.9H595.6H596.1H596.6H597.1H597.6H598.1V425.87H598.6H599.1H599.6V425.81H600.1H600.6H601.1V425.9H601.6H602.1H602.6H603.1H603.6H604.1H604.6H605.1H605.6V425.8H606.1H606.6H607.1V425.9H607.6H608.1H608.6H609.1H609.6H610.1H610.6H611.1H611.6V425.76H612.1H612.6H613.1V425.79H613.6H614.1H614.6V425.76H615.1H615.6H616.1V425.9H616.6H617.1H617.6H618.1H618.6H619.1H619.6H620.1H620.6V425.87H621.1H621.6H622.1V425.81H622.6H623.1H623.6V425.9H624.1H624.6H625.1V425.84H625.6H626.1H626.6H627.1H627.6H628.1V425.9H628.6H629.1H629.6H630.1H630.6H631.1H631.6H632.1H632.6V425.83H633.1H633.6H634.1V425.76H634.6H635.1H635.6H636.1H636.6H637.1V425.77H637.6H638.1H638.6V425.8H639.1H639.6H640.1V425.85H640.6V425.83H641.1V425.81H641.6V425.84H642.1V425.82H642.6V425.8H643.1V425.9H643.6V425.88H644.1V425.86H644.6V425.62H645.1V425.6H645.6V425.58H646.1V425.76H646.6V425.74H647.1V425.72H647.6V425.45H648.1V425.43H648.6V425.41H649.1H649.6V425.39H650.1V425.37H650.6V425.57H651.1H651.6H652.1V425.34H652.6H653.1H653.6V425.39H654.1H654.6H655.1V425.36H655.6H656.1H656.6V425.61H657.1H657.6H658.1V425.54H658.6H659.1H659.6V425.58H660.1H660.6H661.1V425.28H661.6H662.1H662.6V425.53H663.1H663.6H664.1V425.45H664.6H665.1H665.6V425.33H666.1H666.6H667.1V425.45H667.6H668.1H668.6V425.36H669.1H669.6H670.1H670.6V425.34H671.1V425.32H671.6V425.4H672.1V425.39H672.6V425.37H673.1V425.15H673.6V425.13H674.1V425.12H674.6V425.2H675.1V425.19H675.6V425.17H676.1V425.13H676.6V425.12H677.1V425.1H677.6V425.09H678.1V425.07H678.6V425.06H679.1V425.09H679.6V425.08H680.1V425.06H680.6V425.23H681.1V425.22H681.6V425.21H682.1V424.88H682.6V424.86H683.1V424.85H683.6V424.82H684.1V424.8H684.6V424.72H685.1V425.03H685.6V424.97H686.1V424.91H686.6V424.72H687.1V424.65H687.6V424.59H688.1V424.61H688.6V424.55H689.1V424.48H689.6V424.45H690.1V424.39H690.6V424.34H691.1V424.05H691.6V424H692.1V423.94H692.6V423.98H693.1V423.93H693.6V423.88H694.1V424.03H694.6V424.08H695.1V424.13H695.6V423.97H696.1V424.02H696.6V424.07H697.1V424H697.6V424.05H698.1V424.11H698.6V424.51H699.1V424.61H699.6V424.7H700.1V424.55H700.6V424.65H701.1V424.75H701.6V424.85H702.1V424.95H702.6V425.05H703.1V425.09H703.6V425.19H704.1V425.28H704.6V425.23H705.1H705.6H706.1V425.3H706.6H707.1H707.6V425.51H708.1H708.6H709.1V425.64H709.6H710.1H710.6V425.58H711.1H711.6H712.1V425.66H712.6H713.1H713.6V425.45H714.1H714.6H715.1V425.65H715.6H716.1H716.6V425.57H717.1H717.6H718.1V425.5H718.6H719.1H719.6V425.58H720.1H720.6H721.1V425.38H721.6H722.1H722.6V425.48H723.1H723.6H724.1V425.49H724.6H725.1H725.6V425.63H726.1H726.6H727.1V425.6H727.6H728.1H728.6V425.42H729.1H729.6H730.1V425.5H730.6H731.1H731.6V425.44H732.1H732.6H733.1V425.32H733.6H734.1H734.6V425.38H735.1H735.6H736.1V425.31H736.6H737.1H737.6V425.47H738.1H738.6H739.1V425.57H739.6H740.1H740.6V425.48H741.1H741.6H742.1V425.23H742.6H743.1H743.6V425.46H744.1H744.6H745.1V425.49H745.6H746.1H746.6V425.5H747.1H747.6H748.1V425.13H748.6H749.1H749.6V425.42H750.1H750.6H751.1V425.45H751.6H752.1H752.6V425.33H753.1H753.6H754.1V425.44H754.6H755.1H755.6V425.15H756.1H756.6H757.1V425.15H757.6H758.1H758.6V425.24H759.1H759.6H760.1V425.1H760.6V425.05H761.1V425H761.6V425.24H762.1V425.2H762.6V425.15H763.1V424.76H763.6V424.71H764.1V424.65H764.6V424.67H765.1V424.62H765.6V424.57H766.1V424.47H766.6V424.41H767.1V424.36H767.6V424.62H768.1V424.58H768.6V424.54H769.1V424.07H769.6V424.02H770.1V423.97H770.6V423.91H771.1V423.87H771.6V423.82H772.1V424.06H772.6V424.02H773.1V423.97H773.6V424.03H774.1V423.98H774.6V423.94H775.1V423.8H775.6V423.82H776.1V423.85H776.6V423.77H777.1V423.8H777.6V423.83H778.1V424H778.6V424.03H779.1V424.06H779.6V424.04H780.1V424.07H780.6V424.1H781.1V423.9H781.6V423.93H782.1V423.97H782.6V424.16H783.1V424.23H783.6V424.29H784.1V424.52H784.6V424.58H785.1V424.64H785.6V424.45H786.1V424.52H786.6V424.59H787.1V424.71H787.6V424.77H788.1V424.84H788.6V425.23H789.1V425.29H789.6V425.35H790.1V425.2H790.6H791.1H791.6V425.28H792.1H792.6H793.1H793.6H794.1H794.6V425.25H795.1H795.6H796.1V425.07H796.6H797.1H797.6V425.16H798.1H798.6H799.1V425.3H799.6H800.1H800.6V425.34H801.1V425.31H801.6V425.28H802.1V425.22H802.6V425.19H803.1V425.16H803.6V425.04H804.1V425.01H804.6V424.98H805.1V424.88H805.6V424.85H806.1V424.82H806.6V424.8H807.1V424.77H807.6V424.74H808.1H808.6V424.72H809.1V424.69H809.6V424.61H810.1V424.58H810.6V424.56H811.1V424.65H811.6V424.63H812.1V424.61H812.6V424.27H813.1V424.25H813.6V424.23H814.1V424.58H814.6V424.56H815.1V424.54H815.6V424.44H816.1V424.42H816.6V424.4H817.1V424.23H817.6V424.21H818.1V424.19H818.6V424.07H819.1V424.05H819.6V424.03H820.1V424.25H820.6H821.1H821.6V424.09H822.1V424.08H822.6V424.07H823.1V424.27H823.6H824.1H824.6V424.38H825.1H825.6H826.1V423.81H826.6V423.8H827.1V423.79H827.6V424.29H828.1H828.6H829.1V423.87H829.6V423.86H830.1H830.6V424.31H831.1V424.35H831.6V424.38H832.1V424.27H832.6V424.3H833.1V424.34H833.6V424.26H834.1V424.3H834.6V424.34H835.1V424.18H835.6V424.22H836.1V424.25H836.6V424.34H837.1V424.38H837.6V424.42H838.1V424.71H838.6V424.76H839.1V424.8H839.6V424.99H840.1V425.03H840.6V425.08H841.1V424.8H841.6V424.85H842.1V424.9H842.6V424.96H843.1V425.01H843.6V425.06H844.1V425.04H844.6V425.09H845.1V425.14H845.6V425.5H846.1V425.54H846.6H847.1V425.35H847.6H848.1H848.6V425.39H849.1H849.6H850.1V425.32H850.6H851.1H851.6V425.35H852.1H852.6H853.1V425.41H853.6H854.1H854.6V425.4H855.1H855.6H856.1V425.69H856.6H857.1H857.6V425.4H858.1H858.6H859.1V425.55H859.6H860.1H860.6V425.47H861.1H861.6H862.1V425.73H862.6H863.1H863.6V425.62H864.1H864.6H865.1V425.51H865.6H866.1H866.6V425.49H867.1H867.6H868.1V425.62H868.6H869.1H869.6V425.54H870.1H870.6H871.1V425.84H871.6H872.1H872.6V425.82H873.1H873.6H874.1V425.79H874.6H875.1H875.6V425.59H876.1H876.6H877.1V425.66H877.6H878.1H878.6V425.76H879.1H879.6H880.1V425.62H880.6H881.1H881.6V425.76H882.1H882.6H883.1V425.89H883.6H884.1H884.6V425.64H885.1H885.6H886.1V425.72H886.6H887.1H887.6V425.65H888.1H888.6H889.1V425.73H889.6H890.1H890.6V425.83H891.1H891.6H892.1V425.72H892.6H893.1H893.6V425.9H894.1H894.6H895.1H895.6H896.1H896.6H897.1H897.6H898.1V425.75H898.6H899.1H899.6V425.9H900.1H900.6H901.1V425.82H901.6H902.1H902.6V425.89H903.1H903.6H904.1V425.9H904.6H905.1H905.6H906.1H906.6H907.1V425.83H907.6H908.1H908.6V425.9H909.1H909.6H910.1V425.79H910.6H911.1H911.6V425.9H912.1H912.6H913.1V425.88H913.6H914.1H914.6V425.79H915.1H915.6H916.1V425.9H916.6H917.1H917.6H918.1H918.6H919.1V425.88H919.6H920.1H920.6V425.9H921.1H921.6H922.1V425.86H922.6H923.1H923.6V425.77H924.1H924.6H925.1V425.9H925.6H926.1H926.6H927.1H927.6H928.1V425.79H928.6H929.1H929.6V425.9H930.1H930.6H931.1V425.79H931.6H932.1H932.6V425.9H933.1H933.6H934.1V425.81H934.6H935.1H935.6V425.9H936.1H936.6H937.1V425.76H937.6H938.1H938.6V425.85H939.1H939.6H940.1V425.87H940.6H941.1H941.6V425.9H942.1H942.6H943.1V425.88H943.6H944.1H944.6V425.9H945.1H945.6H946.1V425.84H946.6H947.1H947.6V425.9H948.1H948.6H949.1H949.6H950.1H950.6H951.1H951.6H952.1H952.6V425.87H953.1V425.85H953.6V425.88H954.1V425.86H954.6V425.84H955.1V425.77H955.6V425.75H956.1V425.73H956.6V425.62H957.1V425.6H957.6V425.58H958.1V425.45H958.6V425.43H959.1V425.41H959.6H960.1V425.4H960.6H961.1V425.55H961.6H962.1H962.6V425.35H963.1H963.6H964.1V425.55H964.6H965.1H965.6V425.53H966.1H966.6H967.1V425.48H967.6H968.1H968.6V425.46H969.1H969.6H970.1V425.5H970.6H971.1H971.6V425.44H972.1H972.6H973.1V425.61H973.6H974.1H974.6H975.1H975.6H976.1V425.56H976.6H977.1H977.6V425.52H978.1H978.6H979.1V425.59H979.6H980.1H980.6V425.5H981.1V425.52H981.6V425.54H982.1V425.73H982.6V425.75H983.1V425.77H983.6V425.67H984.1V425.69H984.6V425.71H985.1H985.6V425.74H986.1V425.76H986.6V425.73H987.1V425.75H987.6V425.77H988.1V425.9H988.6H989.1H989.6V425.84H990.1V425.85H990.6H991.1V425.9H991.6H992.1H992.6V425.77H993.1H993.6H994.1V425.9H994.6H995.1H995.6H996.1H996.6H997.1V425.82H997.6H998.1H998.6V425.77H999.1H999.6H1000.1V425.81H1000.6H1001.1H1001.6V425.78H1002.1H1002.6H1003.1V425.9H1003.6H1004.1H1004.6H1005.1H1005.6H1006.1H1006.6H1007.1H1007.6V425.86H1008.1H1008.6H1009.1H1009.6H1010.1H1010.6V425.9H1011.1H1011.6H1012.1H1012.6H1013.1H1013.6V425.79H1014.1H1014.6H1015.1V425.9H1015.6H1016.1H1016.6H1017.1H1017.6H1018.1V425.8H1018.6H1019.1H1019.6V425.82H1020.1H1020.6H1021.1V425.85H1021.6H1022.1H1022.6V425.81H1023.1H1023.6H1024.1V425.86H1024.6H1025.1H1025.6H1026.1H1026.6H1027.1V425.9H1027.6H1028.1H1028.6H1029.1H1029.6H1030.1V425.77H1030.6H1031.1H1031.6V425.9H1032.1H1032.6H1033.1V425.82H1033.6H1034.1H1034.6V425.9H1035.1H1035.6H1036.1V425.83H1036.6H1037.1H1037.6V425.78H1038.1H1038.6H1039.1V425.81H1039.6H1040.1H1040.6V425.9H1041.1H1041.6H1042.1V425.79H1042.6H1043.1H1043.6V425.9H1044.1H1044.6H1045.1H1045.6H1046.1H1046.6V425.75H1047.1H1047.6H1048.1V425.8H1048.6H1049.1H1049.6V425.9H1050.1H1050.6H1051.1V425.79H1051.6H1052.1H1052.6V425.9H1053.1H1053.6H1054.1V425.86H1054.6H1055.1H1055.6V425.81H1056.1H1056.6H1057.1V425.9H1057.6H1058.1H1058.6H1059.1H1059.6H1060.1H1060.6H1061.1H1061.6H1062.1H1062.6H1063.1V425.78H1063.6H1064.1H1064.6V425.9H1065.1H1065.6H1066.1H1066.6H1067.1H1067.6V425.8H1068.1H1068.6H1069.1V425.9H1069.6H1070.1H1070.6H1071.1H1071.6H1072.1V425.8H1072.6H1073.1H1073.6V425.78H1074.1H1074.6H1075.1V425.8H1075.6H1076.1H1076.6V425.9H1077.1H1077.6H1078.1V427.8Z" fill="#7030a0"/>
<text transform="translate(600 442.3) scale(0.8983 1)" fill="#000064" stroke="#000064" text-anchor="middle" textLength="532.67" lengthAdjust="spacingAndGlyphs">12 Files, Mosquito, Honeybee, Beetle Multiz Alignments &amp; phastCons Scores</text>
<path d="M119.6 513.6V478.4H120.35V476.72H121.1V477.54H121.85V471.13H122.6V472.56H123.35V473.54H124.1V467.47H124.85V467.51H125.6V467.93H126.35V469.37H127.1V468.21H127.85V473.7H128.6V475.55H129.35V476.59H130.1V476.28H130.85V475.77H131.6V476.44H132.35V473.9H133.1V478.84H133.85V480.23H134.6V480.46H135.35V480.79H136.1V480.77H136.85V480.4H137.6V476.32H138.35V472.58H139.1V476.48H139.85V475.37H140.6V477.36H141.35V474.52H142.1V472.71H142.85V466.78H143.6V467.35H144.35V465.4H145.1V463.72H145.85V457.42H146.6V463.89H147.35V469.03H148.1V467.51H148.85V464.07H149.6V464.93H150.35V467.92H151.1V465.07H151.85V467.2H152.6V473.1H153.35V472.44H154.1V473.71H154.85V472.69H155.6V475.42H156.35V475.24H157.1V472.7H157.85V474.63H158.6V473.72H159.35V476.31H160.1V476.28H160.85V476.76H161.6V474.92H162.35V477.08H163.1V475.31H163.85V466.86H164.6V466.08H165.35V468.49H166.1V465.09H166.85V467.28H167.6V463.66H168.35V465.98H169.1V467.16H169.85V467.58H170.6V469.18H171.35V466.97H172.1V463.39H172.85V466.05H173.6V475.75H174.35V477.61H175.1V475.84H175.85V476.74H176.6V475.11H177.35V475.99H178.1V475.7H178.85V478.21H179.6V470.42H180.35V475.73H181.1V475.45H181.85V477.1H182.6V475.58H183.35V476.59H184.1V478.08H184.85V476.96H185.6V476.98H186.35V478.73H187.1V478.92H187.85V479.11H188.6V476.55H189.35V472.75H190.1V478.03H190.85V476.77H191.6V477.26H192.35V475.48H193.1V477.12H193.85V476.35H194.6V478.63H195.35V474.17H196.1V471.6H196.85V477.82H197.6V474.65H198.35V474.75H199.1V476.77H199.85V476.22H200.6V467.56H201.35V470.91H202.1V468.82H202.85V473.44H203.6V472.45H204.35V471.93H205.1V475.6H205.85V475.81H206.6V475.98H207.35V477.18H208.1V476.44H208.85V477.48H209.6V475.69H210.35V475.38H211.1V477.04H211.85V475.91H212.6V472.99H213.35V475.52H214.1V473.19H214.85V475.44H215.6V474.61H216.35V475.24H217.1V473.93H217.85V472.66H218.6V469.57H219.35V471.18H220.1V469.75H220.85V477.42H221.6V480H222.35V481.18H223.1V480.34H223.85V479.43H224.6V472.75H225.35V476.32H226.1V476.26H226.85V482.12H227.6V483.34H228.35V478.66H229.1V470.54H229.85V470.31H230.6V474.34H231.35V471.41H232.1V467.43H232.85V469.76H233.6V469.92H234.35V470.47H235.1V470.7H235.85V467.75H236.6V468.25H237.35V463.58H238.1V468.9H238.85V468.71H239.6V466.68H240.35V473H241.1V471.52H241.85V469.87H242.6V468.61H243.35V470.46H244.1V474.62H244.85V472.12H245.6V459.16H246.35V458.37H247.1V462.44H247.85V473.05H248.6V475.52H249.35V478.02H250.1V476.39H250.85V476.29H251.6V475.29H252.35V476.05H253.1V475.96H253.85V476.06H254.6V477.21H255.35V477.37H256.1V474.27H256.85V475.48H257.6V471.99H258.35V473.59H259.1V474.7H259.85V474.68H260.6V474.1H261.35V473.14H262.1V472.55H262.85V453.21H263.6V452.4H264.35V453.21H265.1V455.63H265.85V467.77H266.6V474.07H267.35V477.38H268.1V475.44H268.85V467.59H269.6V462.8H270.35V450.94H271.1V461.52H271.85V460.15H272.6V455.05H273.35V451.73H274.1V453.72H274.85V463.09H275.6V465.01H276.35V474.14H277.1V478.93H277.85V482.36H278.6V483.41H279.35V469.57H280.1V455.35H280.85V456.08H281.6V458.33H282.35V467.53H283.1V473.15H283.85V477.28H284.6V474.15H285.35V475.85H286.1V474.46H286.85V476.75H287.6H288.35V476.09H289.1V476.02H289.85V475.35H290.6V479.36H291.35V476.86H292.1V478.7H292.85V478.16H293.6V475.76H294.35V477.73H295.1V476.04H295.85V478.59H296.6V475.76H297.35V479.96H298.1V475.91H298.85V477.93H299.6V478.05H300.35V474.36H301.1V476.48H301.85V475.21H302.6V475.43H303.35V471.7H304.1V478.82H304.85V477.88H305.6V479.09H306.35V480.94H307.1V478.59H307.85V474.27H308.6V469.83H309.35V467.46H310.1V466.73H310.85V470.26H311.6V473.99H312.35V471.61H313.1V473.2H313.85V474.02H314.6V474.99H315.35V475.22H316.1V473.97H316.85V473.24H317.6V474.34H318.35V471.71H319.1V469.04H319.85V469.55H320.6V473.29H321.35V475.08H322.1V476.64H322.85V479.95H323.6V469.63H324.35V456.86H325.1V454.32H325.85V452.44H326.6V454.28H327.35V452.77H328.1V461.53H328.85V475.98H329.6V477.08H330.35V478.26H331.1V479.93H331.85V482.42H332.6V481.26H333.35V483.4H334.1V484.06H334.85V477.19H335.6V476.47H336.35V474.51H337.1V476.23H337.85V480.73H338.6V483.04H339.35V477.79H340.1V469.89H340.85V472.54H341.6V464.54H342.35V466.1H343.1V469H343.85V474.83H344.6V474.86H345.35V475.38H346.1V472.74H346.85V470.99H347.6V470.53H348.35V468.74H349.1V468.29H349.85V463.91H350.6V465.53H351.35V461.42H352.1V455.48H352.85V455.86H353.6V456.16H354.35V467.82H355.1V475.27H355.85V480.64H356.6V483.12H357.35V481.12H358.1V475.59H358.85V467.09H359.6V462.53H360.35V462.03H361.1V457.12H361.85V456.11H362.6V467.47H363.35V483H364.1V480.46H364.85V478.62H365.6V476.72H366.35V474.18H367.1V471.87H367.85V472.23H368.6V474.79H369.35V479.91H370.1V475.49H370.85V474.68H371.6V469.33H372.35V472.94H373.1V472.97H373.85V471.2H374.6V475.69H375.35V476.71H376.1V475.59H376.85V474.1H377.6V474.61H378.35V476.04H379.1V468.43H379.85V462.69H380.6V462.94H381.35V464.47H382.1V460.17H382.85V460.87H383.6V462.8H384.35V465.49H385.1V467.72H385.85V466.1H386.6V467.79H387.35V463.27H388.1V461.16H388.85V468.57H389.6V476.57H390.35V480.66H391.1V480.85H391.85V480.07H392.6V482.17H393.35V481.34H394.1V480.86H394.85V479.03H395.6V475.03H396.35V475.04H397.1V474.23H397.85V471.63H398.6V476.24H399.35V480.26H400.1V480.31H400.85V476.59H401.6V479.71H402.35V476.8H403.1V479.66H403.85V473.85H404.6V481.17H405.35V479.92H406.1V482.29H406.85V477.59H407.6V475.13H408.35V474.98H409.1V466.95H409.85V465.41H410.6V462H411.35V460.08H412.1V467.29H412.85V471.36H413.6V474.66H414.35V474.08H415.1V476.86H415.85V476.94H416.6V472.39H417.35V475.78H418.1V473.29H418.85V472.65H419.6V470.47H420.35V471.96H421.1V473.35H421.85V475.34H422.6V474.22H423.35V475.55H424.1V475.08H424.85V474.33H425.6V471.49H426.35V467.73H427.1V460.73H427.85V459.12H428.6V458.78H429.35V469.75H430.1V474.66H430.85V474.9H431.6V467.47H432.35V456.95H433.1V454.73H433.85V452.5H434.6V466.76H435.35V476.1H436.1V475.51H436.85V475.53H437.6V474H438.35V471.29H439.1V466.06H439.85V463.34H440.6V459.46H441.35V458.67H442.1V465.09H442.85V472.09H443.6V471.91H444.35V474.91H445.1V473.36H445.85V475.96H446.6V476.78H447.35V477.41H448.1V475.88H448.85V479.85H449.6V473.73H450.35V474.81H451.1V470.67H451.85V469.03H452.6V467.84H453.35V469.11H454.1V468.87H454.85V471.2H455.6V471.49H456.35V470.69H457.1V475.1H457.85V475.96H458.6V469.91H459.35V456.44H460.1V452.37H460.85V451.79H461.6V449.23H462.35V454.44H463.1V453.85H463.85V454.97H464.6V467.07H465.35V484.18H466.1V486.36H466.85V474.89H467.6V460.18H468.35V455.97H469.1V457.19H469.85V456.22H470.6V456.92H471.35V469.53H472.1V488.61H472.85V486.36H473.6V480.9H474.35V469.11H475.1V461.05H475.85V461.9H476.6V465.35H477.35V476.56H478.1V478.13H478.85V477.41H479.6V475.41H480.35V475.36H481.1V476.08H481.85V475.55H482.6V478.02H483.35V478.19H484.1V483.63H484.85V480.5H485.6V472.97H486.35V472.09H487.1V471.12H487.85V469.59H488.6V471.51H489.35V474.01H490.1V470.91H490.85V477.16H491.6V476.33H492.35V473.53H493.1V472.69H493.85V471.59H494.6V473.52H495.35V472.06H496.1V478.43H496.85V479H497.6V481.39H498.35V482.64H499.1V481.48H499.85V482.01H500.6V488.37H501.35V483.64H502.1V479.37H502.85V478.33H503.6V479.65H504.35V476.6H505.1V474.51H505.85V477.37H506.6V471.72H507.35V463.47H508.1V461.15H508.85V463.39H509.6V476.66H510.35V477.06H511.1V480.35H511.85V481.83H512.6V480.69H513.35V481.91H514.1V484.57H514.85V479.82H515.6V479.44H516.35V475.45H517.1V477.05H517.85V476.06H518.6V475.32H519.35V473.23H520.1V472.92H520.85V471.53H521.6V473.18H522.35V478.05H523.1V481.03H523.85V478.57H524.6V476.66H525.35V473.86H526.1V474.57H526.85V477.06H527.6V479.35H528.35V482.98H529.1V484.09H529.85V483.37H530.6V484.87H531.35V482.18H532.1V483.62H532.85V484.53H533.6V478.47H534.35V481.13H535.1V477.11H535.85V477.4H536.6V478.32H537.35V478.16H538.1V476.03H538.85V473.23H539.6V474.94H540.35V469.7H541.1V471.43H541.85V470.32H542.6V470.36H543.35V471.24H544.1V468.11H544.85V458.48H545.6V453.44H546.35V452.78H547.1V455.19H547.85V452.16H548.6V454.06H549.35V457.41H550.1V474.53H550.85V470.79H551.6V474.03H552.35V474.38H553.1V475.25H553.85V473.64H554.6V476.19H555.35V475.03H556.1V474.55H556.85V475.55H557.6V475.94H558.35V474.82H559.1V473.04H559.85V469.75H560.6V473.73H561.35V473.19H562.1V472.32H562.85V470.28H563.6V471.83H564.35V471.6H565.1V472.26H565.85V473.49H566.6V472.07H567.35V475.34H568.1V472.23H568.85V473.85H569.6V472.59H570.35V469.09H571.1V460.51H571.85V459.88H572.6V463.66H573.35V466.54H574.1V470.96H574.85V466.79H575.6V471.02H576.35V472.17H577.1V468.67H577.85V473.15H578.6V474.5H579.35V470.8H580.1V468.61H580.85V469.36H581.6V481.07H582.35V491.4H583.1V490.85H583.85V473.98H584.6V461.46H585.35V461.02H586.1V461.95H586.85V458.63H587.6V460.87H588.35V459.76H589.1V468.45H589.85V473.39H590.6V475.39H591.35V459.55H592.1V454.1H592.85V456.53H593.6V457.69H594.35V456.76H595.1V456.12H595.85V456.33H596.6V474.08H597.35V481.09H598.1V478.55H598.85V477.8H599.6V477.38H600.35V476.21H601.1V476.83H601.85V477.27H602.6V476.83H603.35V480.09H604.1V479.92H604.85V477.99H605.6V476.61H606.35V475.13H607.1V474.36H607.85V475.97H608.6V476.19H609.35V473.7H610.1V474.09H610.85V473.36H611.6V473.89H612.35V473.47H613.1V469.68H613.85V472.3H614.6V472.36H615.35V473.34H616.1V473.24H616.85V474.44H617.6V475.72H618.35V477.79H619.1V475.53H619.85V469.99H620.6V473.76H621.35V469.96H622.1V464.97H622.85V470.64H623.6V470.39H624.35V468.89H625.1V468.24H625.85V470.25H626.6V471.03H627.35V473.42H628.1V474.89H628.85V476.3H629.6V474.22H630.35V473.24H631.1V468.97H631.85V469.88H632.6V468.02H633.35V467.74H634.1V466.11H634.85V465.61H635.6V462.48H636.35V463.4H637.1V462.45H637.85V467.32H638.6V475.06H639.35V478.15H640.1V475.33H640.85V475.03H641.6V476.12H642.35V475.72H643.1V474.67H643.85V472.92H644.6V474.02H645.35V474.99H646.1V470.5H646.85V477.13H647.6V477.46H648.35V480.71H649.1V475.87H649.85V467.2H650.6V460.76H651.35V460.41H652.1V459.32H652.85V462.62H653.6V460.63H654.35V466.09H655.1V479.42H655.85V483.11H656.6V478H657.35V471.84H658.1V468.34H658.85V471.71H659.6V474.83H660.35V476.55H661.1V477.03H661.85V476.69H662.6V474.43H663.35V474.34H664.1V473.78H664.85V475.26H665.6V477.49H666.35V476.11H667.1V479.85H667.85V482.87H668.6V479.67H669.35V470.12H670.1V463.81H670.85V466.14H671.6V467.99H672.35V474.57H673.1V476.21H673.85V474.92H674.6V473.97H675.35V474.53H676.1V473.86H676.85V473.17H677.6V474.08H678.35V477.8H679.1V483.2H679.85V485.56H680.6V481.47H681.35V478.62H682.1V467.96H682.85V464.98H683.6V461.41H684.35V463.49H685.1V462.8H685.85V459.94H686.6V465.35H687.35V472.09H688.1V475.56H688.85V475.97H689.6V471.5H690.35V469.33H691.1V469.24H691.85V467.03H692.6V474.5H693.35V477.24H694.1V475.79H694.85V465.9H695.6V459.94H696.35V460.01H697.1V458.88H697.85V459H698.6V461.07H699.35V473.14H700.1V471.97H700.85V477.66H701.6V479.45H702.35V479.28H703.1V478.17H703.85V480.4H704.6V478.77H705.35V477.3H706.1V477.41H706.85V478.42H707.6V477.59H708.35V475.87H709.1V475.6H709.85V475.51H710.6V474.21H711.35V477.03H712.1V477.93H712.85V475.91H713.6V476.16H714.35V477.35H715.1V475.05H715.85V471.88H716.6V475.45H717.35V474.04H718.1V472.01H718.85V472.57H719.6V469.87H720.35V469.04H721.1V468.59H721.85V470.96H722.6V471.63H723.35V469.24H724.1V470.5H724.85V472.55H725.6V475.18H726.35V476.18H727.1V477.63H727.85V477.45H728.6V477.14H729.35V478.47H730.1V478.13H730.85V476.85H731.6V477.17H732.35V476.01H733.1V476.16H733.85V477.56H734.6V476.95H735.35V475.21H736.1V472.07H736.85V472.64H737.6V473.47H738.35V470.88H739.1V475.78H739.85V478.82H740.6V476.27H741.35V473.51H742.1V473.92H742.85V470.37H743.6V476.33H744.35V472.05H745.1V473.34H745.85V475.05H746.6V477.4H747.35V473.28H748.1V472.31H748.85V472.8H749.6V473.16H750.35V474.72H751.1V470.34H751.85V470.44H752.6V472.39H753.35V471.47H754.1V474.51H754.85V473.52H755.6V473.62H756.35V476.16H757.1V473.73H757.85V477.23H758.6V478.56H759.35V478.63H760.1V477.85H760.85V482H761.6V477.98H762.35V476.91H763.1V475.29H763.85V476.89H764.6V475.83H765.35V474.79H766.1V468.33H766.85V469.17H767.6V463.61H768.35V458.03H769.1V466.76H769.85V469.1H770.6V473.84H771.35V473.2H772.1V472.86H772.85V476.27H773.6V474.98H774.35V475.79H775.1V474.65H775.85V478.99H776.6V478.63H777.35V481.31H778.1V477H778.85V468.64H779.6V458.61H780.35V458.45H781.1V459.18H781.85V473.33H782.6V475.91H783.35V476.43H784.1V480.71H784.85V481.51H785.6V479.93H786.35V478.86H787.1V477.92H787.85V478.35H788.6V477.73H789.35V477H790.1V476.56H790.85V476.84H791.6V475.51H792.35V472.39H793.1V477.6H793.85V475.86H794.6V475.22H795.35V476.74H796.1V478.14H796.85V475.7H797.6V471.55H798.35V480.16H799.1V479.99H799.85V481.67H800.6V477.4H801.35V476.14H802.1V477.57H802.85V473.35H803.6V471.55H804.35V469.77H805.1V468.14H805.85V464.71H806.6V467.18H807.35V470.45H808.1V474.02H808.85V473.83H809.6V475.49H810.35V474.57H811.1V474.75H811.85V474.42H812.6V467.73H813.35V460.06H814.1V458.92H814.85V462.12H815.6V461.8H816.35V462.76H817.1V469.93H817.85V465.91H818.6V465.71H819.35V463.97H820.1V467.24H820.85V472.26H821.6V475.64H822.35V477.7H823.1V474.69H823.85V473.51H824.6V477.47H825.35V473.96H826.1V469.63H826.85V464.84H827.6V459.01H828.35V457.86H829.1V461.31H829.85V474.37H830.6V475.51H831.35V477.59H832.1V474.55H832.85V475.96H833.6V472.52H834.35V474.54H835.1V473.64H835.85V473.97H836.6V474.31H837.35V473.53H838.1V473.08H838.85V475.14H839.6V473.77H840.35V472.42H841.1V473.51H841.85V472.3H842.6V472.64H843.35V475.79H844.1V474.99H844.85V475.13H845.6V478.08H846.35V478.12H847.1V480.74H847.85V479.83H848.6V478.2H849.35V475.79H850.1V474.07H850.85V474.46H851.6V475.14H852.35V474.14H853.1V476.41H853.85V474.36H854.6V460.97H855.35V460.2H856.1V459.28H856.85V460.36H857.6V460.62H858.35V456.49H859.1V462.27H859.85V457.62H860.6V457.79H861.35V455.58H862.1V454.83H862.85V458.32H863.6V463.18H864.35V468.23H865.1V462.79H865.85V466.89H866.6V467.03H867.35V464.89H868.1V469.27H868.85V471.19H869.6V466.11H870.35V471.24H871.1V474.15H871.85V469.33H872.6V470.14H873.35V462.45H874.1V465.01H874.85V464.27H875.6V469.33H876.35V467.5H877.1V467.99H877.85V468.19H878.6V469.59H879.35V471.92H880.1V466.29H880.85V471.1H881.6V470.9H882.35V469.38H883.1V466.03H883.85V467.18H884.6V465.42H885.35V467.3H886.1V469.74H886.85V470.94H887.6V467.97H888.35V467.83H889.1V469.51H889.85V466.85H890.6V463.98H891.35V463.34H892.1V461.48H892.85V460.1H893.6V458.68H894.35V463.17H895.1V463.15H895.85V479.34H896.6V490.69H897.35V458.28H898.1V455.6H898.85V454.21H899.6V456.45H900.35V456.76H901.1V458.64H901.85V459.96H902.6V454.15H903.35V458.14H904.1V452.97H904.85V454.13H905.6V454.03H906.35V467.27H907.1V485.89H907.85V484.89H908.6V484.86H909.35V481.77H910.1V478.89H910.85V478.03H911.6V478.26H912.35V476.32H913.1V468.93H913.85V449.63H914.6V449H915.35H916.1V451.02H916.85V453.41H917.6H918.35V460.55H919.1V471.14H919.85V474.77H920.6V472.56H921.35V473.9H922.1V475.48H922.85V476.22H923.6V476.71H924.35V473.12H925.1V472.49H925.85V468.22H926.6V467.31H927.35V470.68H928.1V474.05H928.85V477.72H929.6V480.6H930.35V466.75H931.1V457.45H931.85V456.72H932.6V460.36H933.35V462.2H934.1V462.68H934.85V465.25H935.6V464.72H936.35V466.58H937.1V462.83H937.85V466.98H938.6V467.56H939.35V469.83H940.1V467.09H940.85V465.15H941.6V474H942.35V479.57H943.1V480.52H943.85V475.75H944.6V473.26H945.35V466.09H946.1V457.76H946.85V457.45H947.6V458.07H948.35V462.04H949.1V462.82H949.85V466.79H950.6V469.23H951.35V469.66H952.1V477.99H952.85V481.17H953.6V476.41H954.35V461.77H955.1V459.37H955.85V462.97H956.6V464.04H957.35V467.14H958.1V461.48H958.85V453.15H959.6V450.25H960.35V460.43H961.1V487.15H961.85V488.97H962.6V487H963.35V488.44H964.1V485.93H964.85V485.69H965.6V467.19H966.35V468.76H967.1V462.91H967.85V459.19H968.6V455.76H969.35V457.07H970.1V469.32H970.85V478.49H971.6V477.49H972.35V465.05H973.1V453.52H973.85V453.49H974.6V456.86H975.35V455.11H976.1V454.9H976.85V456.56H977.6V458.01H978.35V460.29H979.1V463.96H979.85V470.51H980.6V480.34H981.35V482.62H982.1V475.59H982.85V464.9H983.6V460.04H984.35V460.24H985.1V455.89H985.85V454.44H986.6V451.28H987.35V453.3H988.1V455.32H988.85V457.01H989.6V457.87H990.35V457.71H991.1V460.24H991.85V460.38H992.6V460.77H993.35V456.56H994.1V454.85H994.85V452.19H995.6V451.62H996.35V453.31H997.1V452.9H997.85V454.9H998.6V458.97H999.35V453.82H1000.1V478.7H1000.85V481.31H1001.6V481.47H1002.35V482.77H1003.1V460.49H1003.85V454.42H1004.6V454.56H1005.35V452.97H1006.1V452.28H1006.85V452.53H1007.6V453.69H1008.35V454.73H1009.1V456.83H1009.85V457.27H1010.6V450.91H1011.35V456.47H1012.1V454.73H1012.85V453.39H1013.6V458.14H1014.35V456.75H1015.1V460.06H1015.85V461.54H1016.6V462H1017.35V461.93H1018.1V455.93H1018.85V459.57H1019.6V456.23H1020.35V457.72H1021.1V458.25H1021.85V458.56H1022.6V451.3H1023.35V457.41H1024.1V458.98H1024.85V463.3H1025.6V472.1H1026.35V481.83H1027.1V470.68H1027.85V452.76H1028.6V451.49H1029.35V452.49H1030.1V451.19H1030.85V452.21H1031.6V454.36H1032.35V449H1033.1V450.86H1033.85V453.9H1034.6V455.74H1035.35V450.45H1036.1V457.1H1036.85V456.57H1037.6V454.32H1038.35V452.51H1039.1V456.61H1039.85V455.89H1040.6V454.16H1041.35V454.76H1042.1V456.97H1042.85V457.2H1043.6V456.23H1044.35V452.94H1045.1V457.58H1045.85V454.97H1046.6V455.08H1047.35V452.74H1048.1V457.96H1048.85V459.22H1049.6V462.24H1050.35V460.35H1051.1V455.66H1051.85V455.2H1052.6V455.84H1053.35V452.63H1054.1V449.09H1054.85V451.92H1055.6V452.56H1056.35V451.26H1057.1V450.95H1057.85V454.33H1058.6V455.01H1059.35V457.23H1060.1V459.53H1060.85V461.52H1061.6V458.5H1062.35V456.8H1063.1V454.12H1063.85V453.1H1064.6V452.96H1065.35V456.58H1066.1V456.12H1066.85V455.53H1067.6V452.21H1068.35V451.95H1069.1V452.01H1069.85V458.27H1070.6V469.56H1071.35V474.05H1072.1V467.32H1072.85V457.12H1073.6V456.8H1074.35V452.7H1075.1V453.45H1075.85V457.83H1076.6V454.23H1077.35V455.6H1078.1V513.6Z" fill="#04046a"/>
<text transform="translate(600.1 527.6) scale(0.8983 1)" fill="#468246" stroke="#468246" text-anchor="middle" textLength="259.16" lengthAdjust="spacingAndGlyphs">15 Insect Conservation by PhastCons</text>
<text transform="translate(0.2 542) scale(0.8983 1)" fill="#468246" stroke="#468246" text-anchor="start" textLength="103.08" lengthAdjust="spacingAndGlyphs">15 Insect Cons</text>
<text transform="translate(105.6 527.4) scale(0.8983 1)" fill="#468246" stroke="#468246" text-anchor="end">1</text>
<text transform="translate(107 564.1) scale(0.8983 1)" fill="#468246" stroke="#468246" text-anchor="end">0</text>
<rect x="109.5" y="529.4" width="8.3" height="1.1" fill="#468246"/>
<rect x="109.5" y="565.4" width="8.3" height="1.1" fill="#468246"/>
<text transform="translate(600 580.7) scale(0.8983 1)" fill="#000" stroke="#000" text-anchor="middle" textLength="532.67" lengthAdjust="spacingAndGlyphs">12 Files, Mosquito, Honeybee, Beetle Multiz Alignments &amp; phastCons Scores</text>
<text transform="translate(117.3 598.8) scale(0.8983 1)" fill="#6e0a28" stroke="#6e0a28" text-anchor="end" textLength="79.71" lengthAdjust="spacingAndGlyphs">15 Insect El</text>
<rect x="122.1" y="585.2" width="6.6" height="18.8" fill="#6e0a28"/>
<rect x="129.4" y="585.2" width="5.2" height="18.8" fill="#6e0a28"/>
<rect x="138" y="585.2" width="3" height="18.8" fill="#6e0a28"/>
<rect x="141.7" y="585.2" width="10.1" height="18.8" fill="#6e0a28"/>
<rect x="162.2" y="585.2" width="3.3" height="18.8" fill="#6e0a28"/>
<rect x="166.2" y="585.2" width="5.5" height="18.8" fill="#6e0a28"/>
<rect x="178.1" y="585.2" width="2.7" height="18.8" fill="#6e0a28"/>
<rect x="191.1" y="585.2" width="2.6" height="18.8" fill="#6e0a28"/>
<rect x="199.2" y="585.2" width="2.6" height="18.8" fill="#6e0a28"/>
<rect x="202.9" y="585.2" width="2.9" height="18.8" fill="#6e0a28"/>
<rect x="214.1" y="585.2" width="1.8" height="18.8" fill="#6e0a28"/>
<rect x="229" y="585.2" width="11.9" height="18.8" fill="#6e0a28"/>
<rect x="245.2" y="585.2" width="1.6" height="18.8" fill="#6e0a28"/>
<rect x="256" y="585.2" width="8.9" height="18.8" fill="#6e0a28"/>
<rect x="268.9" y="585.2" width="3.4" height="18.8" fill="#6e0a28"/>
<rect x="272.8" y="585.2" width="3.7" height="18.8" fill="#6e0a28"/>
<rect x="279.2" y="585.2" width="4.7" height="18.8" fill="#6e0a28"/>
<rect x="284.6" y="585.2" width="1.1" height="18.8" fill="#6e0a28"/>
<rect x="298" y="585.2" width="1.8" height="18.8" fill="#6e0a28"/>
<rect x="306.2" y="585.2" width="2.9" height="18.8" fill="#6e0a28"/>
<rect x="310.2" y="585.2" width="3.1" height="18.8" fill="#6e0a28"/>
<rect x="313.9" y="585.2" width="4.1" height="18.8" fill="#6e0a28"/>
<rect x="318.8" y="585.2" width="3.4" height="18.8" fill="#6e0a28"/>
<rect x="323.2" y="585.2" width="6" height="18.8" fill="#6e0a28"/>
<rect x="329.6" y="585.2" width="1.1" height="18.8" fill="#6e0a28"/>
<rect x="335.1" y="585.2" width="3.4" height="18.8" fill="#6e0a28"/>
<rect x="339.1" y="585.2" width="3.4" height="18.8" fill="#6e0a28"/>
<rect x="343.3" y="585.2" width="1.5" height="18.8" fill="#6e0a28"/>
<rect x="345.5" y="585.2" width="3.4" height="18.8" fill="#6e0a28"/>
<rect x="349.5" y="585.2" width="3.4" height="18.8" fill="#6e0a28"/>
<rect x="353.7" y="585.2" width="2.6" height="18.8" fill="#6e0a28"/>
<rect x="360.3" y="585.2" width="10.9" height="18.8" fill="#6e0a28"/>
<rect x="371.8" y="585.2" width="3.8" height="18.8" fill="#6e0a28"/>
<rect x="376.2" y="585.2" width="13.8" height="18.8" fill="#6e0a28"/>
<rect x="390.8" y="585.2" width="5.6" height="18.8" fill="#6e0a28"/>
<rect x="403.4" y="585.2" width="2.2" height="18.8" fill="#6e0a28"/>
<rect x="407.1" y="585.2" width="5.6" height="18.8" fill="#6e0a28"/>
<rect x="421.9" y="585.2" width="1.5" height="18.8" fill="#6e0a28"/>
<rect x="426.1" y="585.2" width="4" height="18.8" fill="#6e0a28"/>
<rect x="430.8" y="585.2" width="6.4" height="18.8" fill="#6e0a28"/>
<rect x="438.3" y="585.2" width="1.4" height="18.8" fill="#6e0a28"/>
<rect x="440.6" y="585.2" width="5.1" height="18.8" fill="#6e0a28"/>
<rect x="453.1" y="585.2" width="1.5" height="18.8" fill="#6e0a28"/>
<rect x="459" y="585.2" width="7.5" height="18.8" fill="#6e0a28"/>
<rect x="467.4" y="585.2" width="4" height="18.8" fill="#6e0a28"/>
<rect x="472.1" y="585.2" width="1.8" height="18.8" fill="#6e0a28"/>
<rect x="474.8" y="585.2" width="3.2" height="18.8" fill="#6e0a28"/>
<rect x="478.8" y="585.2" width="3" height="18.8" fill="#6e0a28"/>
<rect x="489.2" y="585.2" width="2.9" height="18.8" fill="#6e0a28"/>
<rect x="492.9" y="585.2" width="7.4" height="18.8" fill="#6e0a28"/>
<rect x="501" y="585.2" width="3.8" height="18.8" fill="#6e0a28"/>
<rect x="505.5" y="585.2" width="3" height="18.8" fill="#6e0a28"/>
<rect x="509.2" y="585.2" width="6.7" height="18.8" fill="#6e0a28"/>
<rect x="517.4" y="585.2" width="6.7" height="18.8" fill="#6e0a28"/>
<rect x="524.8" y="585.2" width="3" height="18.8" fill="#6e0a28"/>
<rect x="528.5" y="585.2" width="1.5" height="18.8" fill="#6e0a28"/>
<rect x="531.2" y="585.2" width="4.7" height="18.8" fill="#6e0a28"/>
<rect x="536.7" y="585.2" width="5.2" height="18.8" fill="#6e0a28"/>
<rect x="542.6" y="585.2" width="6.7" height="18.8" fill="#6e0a28"/>
<rect x="550" y="585.2" width="3" height="18.8" fill="#6e0a28"/>
<rect x="554.5" y="585.2" width="3.7" height="18.8" fill="#6e0a28"/>
<rect x="561.5" y="585.2" width="4.1" height="18.8" fill="#6e0a28"/>
<rect x="566.4" y="585.2" width="2.2" height="18.8" fill="#6e0a28"/>
<rect x="569.3" y="585.2" width="7.4" height="18.8" fill="#6e0a28"/>
<rect x="577.5" y="585.2" width="5.2" height="18.8" fill="#6e0a28"/>
<rect x="583.4" y="585.2" width="6" height="18.8" fill="#6e0a28"/>
<rect x="590.1" y="585.2" width="6.1" height="18.8" fill="#6e0a28"/>
<rect x="600.9" y="585.2" width="2.3" height="18.8" fill="#6e0a28"/>
<rect x="609.1" y="585.2" width="1.5" height="18.8" fill="#6e0a28"/>
<rect x="613.1" y="585.2" width="7.9" height="18.8" fill="#6e0a28"/>
<rect x="621.7" y="585.2" width="5.2" height="18.8" fill="#6e0a28"/>
<rect x="627.7" y="585.2" width="8.9" height="18.8" fill="#6e0a28"/>
<rect x="637.3" y="585.2" width="2.2" height="18.8" fill="#6e0a28"/>
<rect x="640.7" y="585.2" width="2.1" height="18.8" fill="#6e0a28"/>
<rect x="645.5" y="585.2" width="2.9" height="18.8" fill="#6e0a28"/>
<rect x="649.6" y="585.2" width="12.2" height="18.8" fill="#6e0a28"/>
<rect x="668.5" y="585.2" width="2.2" height="18.8" fill="#6e0a28"/>
<rect x="672.2" y="585.2" width="1.5" height="18.8" fill="#6e0a28"/>
<rect x="680.3" y="585.2" width="1.5" height="18.8" fill="#6e0a28"/>
<rect x="683.8" y="585.2" width="14.8" height="18.8" fill="#6e0a28"/>
<rect x="711.5" y="585.2" width="3" height="18.8" fill="#6e0a28"/>
<rect x="716.7" y="585.2" width="2.2" height="18.8" fill="#6e0a28"/>
<rect x="722.6" y="585.2" width="3" height="18.8" fill="#6e0a28"/>
<rect x="736" y="585.2" width="5.2" height="18.8" fill="#6e0a28"/>
<rect x="749.4" y="585.2" width="8.3" height="18.8" fill="#6e0a28"/>
<rect x="761.7" y="585.2" width="4.4" height="18.8" fill="#6e0a28"/>
<rect x="766.9" y="585.2" width="8.1" height="18.8" fill="#6e0a28"/>
<rect x="777.3" y="585.2" width="4.4" height="18.8" fill="#6e0a28"/>
<rect x="788" y="585.2" width="1.4" height="18.8" fill="#6e0a28"/>
<rect x="793.9" y="585.2" width="4.1" height="18.8" fill="#6e0a28"/>
<rect x="805.5" y="585.2" width="2.2" height="18.8" fill="#6e0a28"/>
<rect x="808.7" y="585.2" width="2.4" height="18.8" fill="#6e0a28"/>
<rect x="812.1" y="585.2" width="10.4" height="18.8" fill="#6e0a28"/>
<rect x="823.3" y="585.2" width="12.6" height="18.8" fill="#6e0a28"/>
<rect x="836.9" y="585.2" width="7.9" height="18.8" fill="#6e0a28"/>
<rect x="855.2" y="585.2" width="40.8" height="18.8" fill="#6e0a28"/>
<rect x="897.2" y="585.2" width="9.9" height="18.8" fill="#6e0a28"/>
<rect x="910.8" y="585.2" width="8.7" height="18.8" fill="#6e0a28"/>
<rect x="926.3" y="585.2" width="14.4" height="18.8" fill="#6e0a28"/>
<rect x="944.5" y="585.2" width="15.1" height="18.8" fill="#6e0a28"/>
<rect x="965.7" y="585.2" width="4" height="18.8" fill="#6e0a28"/>
<rect x="970.6" y="585.2" width="10.9" height="18.8" fill="#6e0a28"/>
<rect x="982.7" y="585.2" width="8.7" height="18.8" fill="#6e0a28"/>
<rect x="992.9" y="585.2" width="5" height="18.8" fill="#6e0a28"/>
<rect x="1003.5" y="585.2" width="21.9" height="18.8" fill="#6e0a28"/>
<rect x="1026.6" y="585.2" width="43.4" height="18.8" fill="#6e0a28"/>
<rect x="1071.5" y="585.2" width="6.5" height="18.8" fill="#6e0a28"/>
<path d="M119.6 567.2V565.02H120.35H121.1H121.85V558.64H122.6V547.26H123.35V534.17H124.1V546.19H124.85V532.27H125.6V530.8H126.35V533.52H127.1V530.85H127.85V539.1H128.6V543.26H129.35V546.37H130.1V539.34H130.85V531.86H131.6V531H132.35H133.1V531.65H133.85V543.12H134.6V557.61H135.35V560.73H136.1H136.85H137.6V560.87H138.35V546.55H139.1V535.11H139.85V531.31H140.6V543.77H141.35V564.67H142.1V541.51H142.85V538.6H143.6V533.37H144.35V534.38H145.1H145.85H146.6V547H147.35V549.34H148.1V546.8H148.85V532.59H149.6V533.34H150.35V535.74H151.1V543.95H151.85V555.39H152.6V554.8H153.35V564.71H154.1H154.85H155.6H156.35H157.1H157.85V565.02H158.6H159.35H160.1V549.43H160.85H161.6H162.35V550.86H163.1V536.79H163.85V532.39H164.6V533.39H165.35V541.66H166.1V544.75H166.85V539.83H167.6V533.66H168.35V532.42H169.1V536.03H169.85V534.73H170.6V547.96H171.35V551.13H172.1V563.58H172.85H173.6V561H174.35H175.1H175.85V565.02H176.6H177.35H178.1V551.15H178.85V532.73H179.6V530.8H180.35V543.63H181.1V560.1H181.85V563.04H182.6V565.02H183.35H184.1H184.85V554.22H185.6H186.35H187.1V565.02H187.85H188.6H189.35V551.36H190.1H190.85V557.33H191.6V540.31H192.35V535.71H193.1V538.57H193.85V556.32H194.6V560.01H195.35H196.1V563.39H196.85H197.6H198.35V561.22H199.1V555.52H199.85V539.59H200.6V534.01H201.35V544.68H202.1V555.6H202.85V550H203.6V535.79H204.35V534.93H205.1V536.58H205.85V553.27H206.6V553H207.35V564.68H208.1H208.85H209.6V555.13H210.35H211.1H211.85V564.94H212.6H213.35H214.1V550.95H214.85V532.21H215.6V543.45H216.35V552.27H217.1H217.85H218.6V555.73H219.35H220.1H220.85V555.54H221.6H222.35H223.1V559.46H223.85H224.6H225.35V556.31H226.1H226.85H227.6V565.02H228.35H229.1V554.46H229.85V543.46H230.6V530.8H231.35V532.71H232.1V547.69H232.85V530.8H233.6H234.35V534.62H235.1V532.1H235.85V540.06H236.6V530.8H237.35H238.1H238.85H239.6V534.13H240.35V545.8H241.1V558.45H241.85V562.44H242.6H243.35V563.09H244.1H244.85H245.6V543.74H246.35V543.94H247.1V559.57H247.85V562.79H248.6H249.35H250.1V549.51H250.85H251.6H252.35V562.78H253.1H253.85H254.6V565.02H255.35H256.1V554.44H256.85V543.36H257.6V534.71H258.35V530.8H259.1V539.79H259.85V530.8H260.6V531.6H261.35V530.8H262.1H262.85H263.6V536.24H264.35V546.71H265.1V558.3H265.85V561.1H266.6H267.35H268.1V560.04H268.85V554.33H269.6V542.77H270.35V532.28H271.1V532H271.85V539.78H272.6V546.06H273.35V538.29H274.1V538.24H274.85V530.8H275.6V540.54H276.35V552.54H277.1V559.93H277.85H278.6H279.35V551.74H280.1V541.9H280.85V532.37H281.6V530.99H282.35V531.4H283.1V536.91H283.85V543.7H284.6V545.38H285.35V544.28H286.1V563.32H286.85H287.6H288.35V551.39H289.1H289.85H290.6V563.34H291.35H292.1H292.85V559.14H293.6H294.35H295.1V563.86H295.85H296.6H297.35V565.02H298.1V551.1H298.85V530.8H299.6V548.03H300.35V565.02H301.1H301.85V554.31H302.6H303.35H304.1V555.2H304.85H305.6H306.35V551.38H307.1V534.4H307.85V536.63H308.6V540.42H309.35V552.59H310.1V550.42H310.85V539.1H311.6V533.12H312.35V534.16H313.1V540.52H313.85V544.34H314.6V537.64H315.35V530.8H316.1H316.85V532.97H317.6V544.18H318.35V562.48H319.1V541.63H319.85V530.91H320.6V530.8H321.35V534.52H322.1V546.16H322.85V550.45H323.6V543.74H324.35V535.43H325.1V532.62H325.85H326.6V540.13H327.35V530.8H328.1V534.21H328.85V543.02H329.6V545.45H330.35V545.92H331.1V562.94H331.85H332.6H333.35V564.55H334.1H334.85V559.86H335.6V543.73H336.35V530.8H337.1H337.85V537.18H338.6V549.6H339.35V543.31H340.1V536.27H340.85V531.1H341.6V534.1H342.35V542.39H343.1V545.62H343.85V535.62H344.6V540.56H345.35V544.66H346.1V537.99H346.85V535.36H347.6H348.35V541.26H349.1V545.84H349.85V539.86H350.6V532.09H351.35V532.5H352.1V541.4H352.85V547.2H353.6V548.05H354.35V538.29H355.1V530.81H355.85V539.47H356.6V560.3H357.35V564.07H358.1V562.28H358.85H359.6H360.35V553.36H361.1V544.25H361.85V531.07H362.6V532.42H363.35V530.8H364.1V536.67H364.85V533.46H365.6V534.64H366.35H367.1V539.56H367.85V530.8H368.6V547.73H369.35V530.8H370.1V533.5H370.85V540.2H371.6V546.63H372.35V539.71H373.1V532.86H373.85V535.41H374.6H375.35V544.7H376.1V545.85H376.85V539.63H377.6V533.3H378.35V530.87H379.1H379.85V537.46H380.6V531.66H381.35H382.1V531.42H382.85V531.22H383.6V531.29H384.35V531.26H385.1V531.25H385.85V530.93H386.6V531.4H387.35V531.66H388.1V532.23H388.85V535.46H389.6V540.93H390.35V553.7H391.1V541.46H391.85V534.78H392.6V540.18H393.35V530.8H394.1H394.85H395.6V541.46H396.35V554.43H397.1V559.05H397.85H398.6V562.18H399.35H400.1H400.85V559.45H401.6H402.35H403.1V558.78H403.85V540.73H404.6V531.1H405.35V546.64H406.1V563.85H406.85V552.6H407.6V544.77H408.35V536.41H409.1V531.98H409.85V530.8H410.6H411.35V535.56H412.1V545.6H412.85V556.97H413.6V555.41H414.35V565.02H415.1H415.85H416.6V557.3H417.35H418.1H418.85V550.65H419.6H420.35H421.1V565.02H421.85V554.72H422.6V543.01H423.35V551.28H424.1V559.21H424.85H425.6V558.19H426.35V549.77H427.1V540.23H427.85V531.07H428.6H429.35V537.39H430.1V546.15H430.85V543.98H431.6V538.74H432.35V549.6H433.1V530.8H433.85H434.6V534.1H435.35V530.8H436.1V538.96H436.85V544.37H437.6V550.52H438.35V545.27H439.1V535.19H439.85V549.43H440.6V548.64H441.35V541.17H442.1V533.79H442.85V536.28H443.6V536.43H444.35V535.08H445.1V545.47H445.85V558.5H446.6V565.02H447.35H448.1H448.85H449.6H450.35V561.85H451.1H451.85H452.6V565.02H453.35V548.67H454.1V540.4H454.85V557.18H455.6V552.96H456.35H457.1V557.95H457.85H458.6H459.35V550.36H460.1V540.68H460.85V545.33H461.6V532.1H462.35V531.25H463.1V530.94H463.85V547.77H464.6V531.68H465.35V536.76H466.1V540.85H466.85V561.06H467.6V542.93H468.35V534.85H469.1V531.93H469.85V536.56H470.6V541.91H471.35V543H472.1V542.17H472.85V539.85H473.6V545.42H474.35V565.02H475.1V543.85H475.85V532.78H476.6V536.59H477.35V537.46H478.1V543.7H478.85V543.64H479.6V536.76H480.35V533.25H481.1V536.96H481.85V553.13H482.6V565.02H483.35H484.1V556.73H484.85H485.6H486.35V552.79H487.1H487.85H488.6V555.27H489.35V549.36H490.1V532.98H490.85V530.8H491.6V537.34H492.35V546.5H493.1V545.48H493.85V540.63H494.6V530.8H495.35V532.32H496.1V530.8H496.85V533.42H497.6V531.33H498.35V530.92H499.1V532.71H499.85V540.6H500.6V546.99H501.35V541.42H502.1V540.88H502.85V532.49H503.6V540.14H504.35V540.97H505.1V547.77H505.85V539.96H506.6V534.38H507.35V530.8H508.1V543.61H508.85V557.05H509.6V541.42H510.35V535.13H511.1V530.8H511.85H512.6V533.47H513.35V534.59H514.1V533.53H514.85V541.94H515.6V547.68H516.35V562.75H517.1V553.62H517.85V546.45H518.6V535.72H519.35V532.7H520.1V545.08H520.85V530.8H521.6H522.35V543.81H523.1V535.33H523.85V543.64H524.6V544.64H525.35V539.94H526.1V532.91H526.85V532.47H527.6V541.2H528.35V546.82H529.1V533.44H529.85V543.42H530.6V550.81H531.35V549.9H532.1V539.69H532.85V535.4H533.6V532.54H534.35H535.1V538.44H535.85V545.33H536.6V546.54H537.35V537.93H538.1V545.91H538.85V531.47H539.6V530.8H540.35H541.1V536.29H541.85V549.34H542.6V546.19H543.35V540.99H544.1V535.25H544.85V531.75H545.6H546.35V530.8H547.1V533.12H547.85V533.54H548.6V539.23H549.35V554.06H550.1V544.17H550.85V533.45H551.6V539.17H552.35V538.63H553.1V551.62H553.85V554.29H554.6V547.65H555.35V537.52H556.1V530.8H556.85H557.6V542.53H558.35V558.21H559.1V563.23H559.85H560.6V563.72H561.35V556.77H562.1V547.47H562.85V531.8H563.6V530.8H564.35V531.68H565.1V538.72H565.85V549.29H566.6V545.04H567.35V530.8H568.1V541.55H568.85V551.28H569.6V544.8H570.35V544.7H571.1V531.52H571.85V530.83H572.6H573.35H574.1V531.27H574.85V530.84H575.6V535.1H576.35V555.24H577.1V561.83H577.85V541.21H578.6V534.39H579.35V530.8H580.1V539.78H580.85V532.78H581.6V536.81H582.35V543.69H583.1V546.85H583.85V541.31H584.6V535.09H585.35V533.81H586.1H586.85H587.6V531.79H588.35V537.23H589.1V543.27H589.85V552H590.6V539.41H591.35V548.11H592.1V530.8H592.85V531.1H593.6V530.8H594.35V532.19H595.1V537.94H595.85V549.96H596.6V565.02H597.35H598.1H598.85V562.06H599.6H600.35H601.1V545.82H601.85V531.82H602.6V542.96H603.35V555.73H604.1V556.88H604.85H605.6V554.23H606.35H607.1H607.85V556.44H608.6H609.35V546.42H610.1V543.04H610.85V557.98H611.6V561.7H612.35V564.67H613.1V556.11H613.85V545.01H614.6V532.94H615.35V546.42H616.1V532.25H616.85V533.45H617.6V530.92H618.35V531.65H619.1V532.29H619.85V535.6H620.6V541.04H621.35V550.4H622.1V539.87H622.85V533.2H623.6V532.93H624.35V530.8H625.1V532.07H625.85V537.5H626.6V543.48H627.35V561.3H628.1V542.62H628.85V536.61H629.6V532.55H630.35V531.61H631.1H631.85V530.8H632.6H633.35H634.1V540.33H634.85V531.11H635.6V535.81H636.35V542.22H637.1V546.89H637.85V536.01H638.6V533.69H639.35V544.83H640.1V555.64H640.85V544.83H641.6V533.21H642.35V542.27H643.1V557.67H643.85V553.18H644.6H645.35V555.52H646.1V540.33H646.85V532.85H647.6V535.38H648.35V546.45H649.1V557.35H649.85V546.46H650.6V538.46H651.35V531.81H652.1V531.79H652.85V530.88H653.6V530.95H654.35H655.1V535.03H655.85V530.81H656.6V531.92H657.35V531.5H658.1H658.85V530.93H659.6V531.12H660.35V532.64H661.1V544.03H661.85V555.34H662.6V550.38H663.35H664.1V549.67H664.85H665.6H666.35V565.02H667.1H667.85H668.6V548.75H669.35V530.8H670.1V541.21H670.85V552.78H671.6V563.8H672.35V544.31H673.1V541.56H673.85V556.44H674.6V562.71H675.35V565.02H676.1H676.85H677.6V559.99H678.35H679.1H679.85V565.02H680.6V547.15H681.35V539.66H682.1V563.91H682.85H683.6V557.89H684.35V546.19H685.1V534.72H685.85V530.87H686.6V531.27H687.35V531.06H688.1V531.27H688.85V531.07H689.6V531.12H690.35V531.78H691.1V532.2H691.85V530.87H692.6V531.22H693.35V530.88H694.1V547.16H694.85V530.88H695.6V530.84H696.35V531.34H697.1V532.09H697.85V544.02H698.6V554.62H699.35V564.97H700.1V563.5H700.85H701.6H702.35V558.23H703.1H703.85H704.6V557.38H705.35H706.1H706.85V564.4H707.6H708.35H709.1V550.73H709.85H710.6H711.35V556.38H712.1V540.79H712.85V537.24H713.6V539.76H714.35V549.81H715.1V564.48H715.85V553.52H716.6V553.67H717.35V535.95H718.1V536.61H718.85V554.14H719.6V565.02H720.35V557.39H721.1H721.85H722.6V554.02H723.35V542.89H724.1V537.21H724.85V538.94H725.6V553.69H726.35V559.12H727.1V564.21H727.85H728.6H729.35V562.89H730.1H730.85H731.6V551.02H732.35H733.1H733.85V561.52H734.6H735.35H736.1V554.12H736.85V547.78H737.6V533.85H738.35V532.41H739.1H739.85V535.34H740.6V545.41H741.35V557.73H742.1V564.18H742.85V565.02H743.6H744.35H745.1V562.81H745.85H746.6H747.35V564.27H748.1H748.85H749.6V553.67H750.35V541.19H751.1V533.08H751.85V530.8H752.6H753.35H754.1V533.98H754.85V534.21H755.6V535.4H756.35V533.92H757.1V545.4H757.85V556.87H758.6V551.18H759.35H760.1H760.85V556.87H761.6V556.69H762.35V545.83H763.1V531.9H763.85V539.79H764.6V530.8H765.35V536.83H766.1V546.92H766.85V546.17H767.6V549.22H768.35V544.79H769.1V548.27H769.85V532.48H770.6H771.35V545.66H772.1V531.74H772.85H773.6V533.98H774.35V544.4H775.1V556.65H775.85V564.63H776.6V565.02H777.35V553.7H778.1V543.96H778.85V534.65H779.6V533.96H780.35V537.39H781.1V545.79H781.85V557.92H782.6V565.02H783.35V563.83H784.1H784.85H785.6V561.73H786.35H787.1H787.85V554.99H788.6V536.68H789.35V550.11H790.1V563.02H790.85H791.6H792.35V565.02H793.1H793.85V557.77H794.6V543.98H795.35V532.46H796.1V531.77H796.85V536.77H797.6V548.4H798.35V554.1H799.1V560.43H799.85H800.6H801.35V565.02H802.1H802.85H803.6H804.35H805.1H805.85V543.56H806.6V536.3H807.35V539.83H808.1V560.01H808.85V543.62H809.6V532.01H810.35V539.72H811.1V550.6H811.85V553.37H812.6V547.02H813.35V549.53H814.1V530.93H814.85V530.8H815.6H816.35H817.1H817.85H818.6H819.35H820.1H820.85H821.6V541.78H822.35V547.72H823.1V546.67H823.85V540H824.6V533.48H825.35V541.13H826.1V536.57H826.85V531.45H827.6V543.46H828.35V535.45H829.1V530.91H829.85V530.98H830.6V531.26H831.35V531.18H832.1V531.26H832.85V530.81H833.6V535.36H834.35V548.89H835.1V540.68H835.85V548.73H836.6V552.94H837.35V545.78H838.1V537.44H838.85V530.8H839.6H840.35V544.78H841.1V530.8H841.85V532.49H842.6V530.8H843.35V546.67H844.1V552.89H844.85V554.99H845.6V558.67H846.35V561.45H847.1H847.85H848.6V554.65H849.35H850.1H850.85V563.46H851.6H852.35H853.1V564.3H853.85H854.6H855.35V536.44H856.1V533.39H856.85V531.98H857.6V530.86H858.35V532.08H859.1H859.85V531.48H860.6H861.35H862.1V531H862.85H863.6H864.35V531.82H865.1V538.6H865.85V532.49H866.6V532.22H867.35V531.31H868.1V532.29H868.85V531.19H869.6V531.69H870.35V531.17H871.1V531.39H871.85H872.6H873.35V531.97H874.1V531.2H874.85V531.08H875.6V531.8H876.35V531.64H877.1V532.13H877.85V532.5H878.6V531.74H879.35V531.4H880.1V532.26H880.85V543.3H881.6V538.08H882.35V531.19H883.1V531.46H883.85V531.72H884.6V531.38H885.35V531.13H886.1V531.38H886.85V530.88H887.6V531.43H888.35V531.29H889.1V531H889.85V532.33H890.6V531.57H891.35V531.67H892.1V531.81H892.85V531.35H893.6V530.93H894.35H895.1V533.41H895.85V536.88H896.6V564.29H897.35V551.87H898.1V533.94H898.85V531.79H899.6V532.74H900.35V545.68H901.1V530.8H901.85V531.3H902.6V530.92H903.35V531.52H904.1H904.85V530.89H905.6V531.32H906.35V542.6H907.1V547.51H907.85V550.62H908.6V563H909.35V562.28H910.1V549.71H910.85V536.49H911.6V548.53H912.35V530.8H913.1V531.71H913.85V530.92H914.6V540.95H915.35V535.12H916.1V532.56H916.85V534.53H917.6V531.44H918.35V533.23H919.1V536.07H919.85V540.04H920.6V547.84H921.35V555.15H922.1V561.75H922.85V564.29H923.6V562.56H924.35V556.07H925.1V548.85H925.85V541.11H926.6V536.05H927.35V532.95H928.1V531.33H928.85V531.1H929.6V532.27H930.35V531.12H931.1V532.05H931.85V530.81H932.6V531.07H933.35H934.1V531.15H934.85H935.6H936.35V530.97H937.1H937.85H938.6V531.38H939.35V532.01H940.1V534.55H940.85V538.48H941.6V552.88H942.35V564.29H943.1V560.97H943.85V548.48H944.6V544.4H945.35V533.65H946.1V530.98H946.85H947.6V531.65H948.35V531.27H949.1V531.04H949.85V530.97H950.6H951.35H952.1V540.21H952.85V534.82H953.6V530.85H954.35V531.09H955.1V531.91H955.85H956.6V530.91H957.35H958.1V531.1H958.85V533.97H959.6V536.84H960.35V545.15H961.1V553.47H961.85V560.99H962.6V564.29H963.35V561.91H964.1V554.52H964.85V546.29H965.6V542.11H966.35V537.93H967.1V535.88H967.85V530.8H968.6V535.14H969.35V537.92H970.1V564.29H970.85V537.24H971.6V543.78H972.35V531.3H973.1V537.32H973.85V530.8H974.6V532.17H975.35H976.1H976.85H977.6V532.57H978.35V534.22H979.1V530.8H979.85H980.6V532.45H981.35V538.09H982.1V564.29H982.85V538.09H983.6V532.82H984.35V530.8H985.1H985.85V531.85H986.6V535.7H987.35V544.54H988.1V530.8H988.85H989.6H990.35V534.71H991.1V535.76H991.85V556.9H992.6V538.16H993.35V535.32H994.1V547.71H994.85V542.15H995.6V545.09H996.35V530.8H997.1V533.2H997.85V536.11H998.6V545.29H999.35V554.31H1000.1V562.33H1000.85V564.29H1001.6V559.27H1002.35V550.8H1003.1V541.49H1003.85V536.34H1004.6V532.53H1005.35V531.6H1006.1V530.85H1006.85V532.3H1007.6H1008.35V531.64H1009.1V545.76H1009.85V531.64H1010.6V531.14H1011.35H1012.1H1012.85V531.96H1013.6V530.93H1014.35V530.94H1015.1V532.38H1015.85V531.77H1016.6V531.74H1017.35V532.15H1018.1V532.16H1018.85V532.48H1019.6V531.85H1020.35H1021.1H1021.85V531.56H1022.6V531.25H1023.35V531.2H1024.1V532.48H1024.85V536.01H1025.6V538.22H1026.35V537.72H1027.1V534.97H1027.85V532.54H1028.6V532.24H1029.35V531.75H1030.1V547.37H1030.85V530.91H1031.6V532.43H1032.35H1033.1V530.93H1033.85H1034.6H1035.35V531.67H1036.1V530.94H1036.85V531.67H1037.6V530.99H1038.35V543.79H1039.1V530.99H1039.85V531.68H1040.6V536.91H1041.35V531.68H1042.1V532.34H1042.85V532.2H1043.6V532.37H1044.35V532.18H1045.1V531.22H1045.85V531.91H1046.6V531.85H1047.35V531.11H1048.1V531.85H1048.85V531.45H1049.6H1050.35H1051.1V531.22H1051.85V531.08H1052.6V531.22H1053.35V531.25H1054.1H1054.85H1055.6V530.87H1056.35V531.44H1057.1H1057.85V532.16H1058.6V531.25H1059.35V531.74H1060.1V531.84H1060.85V531.64H1061.6V531.16H1062.35V531.93H1063.1V530.81H1063.85V531.93H1064.6V531.73H1065.35H1066.1V531.17H1066.85V530.93H1067.6V532.13H1068.35V531.36H1069.1V534.07H1069.85V536.84H1070.6V562.72H1071.35V539.68H1072.1V537.03H1072.85V534.38H1073.6V534.65H1074.35V534.9H1075.1V540.62H1075.85V530.8H1076.6V531.34H1077.35V534.21H1078.1V567.2Z" fill="#468246"/>
<path d="M130.8 270.5V287.7M141.59 270.5V287.7M152.38 270.5V287.7M163.17 270.5V287.7M173.96 270.5V287.7M184.75 270.5V287.7M195.54 270.5V287.7M206.33 270.5V287.7M217.12 270.5V287.7M227.91 270.5V287.7M238.7 270.5V287.7M249.49 270.5V287.7M260.28 270.5V287.7M271.07 270.5V287.7M281.86 270.5V287.7M292.65 270.5V287.7M303.44 270.5V287.7M314.23 270.5V287.7M325.02 270.5V287.7M335.81 270.5V287.7M346.6 270.5V287.7M357.39 270.5V287.7M368.18 270.5V287.7M378.97 270.5V287.7M389.76 270.5V287.7M400.55 270.5V287.7M411.34 270.5V287.7M422.13 270.5V287.7M432.92 270.5V287.7M443.71 270.5V287.7M454.5 270.5V287.7M465.29 270.5V287.7M476.08 270.5V287.7M486.87 270.5V287.7M497.66 270.5V287.7M508.45 270.5V287.7M519.24 270.5V287.7M530.03 270.5V287.7M540.82 270.5V287.7M551.61 270.5V287.7M562.4 270.5V287.7M573.19 270.5V287.7M583.98 270.5V287.7M594.77 270.5V287.7M605.56 270.5V287.7M616.35 270.5V287.7M627.14 270.5V287.7M637.93 270.5V287.7M648.72 270.5V287.7M659.51 270.5V287.7M670.3 270.5V287.7M681.09 270.5V287.7M691.88 270.5V287.7M702.67 270.5V287.7M713.46 270.5V287.7M724.25 270.5V287.7M735.04 270.5V287.7M745.83 270.5V287.7M756.62 270.5V287.7M767.41 270.5V287.7M778.2 270.5V287.7M788.99 270.5V287.7M799.78 270.5V287.7M810.57 270.5V287.7M821.36 270.5V287.7M832.15 270.5V287.7M842.94 270.5V287.7M853.73 270.5V287.7M864.52 270.5V287.7M875.31 270.5V287.7M886.1 270.5V287.7M896.89 270.5V287.7M907.68 270.5V287.7M918.47 270.5V287.7M929.26 270.5V287.7M940.05 270.5V287.7M950.84 270.5V287.7M961.63 270.5V287.7M972.42 270.5V287.7M983.21 270.5V287.7M994 270.5V287.7M1004.79 270.5V287.7M1015.58 270.5V287.7M1026.37 270.5V287.7M1037.16 270.5V287.7M1047.95 270.5V287.7M1058.74 270.5V287.7M1069.53 270.5V287.7" stroke="#dcdcff" stroke-width="1.6" fill="none" opacity="0.22"/>
<path d="M130.8 305.5V322.7M141.59 305.5V322.7M152.38 305.5V322.7M163.17 305.5V322.7M173.96 305.5V322.7M184.75 305.5V322.7M195.54 305.5V322.7M206.33 305.5V322.7M217.12 305.5V322.7M227.91 305.5V322.7M238.7 305.5V322.7M249.49 305.5V322.7M260.28 305.5V322.7M271.07 305.5V322.7M281.86 305.5V322.7M292.65 305.5V322.7M303.44 305.5V322.7M314.23 305.5V322.7M325.02 305.5V322.7M335.81 305.5V322.7M346.6 305.5V322.7M357.39 305.5V322.7M368.18 305.5V322.7M378.97 305.5V322.7M389.76 305.5V322.7M400.55 305.5V322.7M411.34 305.5V322.7M422.13 305.5V322.7M432.92 305.5V322.7M443.71 305.5V322.7M454.5 305.5V322.7M465.29 305.5V322.7M476.08 305.5V322.7M486.87 305.5V322.7M497.66 305.5V322.7M508.45 305.5V322.7M519.24 305.5V322.7M530.03 305.5V322.7M540.82 305.5V322.7M551.61 305.5V322.7M562.4 305.5V322.7M573.19 305.5V322.7M583.98 305.5V322.7M594.77 305.5V322.7M605.56 305.5V322.7M616.35 305.5V322.7M627.14 305.5V322.7M637.93 305.5V322.7M648.72 305.5V322.7M659.51 305.5V322.7M670.3 305.5V322.7M681.09 305.5V322.7M691.88 305.5V322.7M702.67 305.5V322.7M713.46 305.5V322.7M724.25 305.5V322.7M735.04 305.5V322.7M745.83 305.5V322.7M756.62 305.5V322.7M767.41 305.5V322.7M778.2 305.5V322.7M788.99 305.5V322.7M799.78 305.5V322.7M810.57 305.5V322.7M821.36 305.5V322.7M832.15 305.5V322.7M842.94 305.5V322.7M853.73 305.5V322.7M864.52 305.5V322.7M875.31 305.5V322.7M886.1 305.5V322.7M896.89 305.5V322.7M907.68 305.5V322.7M918.47 305.5V322.7M929.26 305.5V322.7M940.05 305.5V322.7M950.84 305.5V322.7M961.63 305.5V322.7M972.42 305.5V322.7M983.21 305.5V322.7M994 305.5V322.7M1004.79 305.5V322.7M1015.58 305.5V322.7M1026.37 305.5V322.7M1037.16 305.5V322.7M1047.95 305.5V322.7M1058.74 305.5V322.7M1069.53 305.5V322.7" stroke="#dcdcff" stroke-width="1.6" fill="none" opacity="0.22"/>
<path d="M130.8 340.6V357.8M141.59 340.6V357.8M152.38 340.6V357.8M163.17 340.6V357.8M173.96 340.6V357.8M184.75 340.6V357.8M195.54 340.6V357.8M206.33 340.6V357.8M217.12 340.6V357.8M227.91 340.6V357.8M238.7 340.6V357.8M249.49 340.6V357.8M260.28 340.6V357.8M271.07 340.6V357.8M281.86 340.6V357.8M292.65 340.6V357.8M303.44 340.6V357.8M314.23 340.6V357.8M325.02 340.6V357.8M335.81 340.6V357.8M346.6 340.6V357.8M357.39 340.6V357.8M368.18 340.6V357.8M378.97 340.6V357.8M389.76 340.6V357.8M400.55 340.6V357.8M411.34 340.6V357.8M422.13 340.6V357.8M432.92 340.6V357.8M443.71 340.6V357.8M454.5 340.6V357.8M465.29 340.6V357.8M476.08 340.6V357.8M486.87 340.6V357.8M497.66 340.6V357.8M508.45 340.6V357.8M519.24 340.6V357.8M530.03 340.6V357.8M540.82 340.6V357.8M551.61 340.6V357.8M562.4 340.6V357.8M573.19 340.6V357.8M583.98 340.6V357.8M594.77 340.6V357.8M605.56 340.6V357.8M616.35 340.6V357.8M627.14 340.6V357.8M637.93 340.6V357.8M648.72 340.6V357.8M659.51 340.6V357.8M670.3 340.6V357.8M681.09 340.6V357.8M691.88 340.6V357.8M702.67 340.6V357.8M713.46 340.6V357.8M724.25 340.6V357.8M735.04 340.6V357.8M745.83 340.6V357.8M756.62 340.6V357.8M767.41 340.6V357.8M778.2 340.6V357.8M788.99 340.6V357.8M799.78 340.6V357.8M810.57 340.6V357.8M821.36 340.6V357.8M832.15 340.6V357.8M842.94 340.6V357.8M853.73 340.6V357.8M864.52 340.6V357.8M875.31 340.6V357.8M886.1 340.6V357.8M896.89 340.6V357.8M907.68 340.6V357.8M918.47 340.6V357.8M929.26 340.6V357.8M940.05 340.6V357.8M950.84 340.6V357.8M961.63 340.6V357.8M972.42 340.6V357.8M983.21 340.6V357.8M994 340.6V357.8M1004.79 340.6V357.8M1015.58 340.6V357.8M1026.37 340.6V357.8M1037.16 340.6V357.8M1047.95 340.6V357.8M1058.74 340.6V357.8M1069.53 340.6V357.8" stroke="#dcdcff" stroke-width="1.6" fill="none" opacity="0.22"/>
<path d="M130.8 375.6V392.8M141.59 375.6V392.8M152.38 375.6V392.8M163.17 375.6V392.8M173.96 375.6V392.8M184.75 375.6V392.8M195.54 375.6V392.8M206.33 375.6V392.8M217.12 375.6V392.8M227.91 375.6V392.8M238.7 375.6V392.8M249.49 375.6V392.8M260.28 375.6V392.8M271.07 375.6V392.8M281.86 375.6V392.8M292.65 375.6V392.8M303.44 375.6V392.8M314.23 375.6V392.8M325.02 375.6V392.8M335.81 375.6V392.8M346.6 375.6V392.8M357.39 375.6V392.8M368.18 375.6V392.8M378.97 375.6V392.8M389.76 375.6V392.8M400.55 375.6V392.8M411.34 375.6V392.8M422.13 375.6V392.8M432.92 375.6V392.8M443.71 375.6V392.8M454.5 375.6V392.8M465.29 375.6V392.8M476.08 375.6V392.8M486.87 375.6V392.8M497.66 375.6V392.8M508.45 375.6V392.8M519.24 375.6V392.8M530.03 375.6V392.8M540.82 375.6V392.8M551.61 375.6V392.8M562.4 375.6V392.8M573.19 375.6V392.8M583.98 375.6V392.8M594.77 375.6V392.8M605.56 375.6V392.8M616.35 375.6V392.8M627.14 375.6V392.8M637.93 375.6V392.8M648.72 375.6V392.8M659.51 375.6V392.8M670.3 375.6V392.8M681.09 375.6V392.8M691.88 375.6V392.8M702.67 375.6V392.8M713.46 375.6V392.8M724.25 375.6V392.8M735.04 375.6V392.8M745.83 375.6V392.8M756.62 375.6V392.8M767.41 375.6V392.8M778.2 375.6V392.8M788.99 375.6V392.8M799.78 375.6V392.8M810.57 375.6V392.8M821.36 375.6V392.8M832.15 375.6V392.8M842.94 375.6V392.8M853.73 375.6V392.8M864.52 375.6V392.8M875.31 375.6V392.8M886.1 375.6V392.8M896.89 375.6V392.8M907.68 375.6V392.8M918.47 375.6V392.8M929.26 375.6V392.8M940.05 375.6V392.8M950.84 375.6V392.8M961.63 375.6V392.8M972.42 375.6V392.8M983.21 375.6V392.8M994 375.6V392.8M1004.79 375.6V392.8M1015.58 375.6V392.8M1026.37 375.6V392.8M1037.16 375.6V392.8M1047.95 375.6V392.8M1058.74 375.6V392.8M1069.53 375.6V392.8" stroke="#dcdcff" stroke-width="1.6" fill="none" opacity="0.22"/>
<path d="M130.8 410.6V427.8M141.59 410.6V427.8M152.38 410.6V427.8M163.17 410.6V427.8M173.96 410.6V427.8M184.75 410.6V427.8M195.54 410.6V427.8M206.33 410.6V427.8M217.12 410.6V427.8M227.91 410.6V427.8M238.7 410.6V427.8M249.49 410.6V427.8M260.28 410.6V427.8M271.07 410.6V427.8M281.86 410.6V427.8M292.65 410.6V427.8M303.44 410.6V427.8M314.23 410.6V427.8M325.02 410.6V427.8M335.81 410.6V427.8M346.6 410.6V427.8M357.39 410.6V427.8M368.18 410.6V427.8M378.97 410.6V427.8M389.76 410.6V427.8M400.55 410.6V427.8M411.34 410.6V427.8M422.13 410.6V427.8M432.92 410.6V427.8M443.71 410.6V427.8M454.5 410.6V427.8M465.29 410.6V427.8M476.08 410.6V427.8M486.87 410.6V427.8M497.66 410.6V427.8M508.45 410.6V427.8M519.24 410.6V427.8M530.03 410.6V427.8M540.82 410.6V427.8M551.61 410.6V427.8M562.4 410.6V427.8M573.19 410.6V427.8M583.98 410.6V427.8M594.77 410.6V427.8M605.56 410.6V427.8M616.35 410.6V427.8M627.14 410.6V427.8M637.93 410.6V427.8M648.72 410.6V427.8M659.51 410.6V427.8M670.3 410.6V427.8M681.09 410.6V427.8M691.88 410.6V427.8M702.67 410.6V427.8M713.46 410.6V427.8M724.25 410.6V427.8M735.04 410.6V427.8M745.83 410.6V427.8M756.62 410.6V427.8M767.41 410.6V427.8M778.2 410.6V427.8M788.99 410.6V427.8M799.78 410.6V427.8M810.57 410.6V427.8M821.36 410.6V427.8M832.15 410.6V427.8M842.94 410.6V427.8M853.73 410.6V427.8M864.52 410.6V427.8M875.31 410.6V427.8M886.1 410.6V427.8M896.89 410.6V427.8M907.68 410.6V427.8M918.47 410.6V427.8M929.26 410.6V427.8M940.05 410.6V427.8M950.84 410.6V427.8M961.63 410.6V427.8M972.42 410.6V427.8M983.21 410.6V427.8M994 410.6V427.8M1004.79 410.6V427.8M1015.58 410.6V427.8M1026.37 410.6V427.8M1037.16 410.6V427.8M1047.95 410.6V427.8M1058.74 410.6V427.8M1069.53 410.6V427.8" stroke="#dcdcff" stroke-width="1.6" fill="none" opacity="0.22"/>
<path d="M130.8 449V513.6M141.59 449V513.6M152.38 449V513.6M163.17 449V513.6M173.96 449V513.6M184.75 449V513.6M195.54 449V513.6M206.33 449V513.6M217.12 449V513.6M227.91 449V513.6M238.7 449V513.6M249.49 449V513.6M260.28 449V513.6M271.07 449V513.6M281.86 449V513.6M292.65 449V513.6M303.44 449V513.6M314.23 449V513.6M325.02 449V513.6M335.81 449V513.6M346.6 449V513.6M357.39 449V513.6M368.18 449V513.6M378.97 449V513.6M389.76 449V513.6M400.55 449V513.6M411.34 449V513.6M422.13 449V513.6M432.92 449V513.6M443.71 449V513.6M454.5 449V513.6M465.29 449V513.6M476.08 449V513.6M486.87 449V513.6M497.66 449V513.6M508.45 449V513.6M519.24 449V513.6M530.03 449V513.6M540.82 449V513.6M551.61 449V513.6M562.4 449V513.6M573.19 449V513.6M583.98 449V513.6M594.77 449V513.6M605.56 449V513.6M616.35 449V513.6M627.14 449V513.6M637.93 449V513.6M648.72 449V513.6M659.51 449V513.6M670.3 449V513.6M681.09 449V513.6M691.88 449V513.6M702.67 449V513.6M713.46 449V513.6M724.25 449V513.6M735.04 449V513.6M745.83 449V513.6M756.62 449V513.6M767.41 449V513.6M778.2 449V513.6M788.99 449V513.6M799.78 449V513.6M810.57 449V513.6M821.36 449V513.6M832.15 449V513.6M842.94 449V513.6M853.73 449V513.6M864.52 449V513.6M875.31 449V513.6M886.1 449V513.6M896.89 449V513.6M907.68 449V513.6M918.47 449V513.6M929.26 449V513.6M940.05 449V513.6M950.84 449V513.6M961.63 449V513.6M972.42 449V513.6M983.21 449V513.6M994 449V513.6M1004.79 449V513.6M1015.58 449V513.6M1026.37 449V513.6M1037.16 449V513.6M1047.95 449V513.6M1058.74 449V513.6M1069.53 449V513.6" stroke="#dcdcff" stroke-width="1.6" fill="none" opacity="0.22"/>
<path d="M130.8 530.8V567.2M141.59 530.8V567.2M152.38 530.8V567.2M163.17 530.8V567.2M173.96 530.8V567.2M184.75 530.8V567.2M195.54 530.8V567.2M206.33 530.8V567.2M217.12 530.8V567.2M227.91 530.8V567.2M238.7 530.8V567.2M249.49 530.8V567.2M260.28 530.8V567.2M271.07 530.8V567.2M281.86 530.8V567.2M292.65 530.8V567.2M303.44 530.8V567.2M314.23 530.8V567.2M325.02 530.8V567.2M335.81 530.8V567.2M346.6 530.8V567.2M357.39 530.8V567.2M368.18 530.8V567.2M378.97 530.8V567.2M389.76 530.8V567.2M400.55 530.8V567.2M411.34 530.8V567.2M422.13 530.8V567.2M432.92 530.8V567.2M443.71 530.8V567.2M454.5 530.8V567.2M465.29 530.8V567.2M476.08 530.8V567.2M486.87 530.8V567.2M497.66 530.8V567.2M508.45 530.8V567.2M519.24 530.8V567.2M530.03 530.8V567.2M540.82 530.8V567.2M551.61 530.8V567.2M562.4 530.8V567.2M573.19 530.8V567.2M583.98 530.8V567.2M594.77 530.8V567.2M605.56 530.8V567.2M616.35 530.8V567.2M627.14 530.8V567.2M637.93 530.8V567.2M648.72 530.8V567.2M659.51 530.8V567.2M670.3 530.8V567.2M681.09 530.8V567.2M691.88 530.8V567.2M702.67 530.8V567.2M713.46 530.8V567.2M724.25 530.8V567.2M735.04 530.8V567.2M745.83 530.8V567.2M756.62 530.8V567.2M767.41 530.8V567.2M778.2 530.8V567.2M788.99 530.8V567.2M799.78 530.8V567.2M810.57 530.8V567.2M821.36 530.8V567.2M832.15 530.8V567.2M842.94 530.8V567.2M853.73 530.8V567.2M864.52 530.8V567.2M875.31 530.8V567.2M886.1 530.8V567.2M896.89 530.8V567.2M907.68 530.8V567.2M918.47 530.8V567.2M929.26 530.8V567.2M940.05 530.8V567.2M950.84 530.8V567.2M961.63 530.8V567.2M972.42 530.8V567.2M983.21 530.8V567.2M994 530.8V567.2M1004.79 530.8V567.2M1015.58 530.8V567.2M1026.37 530.8V567.2M1037.16 530.8V567.2M1047.95 530.8V567.2M1058.74 530.8V567.2M1069.53 530.8V567.2" stroke="#dcdcff" stroke-width="1.6" fill="none" opacity="0.22"/>
<path d="M130.8 585.2V603M141.59 585.2V603M152.38 585.2V603M163.17 585.2V603M173.96 585.2V603M184.75 585.2V603M195.54 585.2V603M206.33 585.2V603M217.12 585.2V603M227.91 585.2V603M238.7 585.2V603M249.49 585.2V603M260.28 585.2V603M271.07 585.2V603M281.86 585.2V603M292.65 585.2V603M303.44 585.2V603M314.23 585.2V603M325.02 585.2V603M335.81 585.2V603M346.6 585.2V603M357.39 585.2V603M368.18 585.2V603M378.97 585.2V603M389.76 585.2V603M400.55 585.2V603M411.34 585.2V603M422.13 585.2V603M432.92 585.2V603M443.71 585.2V603M454.5 585.2V603M465.29 585.2V603M476.08 585.2V603M486.87 585.2V603M497.66 585.2V603M508.45 585.2V603M519.24 585.2V603M530.03 585.2V603M540.82 585.2V603M551.61 585.2V603M562.4 585.2V603M573.19 585.2V603M583.98 585.2V603M594.77 585.2V603M605.56 585.2V603M616.35 585.2V603M627.14 585.2V603M637.93 585.2V603M648.72 585.2V603M659.51 585.2V603M670.3 585.2V603M681.09 585.2V603M691.88 585.2V603M702.67 585.2V603M713.46 585.2V603M724.25 585.2V603M735.04 585.2V603M745.83 585.2V603M756.62 585.2V603M767.41 585.2V603M778.2 585.2V603M788.99 585.2V603M799.78 585.2V603M810.57 585.2V603M821.36 585.2V603M832.15 585.2V603M842.94 585.2V603M853.73 585.2V603M864.52 585.2V603M875.31 585.2V603M886.1 585.2V603M896.89 585.2V603M907.68 585.2V603M918.47 585.2V603M929.26 585.2V603M940.05 585.2V603M950.84 585.2V603M961.63 585.2V603M972.42 585.2V603M983.21 585.2V603M994 585.2V603M1004.79 585.2V603M1015.58 585.2V603M1026.37 585.2V603M1037.16 585.2V603M1047.95 585.2V603M1058.74 585.2V603M1069.53 585.2V603" stroke="#dcdcff" stroke-width="1.6" fill="none" opacity="0.22"/>
</svg>
</body></html>
